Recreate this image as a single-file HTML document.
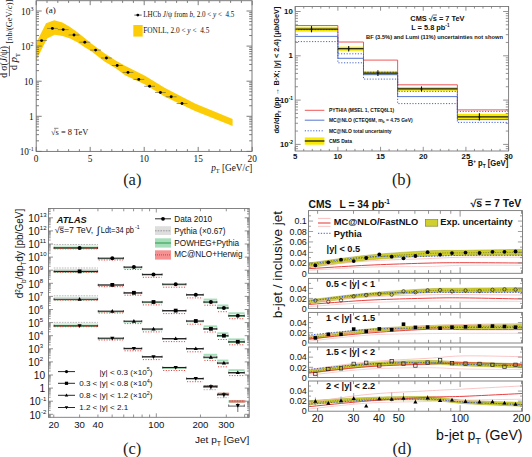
<!DOCTYPE html>
<html><head><meta charset="utf-8"><style>
html,body{margin:0;padding:0;background:#fff;width:532px;height:457px;overflow:hidden}
svg{display:block}

</style></head><body>
<svg width="532" height="457" viewBox="0 0 532 457">
<rect width="532" height="457" fill="#fff"/>
<polygon points="36.40,42.50 46.00,23.30 54.20,20.30 62.40,22.60 70.10,27.10 77.80,32.60 92.00,43.90 104.10,52.90 116.10,60.70 125.00,65.70 145.00,75.70 165.00,88.00 195.00,103.50 232.60,119.10 232.60,125.90 195.00,111.10 165.00,96.70 145.00,84.50 125.00,75.20 116.10,68.60 104.10,61.30 92.00,51.70 84.00,46.80 77.80,42.40 70.10,38.60 62.40,35.90 54.80,34.80 47.10,38.60 36.40,60.00" fill="#fccd06" />
<line x1="36.20" y1="40.60" x2="47.00" y2="40.60" stroke="#555" stroke-width="0.6" />
<circle cx="41.60" cy="40.60" r="1.45" fill="#000" stroke="none" stroke-width="1"/>
<line x1="47.00" y1="28.40" x2="57.80" y2="28.40" stroke="#555" stroke-width="0.6" />
<circle cx="52.40" cy="28.40" r="1.45" fill="#000" stroke="none" stroke-width="1"/>
<line x1="57.80" y1="29.60" x2="68.60" y2="29.60" stroke="#555" stroke-width="0.6" />
<circle cx="63.20" cy="29.60" r="1.45" fill="#000" stroke="none" stroke-width="1"/>
<line x1="68.60" y1="35.00" x2="79.40" y2="35.00" stroke="#555" stroke-width="0.6" />
<circle cx="74.00" cy="35.00" r="1.45" fill="#000" stroke="none" stroke-width="1"/>
<line x1="79.40" y1="42.20" x2="90.20" y2="42.20" stroke="#555" stroke-width="0.6" />
<circle cx="84.80" cy="42.20" r="1.45" fill="#000" stroke="none" stroke-width="1"/>
<line x1="90.20" y1="50.10" x2="101.00" y2="50.10" stroke="#555" stroke-width="0.6" />
<circle cx="95.60" cy="50.10" r="1.45" fill="#000" stroke="none" stroke-width="1"/>
<line x1="101.00" y1="58.00" x2="111.80" y2="58.00" stroke="#555" stroke-width="0.6" />
<circle cx="106.40" cy="58.00" r="1.45" fill="#000" stroke="none" stroke-width="1"/>
<line x1="111.80" y1="65.50" x2="122.60" y2="65.50" stroke="#555" stroke-width="0.6" />
<circle cx="117.20" cy="65.50" r="1.45" fill="#000" stroke="none" stroke-width="1"/>
<line x1="122.60" y1="72.40" x2="133.40" y2="72.40" stroke="#555" stroke-width="0.6" />
<circle cx="128.00" cy="72.40" r="1.45" fill="#000" stroke="none" stroke-width="1"/>
<line x1="133.40" y1="79.40" x2="144.20" y2="79.40" stroke="#555" stroke-width="0.6" />
<circle cx="138.80" cy="79.40" r="1.45" fill="#000" stroke="none" stroke-width="1"/>
<line x1="144.20" y1="86.30" x2="155.00" y2="86.30" stroke="#555" stroke-width="0.6" />
<circle cx="149.60" cy="86.30" r="1.45" fill="#000" stroke="none" stroke-width="1"/>
<line x1="155.00" y1="92.50" x2="165.80" y2="92.50" stroke="#555" stroke-width="0.6" />
<circle cx="160.40" cy="92.50" r="1.45" fill="#000" stroke="none" stroke-width="1"/>
<line x1="165.80" y1="96.80" x2="176.60" y2="96.80" stroke="#555" stroke-width="0.6" />
<circle cx="171.20" cy="96.80" r="1.45" fill="#000" stroke="none" stroke-width="1"/>
<line x1="176.60" y1="103.50" x2="187.40" y2="103.50" stroke="#555" stroke-width="0.6" />
<circle cx="182.00" cy="103.50" r="1.45" fill="#000" stroke="none" stroke-width="1"/>
<rect x="36.20" y="0.70" width="215.80" height="150.70" fill="none" stroke="#6e6e6e" stroke-width="0.9" />
<line x1="36.20" y1="151.40" x2="36.20" y2="146.90" stroke="#6e6e6e" stroke-width="0.9" />
<line x1="36.20" y1="0.70" x2="36.20" y2="5.20" stroke="#6e6e6e" stroke-width="0.9" />
<line x1="47.00" y1="151.40" x2="47.00" y2="149.20" stroke="#6e6e6e" stroke-width="0.9" />
<line x1="47.00" y1="0.70" x2="47.00" y2="2.90" stroke="#6e6e6e" stroke-width="0.9" />
<line x1="57.80" y1="151.40" x2="57.80" y2="149.20" stroke="#6e6e6e" stroke-width="0.9" />
<line x1="57.80" y1="0.70" x2="57.80" y2="2.90" stroke="#6e6e6e" stroke-width="0.9" />
<line x1="68.60" y1="151.40" x2="68.60" y2="149.20" stroke="#6e6e6e" stroke-width="0.9" />
<line x1="68.60" y1="0.70" x2="68.60" y2="2.90" stroke="#6e6e6e" stroke-width="0.9" />
<line x1="79.40" y1="151.40" x2="79.40" y2="149.20" stroke="#6e6e6e" stroke-width="0.9" />
<line x1="79.40" y1="0.70" x2="79.40" y2="2.90" stroke="#6e6e6e" stroke-width="0.9" />
<line x1="90.20" y1="151.40" x2="90.20" y2="146.90" stroke="#6e6e6e" stroke-width="0.9" />
<line x1="90.20" y1="0.70" x2="90.20" y2="5.20" stroke="#6e6e6e" stroke-width="0.9" />
<line x1="101.00" y1="151.40" x2="101.00" y2="149.20" stroke="#6e6e6e" stroke-width="0.9" />
<line x1="101.00" y1="0.70" x2="101.00" y2="2.90" stroke="#6e6e6e" stroke-width="0.9" />
<line x1="111.80" y1="151.40" x2="111.80" y2="149.20" stroke="#6e6e6e" stroke-width="0.9" />
<line x1="111.80" y1="0.70" x2="111.80" y2="2.90" stroke="#6e6e6e" stroke-width="0.9" />
<line x1="122.60" y1="151.40" x2="122.60" y2="149.20" stroke="#6e6e6e" stroke-width="0.9" />
<line x1="122.60" y1="0.70" x2="122.60" y2="2.90" stroke="#6e6e6e" stroke-width="0.9" />
<line x1="133.40" y1="151.40" x2="133.40" y2="149.20" stroke="#6e6e6e" stroke-width="0.9" />
<line x1="133.40" y1="0.70" x2="133.40" y2="2.90" stroke="#6e6e6e" stroke-width="0.9" />
<line x1="144.20" y1="151.40" x2="144.20" y2="146.90" stroke="#6e6e6e" stroke-width="0.9" />
<line x1="144.20" y1="0.70" x2="144.20" y2="5.20" stroke="#6e6e6e" stroke-width="0.9" />
<line x1="155.00" y1="151.40" x2="155.00" y2="149.20" stroke="#6e6e6e" stroke-width="0.9" />
<line x1="155.00" y1="0.70" x2="155.00" y2="2.90" stroke="#6e6e6e" stroke-width="0.9" />
<line x1="165.80" y1="151.40" x2="165.80" y2="149.20" stroke="#6e6e6e" stroke-width="0.9" />
<line x1="165.80" y1="0.70" x2="165.80" y2="2.90" stroke="#6e6e6e" stroke-width="0.9" />
<line x1="176.60" y1="151.40" x2="176.60" y2="149.20" stroke="#6e6e6e" stroke-width="0.9" />
<line x1="176.60" y1="0.70" x2="176.60" y2="2.90" stroke="#6e6e6e" stroke-width="0.9" />
<line x1="187.40" y1="151.40" x2="187.40" y2="149.20" stroke="#6e6e6e" stroke-width="0.9" />
<line x1="187.40" y1="0.70" x2="187.40" y2="2.90" stroke="#6e6e6e" stroke-width="0.9" />
<line x1="198.20" y1="151.40" x2="198.20" y2="146.90" stroke="#6e6e6e" stroke-width="0.9" />
<line x1="198.20" y1="0.70" x2="198.20" y2="5.20" stroke="#6e6e6e" stroke-width="0.9" />
<line x1="209.00" y1="151.40" x2="209.00" y2="149.20" stroke="#6e6e6e" stroke-width="0.9" />
<line x1="209.00" y1="0.70" x2="209.00" y2="2.90" stroke="#6e6e6e" stroke-width="0.9" />
<line x1="219.80" y1="151.40" x2="219.80" y2="149.20" stroke="#6e6e6e" stroke-width="0.9" />
<line x1="219.80" y1="0.70" x2="219.80" y2="2.90" stroke="#6e6e6e" stroke-width="0.9" />
<line x1="230.60" y1="151.40" x2="230.60" y2="149.20" stroke="#6e6e6e" stroke-width="0.9" />
<line x1="230.60" y1="0.70" x2="230.60" y2="2.90" stroke="#6e6e6e" stroke-width="0.9" />
<line x1="241.40" y1="151.40" x2="241.40" y2="149.20" stroke="#6e6e6e" stroke-width="0.9" />
<line x1="241.40" y1="0.70" x2="241.40" y2="2.90" stroke="#6e6e6e" stroke-width="0.9" />
<line x1="252.20" y1="151.40" x2="252.20" y2="146.90" stroke="#6e6e6e" stroke-width="0.9" />
<line x1="252.20" y1="0.70" x2="252.20" y2="5.20" stroke="#6e6e6e" stroke-width="0.9" />
<line x1="36.20" y1="151.40" x2="41.70" y2="151.40" stroke="#6e6e6e" stroke-width="0.9" />
<line x1="252.00" y1="151.40" x2="246.50" y2="151.40" stroke="#6e6e6e" stroke-width="0.9" />
<line x1="36.20" y1="140.83" x2="39.00" y2="140.83" stroke="#6e6e6e" stroke-width="0.9" />
<line x1="252.00" y1="140.83" x2="249.20" y2="140.83" stroke="#6e6e6e" stroke-width="0.9" />
<line x1="36.20" y1="134.65" x2="39.00" y2="134.65" stroke="#6e6e6e" stroke-width="0.9" />
<line x1="252.00" y1="134.65" x2="249.20" y2="134.65" stroke="#6e6e6e" stroke-width="0.9" />
<line x1="36.20" y1="130.27" x2="39.00" y2="130.27" stroke="#6e6e6e" stroke-width="0.9" />
<line x1="252.00" y1="130.27" x2="249.20" y2="130.27" stroke="#6e6e6e" stroke-width="0.9" />
<line x1="36.20" y1="126.87" x2="39.00" y2="126.87" stroke="#6e6e6e" stroke-width="0.9" />
<line x1="252.00" y1="126.87" x2="249.20" y2="126.87" stroke="#6e6e6e" stroke-width="0.9" />
<line x1="36.20" y1="124.09" x2="39.00" y2="124.09" stroke="#6e6e6e" stroke-width="0.9" />
<line x1="252.00" y1="124.09" x2="249.20" y2="124.09" stroke="#6e6e6e" stroke-width="0.9" />
<line x1="36.20" y1="121.74" x2="39.00" y2="121.74" stroke="#6e6e6e" stroke-width="0.9" />
<line x1="252.00" y1="121.74" x2="249.20" y2="121.74" stroke="#6e6e6e" stroke-width="0.9" />
<line x1="36.20" y1="119.70" x2="39.00" y2="119.70" stroke="#6e6e6e" stroke-width="0.9" />
<line x1="252.00" y1="119.70" x2="249.20" y2="119.70" stroke="#6e6e6e" stroke-width="0.9" />
<line x1="36.20" y1="117.91" x2="39.00" y2="117.91" stroke="#6e6e6e" stroke-width="0.9" />
<line x1="252.00" y1="117.91" x2="249.20" y2="117.91" stroke="#6e6e6e" stroke-width="0.9" />
<line x1="36.20" y1="116.30" x2="41.70" y2="116.30" stroke="#6e6e6e" stroke-width="0.9" />
<line x1="252.00" y1="116.30" x2="246.50" y2="116.30" stroke="#6e6e6e" stroke-width="0.9" />
<line x1="36.20" y1="105.73" x2="39.00" y2="105.73" stroke="#6e6e6e" stroke-width="0.9" />
<line x1="252.00" y1="105.73" x2="249.20" y2="105.73" stroke="#6e6e6e" stroke-width="0.9" />
<line x1="36.20" y1="99.55" x2="39.00" y2="99.55" stroke="#6e6e6e" stroke-width="0.9" />
<line x1="252.00" y1="99.55" x2="249.20" y2="99.55" stroke="#6e6e6e" stroke-width="0.9" />
<line x1="36.20" y1="95.17" x2="39.00" y2="95.17" stroke="#6e6e6e" stroke-width="0.9" />
<line x1="252.00" y1="95.17" x2="249.20" y2="95.17" stroke="#6e6e6e" stroke-width="0.9" />
<line x1="36.20" y1="91.77" x2="39.00" y2="91.77" stroke="#6e6e6e" stroke-width="0.9" />
<line x1="252.00" y1="91.77" x2="249.20" y2="91.77" stroke="#6e6e6e" stroke-width="0.9" />
<line x1="36.20" y1="88.99" x2="39.00" y2="88.99" stroke="#6e6e6e" stroke-width="0.9" />
<line x1="252.00" y1="88.99" x2="249.20" y2="88.99" stroke="#6e6e6e" stroke-width="0.9" />
<line x1="36.20" y1="86.64" x2="39.00" y2="86.64" stroke="#6e6e6e" stroke-width="0.9" />
<line x1="252.00" y1="86.64" x2="249.20" y2="86.64" stroke="#6e6e6e" stroke-width="0.9" />
<line x1="36.20" y1="84.60" x2="39.00" y2="84.60" stroke="#6e6e6e" stroke-width="0.9" />
<line x1="252.00" y1="84.60" x2="249.20" y2="84.60" stroke="#6e6e6e" stroke-width="0.9" />
<line x1="36.20" y1="82.81" x2="39.00" y2="82.81" stroke="#6e6e6e" stroke-width="0.9" />
<line x1="252.00" y1="82.81" x2="249.20" y2="82.81" stroke="#6e6e6e" stroke-width="0.9" />
<line x1="36.20" y1="81.20" x2="41.70" y2="81.20" stroke="#6e6e6e" stroke-width="0.9" />
<line x1="252.00" y1="81.20" x2="246.50" y2="81.20" stroke="#6e6e6e" stroke-width="0.9" />
<line x1="36.20" y1="70.63" x2="39.00" y2="70.63" stroke="#6e6e6e" stroke-width="0.9" />
<line x1="252.00" y1="70.63" x2="249.20" y2="70.63" stroke="#6e6e6e" stroke-width="0.9" />
<line x1="36.20" y1="64.45" x2="39.00" y2="64.45" stroke="#6e6e6e" stroke-width="0.9" />
<line x1="252.00" y1="64.45" x2="249.20" y2="64.45" stroke="#6e6e6e" stroke-width="0.9" />
<line x1="36.20" y1="60.07" x2="39.00" y2="60.07" stroke="#6e6e6e" stroke-width="0.9" />
<line x1="252.00" y1="60.07" x2="249.20" y2="60.07" stroke="#6e6e6e" stroke-width="0.9" />
<line x1="36.20" y1="56.67" x2="39.00" y2="56.67" stroke="#6e6e6e" stroke-width="0.9" />
<line x1="252.00" y1="56.67" x2="249.20" y2="56.67" stroke="#6e6e6e" stroke-width="0.9" />
<line x1="36.20" y1="53.89" x2="39.00" y2="53.89" stroke="#6e6e6e" stroke-width="0.9" />
<line x1="252.00" y1="53.89" x2="249.20" y2="53.89" stroke="#6e6e6e" stroke-width="0.9" />
<line x1="36.20" y1="51.54" x2="39.00" y2="51.54" stroke="#6e6e6e" stroke-width="0.9" />
<line x1="252.00" y1="51.54" x2="249.20" y2="51.54" stroke="#6e6e6e" stroke-width="0.9" />
<line x1="36.20" y1="49.50" x2="39.00" y2="49.50" stroke="#6e6e6e" stroke-width="0.9" />
<line x1="252.00" y1="49.50" x2="249.20" y2="49.50" stroke="#6e6e6e" stroke-width="0.9" />
<line x1="36.20" y1="47.71" x2="39.00" y2="47.71" stroke="#6e6e6e" stroke-width="0.9" />
<line x1="252.00" y1="47.71" x2="249.20" y2="47.71" stroke="#6e6e6e" stroke-width="0.9" />
<line x1="36.20" y1="46.10" x2="41.70" y2="46.10" stroke="#6e6e6e" stroke-width="0.9" />
<line x1="252.00" y1="46.10" x2="246.50" y2="46.10" stroke="#6e6e6e" stroke-width="0.9" />
<line x1="36.20" y1="35.53" x2="39.00" y2="35.53" stroke="#6e6e6e" stroke-width="0.9" />
<line x1="252.00" y1="35.53" x2="249.20" y2="35.53" stroke="#6e6e6e" stroke-width="0.9" />
<line x1="36.20" y1="29.35" x2="39.00" y2="29.35" stroke="#6e6e6e" stroke-width="0.9" />
<line x1="252.00" y1="29.35" x2="249.20" y2="29.35" stroke="#6e6e6e" stroke-width="0.9" />
<line x1="36.20" y1="24.97" x2="39.00" y2="24.97" stroke="#6e6e6e" stroke-width="0.9" />
<line x1="252.00" y1="24.97" x2="249.20" y2="24.97" stroke="#6e6e6e" stroke-width="0.9" />
<line x1="36.20" y1="21.57" x2="39.00" y2="21.57" stroke="#6e6e6e" stroke-width="0.9" />
<line x1="252.00" y1="21.57" x2="249.20" y2="21.57" stroke="#6e6e6e" stroke-width="0.9" />
<line x1="36.20" y1="18.79" x2="39.00" y2="18.79" stroke="#6e6e6e" stroke-width="0.9" />
<line x1="252.00" y1="18.79" x2="249.20" y2="18.79" stroke="#6e6e6e" stroke-width="0.9" />
<line x1="36.20" y1="16.44" x2="39.00" y2="16.44" stroke="#6e6e6e" stroke-width="0.9" />
<line x1="252.00" y1="16.44" x2="249.20" y2="16.44" stroke="#6e6e6e" stroke-width="0.9" />
<line x1="36.20" y1="14.40" x2="39.00" y2="14.40" stroke="#6e6e6e" stroke-width="0.9" />
<line x1="252.00" y1="14.40" x2="249.20" y2="14.40" stroke="#6e6e6e" stroke-width="0.9" />
<line x1="36.20" y1="12.61" x2="39.00" y2="12.61" stroke="#6e6e6e" stroke-width="0.9" />
<line x1="252.00" y1="12.61" x2="249.20" y2="12.61" stroke="#6e6e6e" stroke-width="0.9" />
<line x1="36.20" y1="11.00" x2="41.70" y2="11.00" stroke="#6e6e6e" stroke-width="0.9" />
<line x1="252.00" y1="11.00" x2="246.50" y2="11.00" stroke="#6e6e6e" stroke-width="0.9" />
<text x="36.20" y="162.00" font-family='"Liberation Serif", serif' font-size="9.3" text-anchor="middle" font-weight="normal" font-style="normal" fill="#111" >0</text>
<text x="90.20" y="162.00" font-family='"Liberation Serif", serif' font-size="9.3" text-anchor="middle" font-weight="normal" font-style="normal" fill="#111" >5</text>
<text x="144.20" y="162.00" font-family='"Liberation Serif", serif' font-size="9.3" text-anchor="middle" font-weight="normal" font-style="normal" fill="#111" >10</text>
<text x="198.20" y="162.00" font-family='"Liberation Serif", serif' font-size="9.3" text-anchor="middle" font-weight="normal" font-style="normal" fill="#111" >15</text>
<text x="252.20" y="162.00" font-family='"Liberation Serif", serif' font-size="9.3" text-anchor="middle" font-weight="normal" font-style="normal" fill="#111" >20</text>
<text x="30.40" y="15.00" font-family='"Liberation Serif", serif' font-size="9.3" text-anchor="end" font-weight="normal" font-style="normal" fill="#111" >10</text>
<text x="30.60" y="11.00" font-family='"Liberation Serif", serif' font-size="6" text-anchor="start" font-weight="normal" font-style="normal" fill="#111" >3</text>
<text x="30.40" y="50.10" font-family='"Liberation Serif", serif' font-size="9.3" text-anchor="end" font-weight="normal" font-style="normal" fill="#111" >10</text>
<text x="30.60" y="46.10" font-family='"Liberation Serif", serif' font-size="6" text-anchor="start" font-weight="normal" font-style="normal" fill="#111" >2</text>
<text x="33.20" y="85.20" font-family='"Liberation Serif", serif' font-size="9.3" text-anchor="end" font-weight="normal" font-style="normal" fill="#111" >10</text>
<text x="33.60" y="120.10" font-family='"Liberation Serif", serif' font-size="9.3" text-anchor="end" font-weight="normal" font-style="normal" fill="#111" >1</text>
<text x="29.00" y="155.00" font-family='"Liberation Serif", serif' font-size="9.3" text-anchor="end" font-weight="normal" font-style="normal" fill="#111" >10</text>
<text x="28.80" y="151.10" font-family='"Liberation Serif", serif' font-size="6" text-anchor="start" font-weight="normal" font-style="normal" fill="#111" >-1</text>
<text x="252.4" y="170.5" font-family='"Liberation Serif", serif' font-size="9.3" text-anchor="end" fill="#111"><tspan font-style="italic">p</tspan><tspan font-size="6.2" dy="2.2">T</tspan><tspan dy="-2.2"> [GeV/</tspan><tspan font-style="italic">c</tspan>]</text>
<g transform="translate(6.8,62.0) rotate(-90)"><text x="0" y="0" font-family='"Liberation Serif", serif' font-size="9.6" text-anchor="middle" fill="#111">d σ(<tspan font-style="italic">J</tspan>/ψ)</text></g>
<line x1="9.40" y1="45.80" x2="9.40" y2="76.20" stroke="#222" stroke-width="0.7" />
<g transform="translate(17.3,61.6) rotate(-90)"><text x="0" y="0" font-family='"Liberation Serif", serif' font-size="9.8" text-anchor="middle" fill="#111">d <tspan font-style="italic" font-size="11.0">p</tspan><tspan font-size="6.3" dy="2.6">T</tspan></text></g>
<g transform="translate(12.0,43.5) rotate(-90)"><text x="0" y="0" font-family='"Liberation Serif", serif' font-size="8.4" text-anchor="start" fill="#111">[nb/(GeV/<tspan font-style="italic">c</tspan>)]</text></g>
<text x="45.80" y="13.40" font-family='"Liberation Serif", serif' font-size="9.0" text-anchor="start" font-weight="normal" font-style="normal" fill="#111" >(a)</text>
<line x1="134.30" y1="15.10" x2="141.70" y2="15.10" stroke="#222" stroke-width="0.7" />
<circle cx="137.80" cy="15.10" r="1.40" fill="#000" stroke="none" stroke-width="1"/>
<text x="143.3" y="17.4" textLength="91" lengthAdjust="spacingAndGlyphs" font-family='"Liberation Serif", serif' font-size="7.3" fill="#111">LHCb <tspan font-style="italic">J</tspan>/ψ from <tspan font-style="italic">b</tspan>, 2.0 &lt; <tspan font-style="italic">y</tspan> &lt;&#160; 4.5</text>
<rect x="133.30" y="25.00" width="9.40" height="11.60" fill="#fccd06" stroke="none" stroke-width="1" />
<text x="143.3" y="33.0" font-family='"Liberation Serif", serif' font-size="7.3" fill="#111">FONLL, 2.0 &lt; <tspan font-style="italic">y</tspan> &lt;&#160; 4.5</text>
<text x="51.00" y="134.60" font-family='"Liberation Serif", serif' font-size="7.9" text-anchor="start" font-weight="normal" font-style="normal" fill="#111"  textLength="37.2" lengthAdjust="spacingAndGlyphs">√s = 8 TeV</text>
<line x1="54.00" y1="128.30" x2="58.40" y2="128.30" stroke="#111" stroke-width="0.5" />
<text x="132.30" y="185.00" font-family='"Liberation Serif", serif' font-size="16.5" text-anchor="middle" font-weight="normal" font-style="normal" fill="#222" >(a)</text>
<rect x="295.20" y="26.70" width="42.68" height="5.00" fill="#f7ea00" stroke="none" stroke-width="1" />
<rect x="337.88" y="46.60" width="25.61" height="4.20" fill="#f7ea00" stroke="none" stroke-width="1" />
<rect x="363.49" y="70.90" width="34.14" height="4.40" fill="#f7ea00" stroke="none" stroke-width="1" />
<rect x="397.63" y="87.00" width="59.75" height="3.80" fill="#f7ea00" stroke="none" stroke-width="1" />
<rect x="457.38" y="113.80" width="51.22" height="6.20" fill="#f7ea00" stroke="none" stroke-width="1" />
<polyline points="295.20,25.50 337.88,25.50 337.88,42.00 363.49,42.00 363.49,60.10 397.63,60.10 397.63,84.80 457.38,84.80 457.38,109.90 508.60,109.90" fill="none" stroke="#ee4444" stroke-width="0.9" />
<polyline points="295.20,36.40 337.88,36.40 337.88,58.30 363.49,58.30 363.49,74.60 397.63,74.60 397.63,96.60 457.38,96.60 457.38,119.60 508.60,119.60" fill="none" stroke="#4466cc" stroke-width="0.9" />
<polyline points="295.20,29.60 337.88,29.60 337.88,53.80 363.49,53.80 363.49,72.20 397.63,72.20 397.63,91.40 457.38,91.40 457.38,111.40 508.60,111.40" fill="none" stroke="#3355cc" stroke-width="0.9" stroke-dasharray="1.2,1.6"/>
<polyline points="295.20,41.60 337.88,41.60 337.88,62.80 363.49,62.80 363.49,79.10 397.63,79.10 397.63,103.60 457.38,103.60 457.38,122.40 508.60,122.40" fill="none" stroke="#3355cc" stroke-width="0.9" stroke-dasharray="1.2,1.6"/>
<line x1="295.20" y1="29.20" x2="337.88" y2="29.20" stroke="#1a1a1a" stroke-width="1.25" />
<line x1="311.50" y1="26.10" x2="311.50" y2="32.30" stroke="#111" stroke-width="1.1" />
<circle cx="311.50" cy="29.20" r="0.90" fill="#111" stroke="none" stroke-width="1"/>
<line x1="337.88" y1="48.70" x2="363.49" y2="48.70" stroke="#1a1a1a" stroke-width="1.25" />
<line x1="348.70" y1="46.00" x2="348.70" y2="51.40" stroke="#111" stroke-width="1.1" />
<circle cx="348.70" cy="48.70" r="0.90" fill="#111" stroke="none" stroke-width="1"/>
<line x1="363.49" y1="73.10" x2="397.63" y2="73.10" stroke="#1a1a1a" stroke-width="1.25" />
<line x1="377.90" y1="70.30" x2="377.90" y2="75.90" stroke="#111" stroke-width="1.1" />
<circle cx="377.90" cy="73.10" r="0.90" fill="#111" stroke="none" stroke-width="1"/>
<line x1="397.63" y1="88.90" x2="457.38" y2="88.90" stroke="#1a1a1a" stroke-width="1.25" />
<line x1="421.50" y1="86.40" x2="421.50" y2="91.40" stroke="#111" stroke-width="1.1" />
<circle cx="421.50" cy="88.90" r="0.90" fill="#111" stroke="none" stroke-width="1"/>
<line x1="457.38" y1="116.90" x2="508.60" y2="116.90" stroke="#1a1a1a" stroke-width="1.25" />
<line x1="479.40" y1="113.20" x2="479.40" y2="120.60" stroke="#111" stroke-width="1.1" />
<circle cx="479.40" cy="116.90" r="0.90" fill="#111" stroke="none" stroke-width="1"/>
<rect x="295.20" y="6.50" width="213.40" height="144.50" fill="none" stroke="#777" stroke-width="0.9" />
<line x1="295.20" y1="151.00" x2="295.20" y2="146.80" stroke="#777" stroke-width="0.8" />
<line x1="295.20" y1="6.50" x2="295.20" y2="10.70" stroke="#777" stroke-width="0.8" />
<line x1="303.74" y1="151.00" x2="303.74" y2="148.90" stroke="#777" stroke-width="0.8" />
<line x1="303.74" y1="6.50" x2="303.74" y2="8.60" stroke="#777" stroke-width="0.8" />
<line x1="312.27" y1="151.00" x2="312.27" y2="148.90" stroke="#777" stroke-width="0.8" />
<line x1="312.27" y1="6.50" x2="312.27" y2="8.60" stroke="#777" stroke-width="0.8" />
<line x1="320.81" y1="151.00" x2="320.81" y2="148.90" stroke="#777" stroke-width="0.8" />
<line x1="320.81" y1="6.50" x2="320.81" y2="8.60" stroke="#777" stroke-width="0.8" />
<line x1="329.34" y1="151.00" x2="329.34" y2="148.90" stroke="#777" stroke-width="0.8" />
<line x1="329.34" y1="6.50" x2="329.34" y2="8.60" stroke="#777" stroke-width="0.8" />
<line x1="337.88" y1="151.00" x2="337.88" y2="146.80" stroke="#777" stroke-width="0.8" />
<line x1="337.88" y1="6.50" x2="337.88" y2="10.70" stroke="#777" stroke-width="0.8" />
<line x1="346.42" y1="151.00" x2="346.42" y2="148.90" stroke="#777" stroke-width="0.8" />
<line x1="346.42" y1="6.50" x2="346.42" y2="8.60" stroke="#777" stroke-width="0.8" />
<line x1="354.95" y1="151.00" x2="354.95" y2="148.90" stroke="#777" stroke-width="0.8" />
<line x1="354.95" y1="6.50" x2="354.95" y2="8.60" stroke="#777" stroke-width="0.8" />
<line x1="363.49" y1="151.00" x2="363.49" y2="148.90" stroke="#777" stroke-width="0.8" />
<line x1="363.49" y1="6.50" x2="363.49" y2="8.60" stroke="#777" stroke-width="0.8" />
<line x1="372.02" y1="151.00" x2="372.02" y2="148.90" stroke="#777" stroke-width="0.8" />
<line x1="372.02" y1="6.50" x2="372.02" y2="8.60" stroke="#777" stroke-width="0.8" />
<line x1="380.56" y1="151.00" x2="380.56" y2="146.80" stroke="#777" stroke-width="0.8" />
<line x1="380.56" y1="6.50" x2="380.56" y2="10.70" stroke="#777" stroke-width="0.8" />
<line x1="389.10" y1="151.00" x2="389.10" y2="148.90" stroke="#777" stroke-width="0.8" />
<line x1="389.10" y1="6.50" x2="389.10" y2="8.60" stroke="#777" stroke-width="0.8" />
<line x1="397.63" y1="151.00" x2="397.63" y2="148.90" stroke="#777" stroke-width="0.8" />
<line x1="397.63" y1="6.50" x2="397.63" y2="8.60" stroke="#777" stroke-width="0.8" />
<line x1="406.17" y1="151.00" x2="406.17" y2="148.90" stroke="#777" stroke-width="0.8" />
<line x1="406.17" y1="6.50" x2="406.17" y2="8.60" stroke="#777" stroke-width="0.8" />
<line x1="414.70" y1="151.00" x2="414.70" y2="148.90" stroke="#777" stroke-width="0.8" />
<line x1="414.70" y1="6.50" x2="414.70" y2="8.60" stroke="#777" stroke-width="0.8" />
<line x1="423.24" y1="151.00" x2="423.24" y2="146.80" stroke="#777" stroke-width="0.8" />
<line x1="423.24" y1="6.50" x2="423.24" y2="10.70" stroke="#777" stroke-width="0.8" />
<line x1="431.78" y1="151.00" x2="431.78" y2="148.90" stroke="#777" stroke-width="0.8" />
<line x1="431.78" y1="6.50" x2="431.78" y2="8.60" stroke="#777" stroke-width="0.8" />
<line x1="440.31" y1="151.00" x2="440.31" y2="148.90" stroke="#777" stroke-width="0.8" />
<line x1="440.31" y1="6.50" x2="440.31" y2="8.60" stroke="#777" stroke-width="0.8" />
<line x1="448.85" y1="151.00" x2="448.85" y2="148.90" stroke="#777" stroke-width="0.8" />
<line x1="448.85" y1="6.50" x2="448.85" y2="8.60" stroke="#777" stroke-width="0.8" />
<line x1="457.38" y1="151.00" x2="457.38" y2="148.90" stroke="#777" stroke-width="0.8" />
<line x1="457.38" y1="6.50" x2="457.38" y2="8.60" stroke="#777" stroke-width="0.8" />
<line x1="465.92" y1="151.00" x2="465.92" y2="146.80" stroke="#777" stroke-width="0.8" />
<line x1="465.92" y1="6.50" x2="465.92" y2="10.70" stroke="#777" stroke-width="0.8" />
<line x1="474.46" y1="151.00" x2="474.46" y2="148.90" stroke="#777" stroke-width="0.8" />
<line x1="474.46" y1="6.50" x2="474.46" y2="8.60" stroke="#777" stroke-width="0.8" />
<line x1="482.99" y1="151.00" x2="482.99" y2="148.90" stroke="#777" stroke-width="0.8" />
<line x1="482.99" y1="6.50" x2="482.99" y2="8.60" stroke="#777" stroke-width="0.8" />
<line x1="491.53" y1="151.00" x2="491.53" y2="148.90" stroke="#777" stroke-width="0.8" />
<line x1="491.53" y1="6.50" x2="491.53" y2="8.60" stroke="#777" stroke-width="0.8" />
<line x1="500.06" y1="151.00" x2="500.06" y2="148.90" stroke="#777" stroke-width="0.8" />
<line x1="500.06" y1="6.50" x2="500.06" y2="8.60" stroke="#777" stroke-width="0.8" />
<line x1="508.60" y1="151.00" x2="508.60" y2="146.80" stroke="#777" stroke-width="0.8" />
<line x1="508.60" y1="6.50" x2="508.60" y2="10.70" stroke="#777" stroke-width="0.8" />
<line x1="295.20" y1="148.69" x2="298.00" y2="148.69" stroke="#777" stroke-width="0.8" />
<line x1="508.60" y1="148.69" x2="505.80" y2="148.69" stroke="#777" stroke-width="0.8" />
<line x1="295.20" y1="146.43" x2="298.00" y2="146.43" stroke="#777" stroke-width="0.8" />
<line x1="508.60" y1="146.43" x2="505.80" y2="146.43" stroke="#777" stroke-width="0.8" />
<line x1="295.20" y1="144.40" x2="300.70" y2="144.40" stroke="#777" stroke-width="0.8" />
<line x1="508.60" y1="144.40" x2="503.10" y2="144.40" stroke="#777" stroke-width="0.8" />
<line x1="295.20" y1="131.06" x2="298.00" y2="131.06" stroke="#777" stroke-width="0.8" />
<line x1="508.60" y1="131.06" x2="505.80" y2="131.06" stroke="#777" stroke-width="0.8" />
<line x1="295.20" y1="123.26" x2="298.00" y2="123.26" stroke="#777" stroke-width="0.8" />
<line x1="508.60" y1="123.26" x2="505.80" y2="123.26" stroke="#777" stroke-width="0.8" />
<line x1="295.20" y1="117.73" x2="298.00" y2="117.73" stroke="#777" stroke-width="0.8" />
<line x1="508.60" y1="117.73" x2="505.80" y2="117.73" stroke="#777" stroke-width="0.8" />
<line x1="295.20" y1="113.44" x2="298.00" y2="113.44" stroke="#777" stroke-width="0.8" />
<line x1="508.60" y1="113.44" x2="505.80" y2="113.44" stroke="#777" stroke-width="0.8" />
<line x1="295.20" y1="109.93" x2="298.00" y2="109.93" stroke="#777" stroke-width="0.8" />
<line x1="508.60" y1="109.93" x2="505.80" y2="109.93" stroke="#777" stroke-width="0.8" />
<line x1="295.20" y1="106.96" x2="298.00" y2="106.96" stroke="#777" stroke-width="0.8" />
<line x1="508.60" y1="106.96" x2="505.80" y2="106.96" stroke="#777" stroke-width="0.8" />
<line x1="295.20" y1="104.39" x2="298.00" y2="104.39" stroke="#777" stroke-width="0.8" />
<line x1="508.60" y1="104.39" x2="505.80" y2="104.39" stroke="#777" stroke-width="0.8" />
<line x1="295.20" y1="102.13" x2="298.00" y2="102.13" stroke="#777" stroke-width="0.8" />
<line x1="508.60" y1="102.13" x2="505.80" y2="102.13" stroke="#777" stroke-width="0.8" />
<line x1="295.20" y1="100.10" x2="300.70" y2="100.10" stroke="#777" stroke-width="0.8" />
<line x1="508.60" y1="100.10" x2="503.10" y2="100.10" stroke="#777" stroke-width="0.8" />
<line x1="295.20" y1="86.76" x2="298.00" y2="86.76" stroke="#777" stroke-width="0.8" />
<line x1="508.60" y1="86.76" x2="505.80" y2="86.76" stroke="#777" stroke-width="0.8" />
<line x1="295.20" y1="78.96" x2="298.00" y2="78.96" stroke="#777" stroke-width="0.8" />
<line x1="508.60" y1="78.96" x2="505.80" y2="78.96" stroke="#777" stroke-width="0.8" />
<line x1="295.20" y1="73.43" x2="298.00" y2="73.43" stroke="#777" stroke-width="0.8" />
<line x1="508.60" y1="73.43" x2="505.80" y2="73.43" stroke="#777" stroke-width="0.8" />
<line x1="295.20" y1="69.14" x2="298.00" y2="69.14" stroke="#777" stroke-width="0.8" />
<line x1="508.60" y1="69.14" x2="505.80" y2="69.14" stroke="#777" stroke-width="0.8" />
<line x1="295.20" y1="65.63" x2="298.00" y2="65.63" stroke="#777" stroke-width="0.8" />
<line x1="508.60" y1="65.63" x2="505.80" y2="65.63" stroke="#777" stroke-width="0.8" />
<line x1="295.20" y1="62.66" x2="298.00" y2="62.66" stroke="#777" stroke-width="0.8" />
<line x1="508.60" y1="62.66" x2="505.80" y2="62.66" stroke="#777" stroke-width="0.8" />
<line x1="295.20" y1="60.09" x2="298.00" y2="60.09" stroke="#777" stroke-width="0.8" />
<line x1="508.60" y1="60.09" x2="505.80" y2="60.09" stroke="#777" stroke-width="0.8" />
<line x1="295.20" y1="57.83" x2="298.00" y2="57.83" stroke="#777" stroke-width="0.8" />
<line x1="508.60" y1="57.83" x2="505.80" y2="57.83" stroke="#777" stroke-width="0.8" />
<line x1="295.20" y1="55.80" x2="300.70" y2="55.80" stroke="#777" stroke-width="0.8" />
<line x1="508.60" y1="55.80" x2="503.10" y2="55.80" stroke="#777" stroke-width="0.8" />
<line x1="295.20" y1="42.46" x2="298.00" y2="42.46" stroke="#777" stroke-width="0.8" />
<line x1="508.60" y1="42.46" x2="505.80" y2="42.46" stroke="#777" stroke-width="0.8" />
<line x1="295.20" y1="34.66" x2="298.00" y2="34.66" stroke="#777" stroke-width="0.8" />
<line x1="508.60" y1="34.66" x2="505.80" y2="34.66" stroke="#777" stroke-width="0.8" />
<line x1="295.20" y1="29.13" x2="298.00" y2="29.13" stroke="#777" stroke-width="0.8" />
<line x1="508.60" y1="29.13" x2="505.80" y2="29.13" stroke="#777" stroke-width="0.8" />
<line x1="295.20" y1="24.84" x2="298.00" y2="24.84" stroke="#777" stroke-width="0.8" />
<line x1="508.60" y1="24.84" x2="505.80" y2="24.84" stroke="#777" stroke-width="0.8" />
<line x1="295.20" y1="21.33" x2="298.00" y2="21.33" stroke="#777" stroke-width="0.8" />
<line x1="508.60" y1="21.33" x2="505.80" y2="21.33" stroke="#777" stroke-width="0.8" />
<line x1="295.20" y1="18.36" x2="298.00" y2="18.36" stroke="#777" stroke-width="0.8" />
<line x1="508.60" y1="18.36" x2="505.80" y2="18.36" stroke="#777" stroke-width="0.8" />
<line x1="295.20" y1="15.79" x2="298.00" y2="15.79" stroke="#777" stroke-width="0.8" />
<line x1="508.60" y1="15.79" x2="505.80" y2="15.79" stroke="#777" stroke-width="0.8" />
<line x1="295.20" y1="13.53" x2="298.00" y2="13.53" stroke="#777" stroke-width="0.8" />
<line x1="508.60" y1="13.53" x2="505.80" y2="13.53" stroke="#777" stroke-width="0.8" />
<line x1="295.20" y1="11.50" x2="300.70" y2="11.50" stroke="#777" stroke-width="0.8" />
<line x1="508.60" y1="11.50" x2="503.10" y2="11.50" stroke="#777" stroke-width="0.8" />
<text x="295.20" y="158.80" font-family='"Liberation Sans", sans-serif' font-size="7.8" text-anchor="middle" font-weight="bold" font-style="normal" fill="#111" >5</text>
<text x="337.88" y="158.80" font-family='"Liberation Sans", sans-serif' font-size="7.8" text-anchor="middle" font-weight="bold" font-style="normal" fill="#111" >10</text>
<text x="380.56" y="158.80" font-family='"Liberation Sans", sans-serif' font-size="7.8" text-anchor="middle" font-weight="bold" font-style="normal" fill="#111" >15</text>
<text x="423.24" y="158.80" font-family='"Liberation Sans", sans-serif' font-size="7.8" text-anchor="middle" font-weight="bold" font-style="normal" fill="#111" >20</text>
<text x="465.92" y="158.80" font-family='"Liberation Sans", sans-serif' font-size="7.8" text-anchor="middle" font-weight="bold" font-style="normal" fill="#111" >25</text>
<text x="508.60" y="158.80" font-family='"Liberation Sans", sans-serif' font-size="7.8" text-anchor="middle" font-weight="bold" font-style="normal" fill="#111" >30</text>
<text x="292.80" y="14.10" font-family='"Liberation Sans", sans-serif' font-size="7.8" text-anchor="end" font-weight="bold" font-style="normal" fill="#111" >10</text>
<text x="292.80" y="58.40" font-family='"Liberation Sans", sans-serif' font-size="7.8" text-anchor="end" font-weight="bold" font-style="normal" fill="#111" >1</text>
<text x="288.60" y="102.70" font-family='"Liberation Sans", sans-serif' font-size="7.8" text-anchor="end" font-weight="bold" font-style="normal" fill="#111" >10</text>
<text x="288.70" y="99.50" font-family='"Liberation Sans", sans-serif' font-size="4.8" text-anchor="start" font-weight="bold" font-style="normal" fill="#111" >-1</text>
<text x="288.60" y="147.00" font-family='"Liberation Sans", sans-serif' font-size="7.8" text-anchor="end" font-weight="bold" font-style="normal" fill="#111" >10</text>
<text x="288.70" y="143.80" font-family='"Liberation Sans", sans-serif' font-size="4.8" text-anchor="start" font-weight="bold" font-style="normal" fill="#111" >-2</text>
<text x="508.2" y="165.6" textLength="40.5" lengthAdjust="spacingAndGlyphs" font-family='"Liberation Sans", sans-serif' font-size="8.2" font-weight="bold" text-anchor="end" fill="#111">B<tspan font-size="5" dy="-3">+</tspan><tspan dy="3"> p</tspan><tspan font-size="5.2" dy="2">T</tspan><tspan dy="-2"> [GeV]</tspan></text>
<g transform="translate(279.2,133.6) rotate(-90)"><text x="0" y="0" textLength="127" lengthAdjust="spacingAndGlyphs" font-family='"Liberation Sans", sans-serif' font-size="7.0" font-weight="bold" fill="#111">dσ/dp<tspan font-size="4.3" dy="1.8">T</tspan><tspan dy="-1.8"> (pp → B</tspan><tspan font-size="4.3" dy="-2.4">+</tspan><tspan dy="2.4">X; |y| &lt; 2.4) [μb/GeV]</tspan></text></g>
<text x="410.30" y="20.60" font-family='"Liberation Sans", sans-serif' font-size="7.4" text-anchor="start" font-weight="bold" font-style="normal" fill="#111" >CMS √s = 7 TeV</text>
<line x1="432.70" y1="15.00" x2="437.00" y2="15.00" stroke="#111" stroke-width="0.6" />
<text x="411.2" y="30.4" font-family='"Liberation Sans", sans-serif' font-size="7.4" font-weight="bold" fill="#111">L = 5.8 pb<tspan font-size="4.6" dy="-3">-1</tspan></text>
<text x="366.00" y="38.80" font-family='"Liberation Sans", sans-serif' font-size="5.72" text-anchor="start" font-weight="bold" font-style="normal" fill="#111" >BF (3.5%) and Lumi (11%) uncertainties not shown</text>
<line x1="304.80" y1="110.30" x2="324.40" y2="110.30" stroke="#ee4444" stroke-width="0.9" />
<text x="328.90" y="112.10" font-family='"Liberation Sans", sans-serif' font-size="4.95" text-anchor="start" font-weight="bold" font-style="normal" fill="#111" >PYTHIA (MSEL 1, CTEQ6L1)</text>
<line x1="304.80" y1="120.20" x2="324.40" y2="120.20" stroke="#4466cc" stroke-width="0.9" />
<text x="328.9" y="122.0" font-family='"Liberation Sans", sans-serif' font-size="4.95" font-weight="bold" fill="#111">MC@NLO (CTEQ6M, m<tspan font-size="3.4" dy="1.3">b</tspan><tspan dy="-1.3"> = 4.75 GeV)</tspan></text>
<line x1="304.80" y1="130.80" x2="324.40" y2="130.80" stroke="#3355cc" stroke-width="0.9" stroke-dasharray="1.2,1.6"/>
<text x="328.90" y="132.60" font-family='"Liberation Sans", sans-serif' font-size="4.95" text-anchor="start" font-weight="bold" font-style="normal" fill="#111" >MC@NLO total uncertainty</text>
<rect x="304.80" y="137.40" width="19.60" height="7.30" fill="#f7ea00" stroke="none" stroke-width="1" />
<line x1="304.80" y1="141.00" x2="324.40" y2="141.00" stroke="#1a1a1a" stroke-width="1.25" />
<text x="328.90" y="142.80" font-family='"Liberation Sans", sans-serif' font-size="4.95" text-anchor="start" font-weight="bold" font-style="normal" fill="#111" >CMS Data</text>
<text x="401.50" y="185.00" font-family='"Liberation Serif", serif' font-size="16.5" text-anchor="middle" font-weight="normal" font-style="normal" fill="#222" >(b)</text>
<line x1="53.77" y1="244.50" x2="97.93" y2="244.50" stroke="#8a8a8a" stroke-width="0.6" stroke-dasharray="1.6,1.1"/>
<rect x="53.77" y="245.50" width="44.16" height="1.40" fill="#c4eacf" stroke="none" stroke-width="1" />
<line x1="53.77" y1="248.60" x2="97.93" y2="248.60" stroke="#3aa860" stroke-width="0.7" />
<line x1="53.77" y1="247.90" x2="97.93" y2="247.90" stroke="#1e1e1e" stroke-width="1.1" />
<line x1="54.07" y1="246.80" x2="54.07" y2="249.00" stroke="#1e1e1e" stroke-width="0.6" />
<line x1="97.63" y1="246.80" x2="97.63" y2="249.00" stroke="#1e1e1e" stroke-width="0.6" />
<line x1="54.57" y1="248.80" x2="97.13" y2="248.80" stroke="#e82a2a" stroke-width="0.9" stroke-dasharray="1.1,1.5"/>
<circle cx="79.60" cy="247.90" r="2.00" fill="#000" stroke="none" stroke-width="1"/>
<line x1="97.93" y1="258.90" x2="123.76" y2="258.90" stroke="#3aa860" stroke-width="0.7" />
<line x1="97.93" y1="258.20" x2="123.76" y2="258.20" stroke="#1e1e1e" stroke-width="1.1" />
<line x1="98.23" y1="257.10" x2="98.23" y2="259.30" stroke="#1e1e1e" stroke-width="0.6" />
<line x1="123.46" y1="257.10" x2="123.46" y2="259.30" stroke="#1e1e1e" stroke-width="0.6" />
<line x1="98.73" y1="260.00" x2="122.96" y2="260.00" stroke="#e82a2a" stroke-width="0.9" stroke-dasharray="1.1,1.5"/>
<circle cx="112.30" cy="258.20" r="2.00" fill="#000" stroke="none" stroke-width="1"/>
<line x1="123.76" y1="267.80" x2="142.09" y2="267.80" stroke="#3aa860" stroke-width="0.7" />
<line x1="123.76" y1="267.10" x2="142.09" y2="267.10" stroke="#1e1e1e" stroke-width="1.1" />
<line x1="124.06" y1="266.00" x2="124.06" y2="268.20" stroke="#1e1e1e" stroke-width="0.6" />
<line x1="141.79" y1="266.00" x2="141.79" y2="268.20" stroke="#1e1e1e" stroke-width="0.6" />
<line x1="124.56" y1="269.50" x2="141.29" y2="269.50" stroke="#e82a2a" stroke-width="0.9" stroke-dasharray="1.1,1.5"/>
<circle cx="133.90" cy="267.10" r="2.00" fill="#000" stroke="none" stroke-width="1"/>
<line x1="142.09" y1="275.10" x2="162.38" y2="275.10" stroke="#3aa860" stroke-width="0.7" />
<line x1="142.09" y1="274.40" x2="162.38" y2="274.40" stroke="#1e1e1e" stroke-width="1.1" />
<line x1="142.39" y1="273.30" x2="142.39" y2="275.50" stroke="#1e1e1e" stroke-width="0.6" />
<line x1="162.08" y1="273.30" x2="162.08" y2="275.50" stroke="#1e1e1e" stroke-width="0.6" />
<line x1="142.89" y1="277.30" x2="161.58" y2="277.30" stroke="#e82a2a" stroke-width="0.9" stroke-dasharray="1.1,1.5"/>
<circle cx="153.50" cy="274.40" r="2.00" fill="#000" stroke="none" stroke-width="1"/>
<line x1="162.38" y1="284.90" x2="186.25" y2="284.90" stroke="#3aa860" stroke-width="0.7" />
<line x1="162.38" y1="284.20" x2="186.25" y2="284.20" stroke="#1e1e1e" stroke-width="1.1" />
<line x1="162.68" y1="283.10" x2="162.68" y2="285.30" stroke="#1e1e1e" stroke-width="0.6" />
<line x1="185.95" y1="283.10" x2="185.95" y2="285.30" stroke="#1e1e1e" stroke-width="0.6" />
<line x1="163.18" y1="287.20" x2="185.45" y2="287.20" stroke="#e82a2a" stroke-width="0.9" stroke-dasharray="1.1,1.5"/>
<circle cx="175.70" cy="284.20" r="2.00" fill="#000" stroke="none" stroke-width="1"/>
<line x1="186.25" y1="295.40" x2="203.58" y2="295.40" stroke="#3aa860" stroke-width="0.7" />
<line x1="186.25" y1="294.70" x2="203.58" y2="294.70" stroke="#1e1e1e" stroke-width="1.1" />
<line x1="186.55" y1="293.60" x2="186.55" y2="295.80" stroke="#1e1e1e" stroke-width="0.6" />
<line x1="203.28" y1="293.60" x2="203.28" y2="295.80" stroke="#1e1e1e" stroke-width="0.6" />
<line x1="187.05" y1="297.90" x2="202.78" y2="297.90" stroke="#e82a2a" stroke-width="0.9" stroke-dasharray="1.1,1.5"/>
<circle cx="195.80" cy="294.70" r="2.00" fill="#000" stroke="none" stroke-width="1"/>
<rect x="203.58" y="298.60" width="13.61" height="2.00" fill="url(#hg)" stroke="none" stroke-width="1" />
<line x1="203.58" y1="302.70" x2="217.18" y2="302.70" stroke="#3aa860" stroke-width="0.7" />
<line x1="203.58" y1="302.00" x2="217.18" y2="302.00" stroke="#1e1e1e" stroke-width="1.1" />
<line x1="203.88" y1="300.90" x2="203.88" y2="303.10" stroke="#1e1e1e" stroke-width="0.6" />
<line x1="216.88" y1="300.90" x2="216.88" y2="303.10" stroke="#1e1e1e" stroke-width="0.6" />
<line x1="204.38" y1="305.20" x2="216.38" y2="305.20" stroke="#e82a2a" stroke-width="0.9" stroke-dasharray="1.1,1.5"/>
<circle cx="210.90" cy="302.00" r="2.00" fill="#000" stroke="none" stroke-width="1"/>
<rect x="217.18" y="304.50" width="11.21" height="2.00" fill="url(#hg)" stroke="none" stroke-width="1" />
<line x1="217.18" y1="308.60" x2="228.39" y2="308.60" stroke="#3aa860" stroke-width="0.7" />
<line x1="217.18" y1="307.90" x2="228.39" y2="307.90" stroke="#1e1e1e" stroke-width="1.1" />
<line x1="217.48" y1="306.80" x2="217.48" y2="309.00" stroke="#1e1e1e" stroke-width="0.6" />
<line x1="228.09" y1="306.80" x2="228.09" y2="309.00" stroke="#1e1e1e" stroke-width="0.6" />
<line x1="217.98" y1="311.70" x2="227.59" y2="311.70" stroke="#e82a2a" stroke-width="0.9" stroke-dasharray="1.1,1.5"/>
<circle cx="223.90" cy="307.90" r="2.00" fill="#000" stroke="none" stroke-width="1"/>
<rect x="228.39" y="312.30" width="16.24" height="2.00" fill="url(#hg)" stroke="none" stroke-width="1" />
<line x1="228.39" y1="316.40" x2="244.63" y2="316.40" stroke="#3aa860" stroke-width="0.7" />
<line x1="228.39" y1="315.70" x2="244.63" y2="315.70" stroke="#1e1e1e" stroke-width="1.1" />
<line x1="228.69" y1="314.60" x2="228.69" y2="316.80" stroke="#1e1e1e" stroke-width="0.6" />
<line x1="244.33" y1="314.60" x2="244.33" y2="316.80" stroke="#1e1e1e" stroke-width="0.6" />
<line x1="229.19" y1="318.70" x2="243.83" y2="318.70" stroke="#e82a2a" stroke-width="0.9" stroke-dasharray="1.1,1.5"/>
<circle cx="237.80" cy="315.70" r="2.00" fill="#000" stroke="none" stroke-width="1"/>
<line x1="53.77" y1="268.00" x2="97.93" y2="268.00" stroke="#8a8a8a" stroke-width="0.6" stroke-dasharray="1.6,1.1"/>
<rect x="53.77" y="269.00" width="44.16" height="1.40" fill="#c4eacf" stroke="none" stroke-width="1" />
<line x1="53.77" y1="272.10" x2="97.93" y2="272.10" stroke="#3aa860" stroke-width="0.7" />
<line x1="53.77" y1="271.40" x2="97.93" y2="271.40" stroke="#1e1e1e" stroke-width="1.1" />
<line x1="54.07" y1="270.30" x2="54.07" y2="272.50" stroke="#1e1e1e" stroke-width="0.6" />
<line x1="97.63" y1="270.30" x2="97.63" y2="272.50" stroke="#1e1e1e" stroke-width="0.6" />
<line x1="54.57" y1="272.30" x2="97.13" y2="272.30" stroke="#e82a2a" stroke-width="0.9" stroke-dasharray="1.1,1.5"/>
<rect x="77.70" y="269.50" width="3.80" height="3.80" fill="#000" stroke="none" stroke-width="1" />
<line x1="97.93" y1="285.60" x2="123.76" y2="285.60" stroke="#3aa860" stroke-width="0.7" />
<line x1="97.93" y1="284.90" x2="123.76" y2="284.90" stroke="#1e1e1e" stroke-width="1.1" />
<line x1="98.23" y1="283.80" x2="98.23" y2="286.00" stroke="#1e1e1e" stroke-width="0.6" />
<line x1="123.46" y1="283.80" x2="123.46" y2="286.00" stroke="#1e1e1e" stroke-width="0.6" />
<line x1="98.73" y1="286.70" x2="122.96" y2="286.70" stroke="#e82a2a" stroke-width="0.9" stroke-dasharray="1.1,1.5"/>
<rect x="110.40" y="283.00" width="3.80" height="3.80" fill="#000" stroke="none" stroke-width="1" />
<line x1="123.76" y1="293.50" x2="142.09" y2="293.50" stroke="#3aa860" stroke-width="0.7" />
<line x1="123.76" y1="292.80" x2="142.09" y2="292.80" stroke="#1e1e1e" stroke-width="1.1" />
<line x1="124.06" y1="291.70" x2="124.06" y2="293.90" stroke="#1e1e1e" stroke-width="0.6" />
<line x1="141.79" y1="291.70" x2="141.79" y2="293.90" stroke="#1e1e1e" stroke-width="0.6" />
<line x1="124.56" y1="295.20" x2="141.29" y2="295.20" stroke="#e82a2a" stroke-width="0.9" stroke-dasharray="1.1,1.5"/>
<rect x="132.00" y="290.90" width="3.80" height="3.80" fill="#000" stroke="none" stroke-width="1" />
<line x1="142.09" y1="302.70" x2="162.38" y2="302.70" stroke="#3aa860" stroke-width="0.7" />
<line x1="142.09" y1="302.00" x2="162.38" y2="302.00" stroke="#1e1e1e" stroke-width="1.1" />
<line x1="142.39" y1="300.90" x2="142.39" y2="303.10" stroke="#1e1e1e" stroke-width="0.6" />
<line x1="162.08" y1="300.90" x2="162.08" y2="303.10" stroke="#1e1e1e" stroke-width="0.6" />
<line x1="142.89" y1="304.90" x2="161.58" y2="304.90" stroke="#e82a2a" stroke-width="0.9" stroke-dasharray="1.1,1.5"/>
<rect x="151.60" y="300.10" width="3.80" height="3.80" fill="#000" stroke="none" stroke-width="1" />
<line x1="162.38" y1="311.30" x2="186.25" y2="311.30" stroke="#3aa860" stroke-width="0.7" />
<line x1="162.38" y1="310.60" x2="186.25" y2="310.60" stroke="#1e1e1e" stroke-width="1.1" />
<line x1="162.68" y1="309.50" x2="162.68" y2="311.70" stroke="#1e1e1e" stroke-width="0.6" />
<line x1="185.95" y1="309.50" x2="185.95" y2="311.70" stroke="#1e1e1e" stroke-width="0.6" />
<line x1="163.18" y1="313.60" x2="185.45" y2="313.60" stroke="#e82a2a" stroke-width="0.9" stroke-dasharray="1.1,1.5"/>
<rect x="173.80" y="308.70" width="3.80" height="3.80" fill="#000" stroke="none" stroke-width="1" />
<line x1="186.25" y1="321.70" x2="203.58" y2="321.70" stroke="#3aa860" stroke-width="0.7" />
<line x1="186.25" y1="321.00" x2="203.58" y2="321.00" stroke="#1e1e1e" stroke-width="1.1" />
<line x1="186.55" y1="319.90" x2="186.55" y2="322.10" stroke="#1e1e1e" stroke-width="0.6" />
<line x1="203.28" y1="319.90" x2="203.28" y2="322.10" stroke="#1e1e1e" stroke-width="0.6" />
<line x1="187.05" y1="324.20" x2="202.78" y2="324.20" stroke="#e82a2a" stroke-width="0.9" stroke-dasharray="1.1,1.5"/>
<rect x="193.90" y="319.10" width="3.80" height="3.80" fill="#000" stroke="none" stroke-width="1" />
<rect x="203.58" y="325.40" width="13.61" height="2.00" fill="url(#hg)" stroke="none" stroke-width="1" />
<line x1="203.58" y1="329.50" x2="217.18" y2="329.50" stroke="#3aa860" stroke-width="0.7" />
<line x1="203.58" y1="328.80" x2="217.18" y2="328.80" stroke="#1e1e1e" stroke-width="1.1" />
<line x1="203.88" y1="327.70" x2="203.88" y2="329.90" stroke="#1e1e1e" stroke-width="0.6" />
<line x1="216.88" y1="327.70" x2="216.88" y2="329.90" stroke="#1e1e1e" stroke-width="0.6" />
<line x1="204.38" y1="332.00" x2="216.38" y2="332.00" stroke="#e82a2a" stroke-width="0.9" stroke-dasharray="1.1,1.5"/>
<rect x="209.00" y="326.90" width="3.80" height="3.80" fill="#000" stroke="none" stroke-width="1" />
<rect x="217.18" y="332.30" width="11.21" height="2.00" fill="url(#hg)" stroke="none" stroke-width="1" />
<line x1="217.18" y1="336.40" x2="228.39" y2="336.40" stroke="#3aa860" stroke-width="0.7" />
<line x1="217.18" y1="335.70" x2="228.39" y2="335.70" stroke="#1e1e1e" stroke-width="1.1" />
<line x1="217.48" y1="334.60" x2="217.48" y2="336.80" stroke="#1e1e1e" stroke-width="0.6" />
<line x1="228.09" y1="334.60" x2="228.09" y2="336.80" stroke="#1e1e1e" stroke-width="0.6" />
<line x1="217.98" y1="339.50" x2="227.59" y2="339.50" stroke="#e82a2a" stroke-width="0.9" stroke-dasharray="1.1,1.5"/>
<rect x="222.00" y="333.80" width="3.80" height="3.80" fill="#000" stroke="none" stroke-width="1" />
<rect x="228.39" y="338.40" width="16.24" height="2.00" fill="url(#hg)" stroke="none" stroke-width="1" />
<line x1="228.39" y1="342.50" x2="244.63" y2="342.50" stroke="#3aa860" stroke-width="0.7" />
<line x1="228.39" y1="341.80" x2="244.63" y2="341.80" stroke="#1e1e1e" stroke-width="1.1" />
<line x1="228.69" y1="340.70" x2="228.69" y2="342.90" stroke="#1e1e1e" stroke-width="0.6" />
<line x1="244.33" y1="340.70" x2="244.33" y2="342.90" stroke="#1e1e1e" stroke-width="0.6" />
<line x1="229.19" y1="344.80" x2="243.83" y2="344.80" stroke="#e82a2a" stroke-width="0.9" stroke-dasharray="1.1,1.5"/>
<rect x="235.90" y="339.90" width="3.80" height="3.80" fill="#000" stroke="none" stroke-width="1" />
<line x1="53.77" y1="295.80" x2="97.93" y2="295.80" stroke="#8a8a8a" stroke-width="0.6" stroke-dasharray="1.6,1.1"/>
<rect x="53.77" y="296.80" width="44.16" height="1.40" fill="#c4eacf" stroke="none" stroke-width="1" />
<line x1="53.77" y1="299.90" x2="97.93" y2="299.90" stroke="#3aa860" stroke-width="0.7" />
<line x1="53.77" y1="299.20" x2="97.93" y2="299.20" stroke="#1e1e1e" stroke-width="1.1" />
<line x1="54.07" y1="298.10" x2="54.07" y2="300.30" stroke="#1e1e1e" stroke-width="0.6" />
<line x1="97.63" y1="298.10" x2="97.63" y2="300.30" stroke="#1e1e1e" stroke-width="0.6" />
<line x1="54.57" y1="300.10" x2="97.13" y2="300.10" stroke="#e82a2a" stroke-width="0.9" stroke-dasharray="1.1,1.5"/>
<polygon points="79.60,297.01 81.69,300.72 77.51,300.72" fill="#000" />
<line x1="97.93" y1="311.90" x2="123.76" y2="311.90" stroke="#3aa860" stroke-width="0.7" />
<line x1="97.93" y1="311.20" x2="123.76" y2="311.20" stroke="#1e1e1e" stroke-width="1.1" />
<line x1="98.23" y1="310.10" x2="98.23" y2="312.30" stroke="#1e1e1e" stroke-width="0.6" />
<line x1="123.46" y1="310.10" x2="123.46" y2="312.30" stroke="#1e1e1e" stroke-width="0.6" />
<line x1="98.73" y1="313.00" x2="122.96" y2="313.00" stroke="#e82a2a" stroke-width="0.9" stroke-dasharray="1.1,1.5"/>
<polygon points="112.30,309.01 114.39,312.72 110.21,312.72" fill="#000" />
<line x1="123.76" y1="321.90" x2="142.09" y2="321.90" stroke="#3aa860" stroke-width="0.7" />
<line x1="123.76" y1="321.20" x2="142.09" y2="321.20" stroke="#1e1e1e" stroke-width="1.1" />
<line x1="124.06" y1="320.10" x2="124.06" y2="322.30" stroke="#1e1e1e" stroke-width="0.6" />
<line x1="141.79" y1="320.10" x2="141.79" y2="322.30" stroke="#1e1e1e" stroke-width="0.6" />
<line x1="124.56" y1="323.60" x2="141.29" y2="323.60" stroke="#e82a2a" stroke-width="0.9" stroke-dasharray="1.1,1.5"/>
<polygon points="133.90,319.01 135.99,322.72 131.81,322.72" fill="#000" />
<line x1="142.09" y1="329.70" x2="162.38" y2="329.70" stroke="#3aa860" stroke-width="0.7" />
<line x1="142.09" y1="329.00" x2="162.38" y2="329.00" stroke="#1e1e1e" stroke-width="1.1" />
<line x1="142.39" y1="327.90" x2="142.39" y2="330.10" stroke="#1e1e1e" stroke-width="0.6" />
<line x1="162.08" y1="327.90" x2="162.08" y2="330.10" stroke="#1e1e1e" stroke-width="0.6" />
<line x1="142.89" y1="331.90" x2="161.58" y2="331.90" stroke="#e82a2a" stroke-width="0.9" stroke-dasharray="1.1,1.5"/>
<polygon points="153.50,326.81 155.59,330.52 151.41,330.52" fill="#000" />
<line x1="162.38" y1="339.30" x2="186.25" y2="339.30" stroke="#3aa860" stroke-width="0.7" />
<line x1="162.38" y1="338.60" x2="186.25" y2="338.60" stroke="#1e1e1e" stroke-width="1.1" />
<line x1="162.68" y1="337.50" x2="162.68" y2="339.70" stroke="#1e1e1e" stroke-width="0.6" />
<line x1="185.95" y1="337.50" x2="185.95" y2="339.70" stroke="#1e1e1e" stroke-width="0.6" />
<line x1="163.18" y1="341.60" x2="185.45" y2="341.60" stroke="#e82a2a" stroke-width="0.9" stroke-dasharray="1.1,1.5"/>
<polygon points="175.70,336.42 177.79,340.12 173.61,340.12" fill="#000" />
<line x1="186.25" y1="349.30" x2="203.58" y2="349.30" stroke="#3aa860" stroke-width="0.7" />
<line x1="186.25" y1="348.60" x2="203.58" y2="348.60" stroke="#1e1e1e" stroke-width="1.1" />
<line x1="186.55" y1="347.50" x2="186.55" y2="349.70" stroke="#1e1e1e" stroke-width="0.6" />
<line x1="203.28" y1="347.50" x2="203.28" y2="349.70" stroke="#1e1e1e" stroke-width="0.6" />
<line x1="187.05" y1="351.80" x2="202.78" y2="351.80" stroke="#e82a2a" stroke-width="0.9" stroke-dasharray="1.1,1.5"/>
<polygon points="195.80,346.42 197.89,350.12 193.71,350.12" fill="#000" />
<rect x="203.58" y="353.80" width="13.61" height="2.00" fill="url(#hg)" stroke="none" stroke-width="1" />
<line x1="203.58" y1="357.90" x2="217.18" y2="357.90" stroke="#3aa860" stroke-width="0.7" />
<line x1="203.58" y1="357.20" x2="217.18" y2="357.20" stroke="#1e1e1e" stroke-width="1.1" />
<line x1="203.88" y1="356.10" x2="203.88" y2="358.30" stroke="#1e1e1e" stroke-width="0.6" />
<line x1="216.88" y1="356.10" x2="216.88" y2="358.30" stroke="#1e1e1e" stroke-width="0.6" />
<line x1="204.38" y1="360.40" x2="216.38" y2="360.40" stroke="#e82a2a" stroke-width="0.9" stroke-dasharray="1.1,1.5"/>
<polygon points="210.90,355.01 212.99,358.72 208.81,358.72" fill="#000" />
<rect x="217.18" y="359.60" width="11.21" height="2.00" fill="url(#hg)" stroke="none" stroke-width="1" />
<line x1="217.18" y1="363.70" x2="228.39" y2="363.70" stroke="#3aa860" stroke-width="0.7" />
<line x1="217.18" y1="363.00" x2="228.39" y2="363.00" stroke="#1e1e1e" stroke-width="1.1" />
<line x1="217.48" y1="361.90" x2="217.48" y2="364.10" stroke="#1e1e1e" stroke-width="0.6" />
<line x1="228.09" y1="361.90" x2="228.09" y2="364.10" stroke="#1e1e1e" stroke-width="0.6" />
<line x1="217.98" y1="366.80" x2="227.59" y2="366.80" stroke="#e82a2a" stroke-width="0.9" stroke-dasharray="1.1,1.5"/>
<polygon points="223.90,360.81 225.99,364.52 221.81,364.52" fill="#000" />
<rect x="228.39" y="369.20" width="16.24" height="2.00" fill="url(#hg)" stroke="none" stroke-width="1" />
<line x1="228.39" y1="373.30" x2="244.63" y2="373.30" stroke="#3aa860" stroke-width="0.7" />
<line x1="228.39" y1="372.60" x2="244.63" y2="372.60" stroke="#1e1e1e" stroke-width="1.1" />
<line x1="228.69" y1="371.50" x2="228.69" y2="373.70" stroke="#1e1e1e" stroke-width="0.6" />
<line x1="244.33" y1="371.50" x2="244.33" y2="373.70" stroke="#1e1e1e" stroke-width="0.6" />
<line x1="229.19" y1="375.60" x2="243.83" y2="375.60" stroke="#e82a2a" stroke-width="0.9" stroke-dasharray="1.1,1.5"/>
<polygon points="237.80,370.42 239.89,374.12 235.71,374.12" fill="#000" />
<line x1="53.77" y1="322.40" x2="97.93" y2="322.40" stroke="#8a8a8a" stroke-width="0.6" stroke-dasharray="1.6,1.1"/>
<rect x="53.77" y="323.40" width="44.16" height="1.40" fill="#c4eacf" stroke="none" stroke-width="1" />
<line x1="53.77" y1="326.50" x2="97.93" y2="326.50" stroke="#3aa860" stroke-width="0.7" />
<line x1="53.77" y1="325.80" x2="97.93" y2="325.80" stroke="#1e1e1e" stroke-width="1.1" />
<line x1="54.07" y1="324.70" x2="54.07" y2="326.90" stroke="#1e1e1e" stroke-width="0.6" />
<line x1="97.63" y1="324.70" x2="97.63" y2="326.90" stroke="#1e1e1e" stroke-width="0.6" />
<line x1="54.57" y1="326.70" x2="97.13" y2="326.70" stroke="#e82a2a" stroke-width="0.9" stroke-dasharray="1.1,1.5"/>
<polygon points="79.60,327.99 81.69,324.28 77.51,324.28" fill="#000" />
<line x1="97.93" y1="338.90" x2="123.76" y2="338.90" stroke="#3aa860" stroke-width="0.7" />
<line x1="97.93" y1="338.20" x2="123.76" y2="338.20" stroke="#1e1e1e" stroke-width="1.1" />
<line x1="98.23" y1="337.10" x2="98.23" y2="339.30" stroke="#1e1e1e" stroke-width="0.6" />
<line x1="123.46" y1="337.10" x2="123.46" y2="339.30" stroke="#1e1e1e" stroke-width="0.6" />
<line x1="98.73" y1="340.00" x2="122.96" y2="340.00" stroke="#e82a2a" stroke-width="0.9" stroke-dasharray="1.1,1.5"/>
<polygon points="112.30,340.38 114.39,336.68 110.21,336.68" fill="#000" />
<line x1="123.76" y1="349.10" x2="142.09" y2="349.10" stroke="#3aa860" stroke-width="0.7" />
<line x1="123.76" y1="348.40" x2="142.09" y2="348.40" stroke="#1e1e1e" stroke-width="1.1" />
<line x1="124.06" y1="347.30" x2="124.06" y2="349.50" stroke="#1e1e1e" stroke-width="0.6" />
<line x1="141.79" y1="347.30" x2="141.79" y2="349.50" stroke="#1e1e1e" stroke-width="0.6" />
<line x1="124.56" y1="350.80" x2="141.29" y2="350.80" stroke="#e82a2a" stroke-width="0.9" stroke-dasharray="1.1,1.5"/>
<polygon points="133.90,350.58 135.99,346.88 131.81,346.88" fill="#000" />
<line x1="142.09" y1="357.40" x2="162.38" y2="357.40" stroke="#3aa860" stroke-width="0.7" />
<line x1="142.09" y1="356.70" x2="162.38" y2="356.70" stroke="#1e1e1e" stroke-width="1.1" />
<line x1="142.39" y1="355.60" x2="142.39" y2="357.80" stroke="#1e1e1e" stroke-width="0.6" />
<line x1="162.08" y1="355.60" x2="162.08" y2="357.80" stroke="#1e1e1e" stroke-width="0.6" />
<line x1="142.89" y1="359.60" x2="161.58" y2="359.60" stroke="#e82a2a" stroke-width="0.9" stroke-dasharray="1.1,1.5"/>
<polygon points="153.50,358.88 155.59,355.18 151.41,355.18" fill="#000" />
<line x1="162.38" y1="368.20" x2="186.25" y2="368.20" stroke="#3aa860" stroke-width="0.7" />
<line x1="162.38" y1="367.50" x2="186.25" y2="367.50" stroke="#1e1e1e" stroke-width="1.1" />
<line x1="162.68" y1="366.40" x2="162.68" y2="368.60" stroke="#1e1e1e" stroke-width="0.6" />
<line x1="185.95" y1="366.40" x2="185.95" y2="368.60" stroke="#1e1e1e" stroke-width="0.6" />
<line x1="163.18" y1="370.50" x2="185.45" y2="370.50" stroke="#e82a2a" stroke-width="0.9" stroke-dasharray="1.1,1.5"/>
<polygon points="175.70,369.69 177.79,365.98 173.61,365.98" fill="#000" />
<line x1="186.25" y1="379.20" x2="203.58" y2="379.20" stroke="#3aa860" stroke-width="0.7" />
<line x1="186.25" y1="378.50" x2="203.58" y2="378.50" stroke="#1e1e1e" stroke-width="1.1" />
<line x1="186.55" y1="377.40" x2="186.55" y2="379.60" stroke="#1e1e1e" stroke-width="0.6" />
<line x1="203.28" y1="377.40" x2="203.28" y2="379.60" stroke="#1e1e1e" stroke-width="0.6" />
<line x1="187.05" y1="381.70" x2="202.78" y2="381.70" stroke="#e82a2a" stroke-width="0.9" stroke-dasharray="1.1,1.5"/>
<polygon points="195.80,380.69 197.89,376.98 193.71,376.98" fill="#000" />
<rect x="203.58" y="385.10" width="13.61" height="2.50" fill="url(#hg)" stroke="none" stroke-width="1" />
<rect x="203.58" y="385.10" width="13.61" height="2.50" fill="url(#hr)" stroke="none" stroke-width="1" transform="translate(0.8,0)"/>
<line x1="204.38" y1="385.90" x2="216.38" y2="385.90" stroke="#e82a2a" stroke-width="0.8" stroke-dasharray="1.1,1.5"/>
<line x1="203.58" y1="389.70" x2="217.18" y2="389.70" stroke="#8a8a8a" stroke-width="0.6" stroke-dasharray="1.6,1.1"/>
<line x1="203.58" y1="386.70" x2="217.18" y2="386.70" stroke="#1e1e1e" stroke-width="1.1" />
<line x1="203.88" y1="385.60" x2="203.88" y2="387.80" stroke="#1e1e1e" stroke-width="0.6" />
<line x1="216.88" y1="385.60" x2="216.88" y2="387.80" stroke="#1e1e1e" stroke-width="0.6" />
<line x1="210.90" y1="384.20" x2="210.90" y2="389.70" stroke="#333" stroke-width="0.7" />
<polygon points="210.90,388.88 212.99,385.18 208.81,385.18" fill="#000" />
<rect x="217.18" y="392.70" width="11.21" height="2.50" fill="url(#hg)" stroke="none" stroke-width="1" />
<rect x="217.18" y="392.70" width="11.21" height="2.50" fill="url(#hr)" stroke="none" stroke-width="1" transform="translate(0.8,0)"/>
<line x1="217.98" y1="393.50" x2="227.59" y2="393.50" stroke="#e82a2a" stroke-width="0.8" stroke-dasharray="1.1,1.5"/>
<line x1="217.18" y1="397.70" x2="228.39" y2="397.70" stroke="#8a8a8a" stroke-width="0.6" stroke-dasharray="1.6,1.1"/>
<line x1="217.18" y1="394.70" x2="228.39" y2="394.70" stroke="#1e1e1e" stroke-width="1.1" />
<line x1="217.48" y1="393.60" x2="217.48" y2="395.80" stroke="#1e1e1e" stroke-width="0.6" />
<line x1="228.09" y1="393.60" x2="228.09" y2="395.80" stroke="#1e1e1e" stroke-width="0.6" />
<line x1="223.90" y1="392.20" x2="223.90" y2="397.70" stroke="#333" stroke-width="0.7" />
<polygon points="223.90,396.88 225.99,393.18 221.81,393.18" fill="#000" />
<rect x="228.39" y="400.20" width="16.24" height="2.50" fill="url(#hg)" stroke="none" stroke-width="1" />
<rect x="228.39" y="400.20" width="16.24" height="2.50" fill="url(#hr)" stroke="none" stroke-width="1" transform="translate(0.8,0)"/>
<line x1="229.19" y1="401.00" x2="243.83" y2="401.00" stroke="#e82a2a" stroke-width="0.8" stroke-dasharray="1.1,1.5"/>
<line x1="228.39" y1="406.10" x2="244.63" y2="406.10" stroke="#333" stroke-width="0.8" />
<line x1="228.69" y1="404.40" x2="228.69" y2="406.60" stroke="#1e1e1e" stroke-width="0.6" />
<line x1="244.33" y1="404.40" x2="244.33" y2="406.60" stroke="#1e1e1e" stroke-width="0.6" />
<line x1="237.80" y1="403.00" x2="237.80" y2="412.00" stroke="#333" stroke-width="0.7" />
<polygon points="237.80,407.69 239.89,403.98 235.71,403.98" fill="#000" />
<rect x="48.50" y="208.50" width="200.70" height="208.80" fill="none" stroke="#777" stroke-width="0.9" />
<line x1="53.77" y1="417.30" x2="53.77" y2="414.50" stroke="#777" stroke-width="0.8" />
<line x1="53.77" y1="208.50" x2="53.77" y2="211.30" stroke="#777" stroke-width="0.8" />
<line x1="79.60" y1="417.30" x2="79.60" y2="414.50" stroke="#777" stroke-width="0.8" />
<line x1="79.60" y1="208.50" x2="79.60" y2="211.30" stroke="#777" stroke-width="0.8" />
<line x1="97.93" y1="417.30" x2="97.93" y2="414.50" stroke="#777" stroke-width="0.8" />
<line x1="97.93" y1="208.50" x2="97.93" y2="211.30" stroke="#777" stroke-width="0.8" />
<line x1="112.15" y1="417.30" x2="112.15" y2="414.50" stroke="#777" stroke-width="0.8" />
<line x1="112.15" y1="208.50" x2="112.15" y2="211.30" stroke="#777" stroke-width="0.8" />
<line x1="123.76" y1="417.30" x2="123.76" y2="414.50" stroke="#777" stroke-width="0.8" />
<line x1="123.76" y1="208.50" x2="123.76" y2="211.30" stroke="#777" stroke-width="0.8" />
<line x1="133.58" y1="417.30" x2="133.58" y2="414.50" stroke="#777" stroke-width="0.8" />
<line x1="133.58" y1="208.50" x2="133.58" y2="211.30" stroke="#777" stroke-width="0.8" />
<line x1="142.09" y1="417.30" x2="142.09" y2="414.50" stroke="#777" stroke-width="0.8" />
<line x1="142.09" y1="208.50" x2="142.09" y2="211.30" stroke="#777" stroke-width="0.8" />
<line x1="149.59" y1="417.30" x2="149.59" y2="414.50" stroke="#777" stroke-width="0.8" />
<line x1="149.59" y1="208.50" x2="149.59" y2="211.30" stroke="#777" stroke-width="0.8" />
<line x1="156.31" y1="417.30" x2="156.31" y2="413.30" stroke="#777" stroke-width="0.8" />
<line x1="156.31" y1="208.50" x2="156.31" y2="212.50" stroke="#777" stroke-width="0.8" />
<line x1="200.47" y1="417.30" x2="200.47" y2="414.50" stroke="#777" stroke-width="0.8" />
<line x1="200.47" y1="208.50" x2="200.47" y2="211.30" stroke="#777" stroke-width="0.8" />
<line x1="226.30" y1="417.30" x2="226.30" y2="414.50" stroke="#777" stroke-width="0.8" />
<line x1="226.30" y1="208.50" x2="226.30" y2="211.30" stroke="#777" stroke-width="0.8" />
<line x1="244.63" y1="417.30" x2="244.63" y2="414.50" stroke="#777" stroke-width="0.8" />
<line x1="244.63" y1="208.50" x2="244.63" y2="211.30" stroke="#777" stroke-width="0.8" />
<line x1="48.50" y1="417.21" x2="50.70" y2="417.21" stroke="#777" stroke-width="0.8" />
<line x1="249.20" y1="417.21" x2="247.00" y2="417.21" stroke="#777" stroke-width="0.8" />
<line x1="48.50" y1="416.33" x2="50.70" y2="416.33" stroke="#777" stroke-width="0.8" />
<line x1="249.20" y1="416.33" x2="247.00" y2="416.33" stroke="#777" stroke-width="0.8" />
<line x1="48.50" y1="415.57" x2="50.70" y2="415.57" stroke="#777" stroke-width="0.8" />
<line x1="249.20" y1="415.57" x2="247.00" y2="415.57" stroke="#777" stroke-width="0.8" />
<line x1="48.50" y1="414.90" x2="50.70" y2="414.90" stroke="#777" stroke-width="0.8" />
<line x1="249.20" y1="414.90" x2="247.00" y2="414.90" stroke="#777" stroke-width="0.8" />
<line x1="48.50" y1="414.30" x2="53.00" y2="414.30" stroke="#777" stroke-width="0.8" />
<line x1="249.20" y1="414.30" x2="244.70" y2="414.30" stroke="#777" stroke-width="0.8" />
<line x1="48.50" y1="410.36" x2="50.70" y2="410.36" stroke="#777" stroke-width="0.8" />
<line x1="249.20" y1="410.36" x2="247.00" y2="410.36" stroke="#777" stroke-width="0.8" />
<line x1="48.50" y1="408.05" x2="50.70" y2="408.05" stroke="#777" stroke-width="0.8" />
<line x1="249.20" y1="408.05" x2="247.00" y2="408.05" stroke="#777" stroke-width="0.8" />
<line x1="48.50" y1="406.41" x2="50.70" y2="406.41" stroke="#777" stroke-width="0.8" />
<line x1="249.20" y1="406.41" x2="247.00" y2="406.41" stroke="#777" stroke-width="0.8" />
<line x1="48.50" y1="405.14" x2="50.70" y2="405.14" stroke="#777" stroke-width="0.8" />
<line x1="249.20" y1="405.14" x2="247.00" y2="405.14" stroke="#777" stroke-width="0.8" />
<line x1="48.50" y1="404.11" x2="50.70" y2="404.11" stroke="#777" stroke-width="0.8" />
<line x1="249.20" y1="404.11" x2="247.00" y2="404.11" stroke="#777" stroke-width="0.8" />
<line x1="48.50" y1="403.23" x2="50.70" y2="403.23" stroke="#777" stroke-width="0.8" />
<line x1="249.20" y1="403.23" x2="247.00" y2="403.23" stroke="#777" stroke-width="0.8" />
<line x1="48.50" y1="402.47" x2="50.70" y2="402.47" stroke="#777" stroke-width="0.8" />
<line x1="249.20" y1="402.47" x2="247.00" y2="402.47" stroke="#777" stroke-width="0.8" />
<line x1="48.50" y1="401.80" x2="50.70" y2="401.80" stroke="#777" stroke-width="0.8" />
<line x1="249.20" y1="401.80" x2="247.00" y2="401.80" stroke="#777" stroke-width="0.8" />
<line x1="48.50" y1="401.20" x2="53.00" y2="401.20" stroke="#777" stroke-width="0.8" />
<line x1="249.20" y1="401.20" x2="244.70" y2="401.20" stroke="#777" stroke-width="0.8" />
<line x1="48.50" y1="397.26" x2="50.70" y2="397.26" stroke="#777" stroke-width="0.8" />
<line x1="249.20" y1="397.26" x2="247.00" y2="397.26" stroke="#777" stroke-width="0.8" />
<line x1="48.50" y1="394.95" x2="50.70" y2="394.95" stroke="#777" stroke-width="0.8" />
<line x1="249.20" y1="394.95" x2="247.00" y2="394.95" stroke="#777" stroke-width="0.8" />
<line x1="48.50" y1="393.31" x2="50.70" y2="393.31" stroke="#777" stroke-width="0.8" />
<line x1="249.20" y1="393.31" x2="247.00" y2="393.31" stroke="#777" stroke-width="0.8" />
<line x1="48.50" y1="392.04" x2="50.70" y2="392.04" stroke="#777" stroke-width="0.8" />
<line x1="249.20" y1="392.04" x2="247.00" y2="392.04" stroke="#777" stroke-width="0.8" />
<line x1="48.50" y1="391.01" x2="50.70" y2="391.01" stroke="#777" stroke-width="0.8" />
<line x1="249.20" y1="391.01" x2="247.00" y2="391.01" stroke="#777" stroke-width="0.8" />
<line x1="48.50" y1="390.13" x2="50.70" y2="390.13" stroke="#777" stroke-width="0.8" />
<line x1="249.20" y1="390.13" x2="247.00" y2="390.13" stroke="#777" stroke-width="0.8" />
<line x1="48.50" y1="389.37" x2="50.70" y2="389.37" stroke="#777" stroke-width="0.8" />
<line x1="249.20" y1="389.37" x2="247.00" y2="389.37" stroke="#777" stroke-width="0.8" />
<line x1="48.50" y1="388.70" x2="50.70" y2="388.70" stroke="#777" stroke-width="0.8" />
<line x1="249.20" y1="388.70" x2="247.00" y2="388.70" stroke="#777" stroke-width="0.8" />
<line x1="48.50" y1="388.10" x2="53.00" y2="388.10" stroke="#777" stroke-width="0.8" />
<line x1="249.20" y1="388.10" x2="244.70" y2="388.10" stroke="#777" stroke-width="0.8" />
<line x1="48.50" y1="384.16" x2="50.70" y2="384.16" stroke="#777" stroke-width="0.8" />
<line x1="249.20" y1="384.16" x2="247.00" y2="384.16" stroke="#777" stroke-width="0.8" />
<line x1="48.50" y1="381.85" x2="50.70" y2="381.85" stroke="#777" stroke-width="0.8" />
<line x1="249.20" y1="381.85" x2="247.00" y2="381.85" stroke="#777" stroke-width="0.8" />
<line x1="48.50" y1="380.21" x2="50.70" y2="380.21" stroke="#777" stroke-width="0.8" />
<line x1="249.20" y1="380.21" x2="247.00" y2="380.21" stroke="#777" stroke-width="0.8" />
<line x1="48.50" y1="378.94" x2="50.70" y2="378.94" stroke="#777" stroke-width="0.8" />
<line x1="249.20" y1="378.94" x2="247.00" y2="378.94" stroke="#777" stroke-width="0.8" />
<line x1="48.50" y1="377.91" x2="50.70" y2="377.91" stroke="#777" stroke-width="0.8" />
<line x1="249.20" y1="377.91" x2="247.00" y2="377.91" stroke="#777" stroke-width="0.8" />
<line x1="48.50" y1="377.03" x2="50.70" y2="377.03" stroke="#777" stroke-width="0.8" />
<line x1="249.20" y1="377.03" x2="247.00" y2="377.03" stroke="#777" stroke-width="0.8" />
<line x1="48.50" y1="376.27" x2="50.70" y2="376.27" stroke="#777" stroke-width="0.8" />
<line x1="249.20" y1="376.27" x2="247.00" y2="376.27" stroke="#777" stroke-width="0.8" />
<line x1="48.50" y1="375.60" x2="50.70" y2="375.60" stroke="#777" stroke-width="0.8" />
<line x1="249.20" y1="375.60" x2="247.00" y2="375.60" stroke="#777" stroke-width="0.8" />
<line x1="48.50" y1="375.00" x2="53.00" y2="375.00" stroke="#777" stroke-width="0.8" />
<line x1="249.20" y1="375.00" x2="244.70" y2="375.00" stroke="#777" stroke-width="0.8" />
<line x1="48.50" y1="371.06" x2="50.70" y2="371.06" stroke="#777" stroke-width="0.8" />
<line x1="249.20" y1="371.06" x2="247.00" y2="371.06" stroke="#777" stroke-width="0.8" />
<line x1="48.50" y1="368.75" x2="50.70" y2="368.75" stroke="#777" stroke-width="0.8" />
<line x1="249.20" y1="368.75" x2="247.00" y2="368.75" stroke="#777" stroke-width="0.8" />
<line x1="48.50" y1="367.11" x2="50.70" y2="367.11" stroke="#777" stroke-width="0.8" />
<line x1="249.20" y1="367.11" x2="247.00" y2="367.11" stroke="#777" stroke-width="0.8" />
<line x1="48.50" y1="365.84" x2="50.70" y2="365.84" stroke="#777" stroke-width="0.8" />
<line x1="249.20" y1="365.84" x2="247.00" y2="365.84" stroke="#777" stroke-width="0.8" />
<line x1="48.50" y1="364.81" x2="50.70" y2="364.81" stroke="#777" stroke-width="0.8" />
<line x1="249.20" y1="364.81" x2="247.00" y2="364.81" stroke="#777" stroke-width="0.8" />
<line x1="48.50" y1="363.93" x2="50.70" y2="363.93" stroke="#777" stroke-width="0.8" />
<line x1="249.20" y1="363.93" x2="247.00" y2="363.93" stroke="#777" stroke-width="0.8" />
<line x1="48.50" y1="363.17" x2="50.70" y2="363.17" stroke="#777" stroke-width="0.8" />
<line x1="249.20" y1="363.17" x2="247.00" y2="363.17" stroke="#777" stroke-width="0.8" />
<line x1="48.50" y1="362.50" x2="50.70" y2="362.50" stroke="#777" stroke-width="0.8" />
<line x1="249.20" y1="362.50" x2="247.00" y2="362.50" stroke="#777" stroke-width="0.8" />
<line x1="48.50" y1="361.90" x2="53.00" y2="361.90" stroke="#777" stroke-width="0.8" />
<line x1="249.20" y1="361.90" x2="244.70" y2="361.90" stroke="#777" stroke-width="0.8" />
<line x1="48.50" y1="357.96" x2="50.70" y2="357.96" stroke="#777" stroke-width="0.8" />
<line x1="249.20" y1="357.96" x2="247.00" y2="357.96" stroke="#777" stroke-width="0.8" />
<line x1="48.50" y1="355.65" x2="50.70" y2="355.65" stroke="#777" stroke-width="0.8" />
<line x1="249.20" y1="355.65" x2="247.00" y2="355.65" stroke="#777" stroke-width="0.8" />
<line x1="48.50" y1="354.01" x2="50.70" y2="354.01" stroke="#777" stroke-width="0.8" />
<line x1="249.20" y1="354.01" x2="247.00" y2="354.01" stroke="#777" stroke-width="0.8" />
<line x1="48.50" y1="352.74" x2="50.70" y2="352.74" stroke="#777" stroke-width="0.8" />
<line x1="249.20" y1="352.74" x2="247.00" y2="352.74" stroke="#777" stroke-width="0.8" />
<line x1="48.50" y1="351.71" x2="50.70" y2="351.71" stroke="#777" stroke-width="0.8" />
<line x1="249.20" y1="351.71" x2="247.00" y2="351.71" stroke="#777" stroke-width="0.8" />
<line x1="48.50" y1="350.83" x2="50.70" y2="350.83" stroke="#777" stroke-width="0.8" />
<line x1="249.20" y1="350.83" x2="247.00" y2="350.83" stroke="#777" stroke-width="0.8" />
<line x1="48.50" y1="350.07" x2="50.70" y2="350.07" stroke="#777" stroke-width="0.8" />
<line x1="249.20" y1="350.07" x2="247.00" y2="350.07" stroke="#777" stroke-width="0.8" />
<line x1="48.50" y1="349.40" x2="50.70" y2="349.40" stroke="#777" stroke-width="0.8" />
<line x1="249.20" y1="349.40" x2="247.00" y2="349.40" stroke="#777" stroke-width="0.8" />
<line x1="48.50" y1="348.80" x2="53.00" y2="348.80" stroke="#777" stroke-width="0.8" />
<line x1="249.20" y1="348.80" x2="244.70" y2="348.80" stroke="#777" stroke-width="0.8" />
<line x1="48.50" y1="344.86" x2="50.70" y2="344.86" stroke="#777" stroke-width="0.8" />
<line x1="249.20" y1="344.86" x2="247.00" y2="344.86" stroke="#777" stroke-width="0.8" />
<line x1="48.50" y1="342.55" x2="50.70" y2="342.55" stroke="#777" stroke-width="0.8" />
<line x1="249.20" y1="342.55" x2="247.00" y2="342.55" stroke="#777" stroke-width="0.8" />
<line x1="48.50" y1="340.91" x2="50.70" y2="340.91" stroke="#777" stroke-width="0.8" />
<line x1="249.20" y1="340.91" x2="247.00" y2="340.91" stroke="#777" stroke-width="0.8" />
<line x1="48.50" y1="339.64" x2="50.70" y2="339.64" stroke="#777" stroke-width="0.8" />
<line x1="249.20" y1="339.64" x2="247.00" y2="339.64" stroke="#777" stroke-width="0.8" />
<line x1="48.50" y1="338.61" x2="50.70" y2="338.61" stroke="#777" stroke-width="0.8" />
<line x1="249.20" y1="338.61" x2="247.00" y2="338.61" stroke="#777" stroke-width="0.8" />
<line x1="48.50" y1="337.73" x2="50.70" y2="337.73" stroke="#777" stroke-width="0.8" />
<line x1="249.20" y1="337.73" x2="247.00" y2="337.73" stroke="#777" stroke-width="0.8" />
<line x1="48.50" y1="336.97" x2="50.70" y2="336.97" stroke="#777" stroke-width="0.8" />
<line x1="249.20" y1="336.97" x2="247.00" y2="336.97" stroke="#777" stroke-width="0.8" />
<line x1="48.50" y1="336.30" x2="50.70" y2="336.30" stroke="#777" stroke-width="0.8" />
<line x1="249.20" y1="336.30" x2="247.00" y2="336.30" stroke="#777" stroke-width="0.8" />
<line x1="48.50" y1="335.70" x2="53.00" y2="335.70" stroke="#777" stroke-width="0.8" />
<line x1="249.20" y1="335.70" x2="244.70" y2="335.70" stroke="#777" stroke-width="0.8" />
<line x1="48.50" y1="331.76" x2="50.70" y2="331.76" stroke="#777" stroke-width="0.8" />
<line x1="249.20" y1="331.76" x2="247.00" y2="331.76" stroke="#777" stroke-width="0.8" />
<line x1="48.50" y1="329.45" x2="50.70" y2="329.45" stroke="#777" stroke-width="0.8" />
<line x1="249.20" y1="329.45" x2="247.00" y2="329.45" stroke="#777" stroke-width="0.8" />
<line x1="48.50" y1="327.81" x2="50.70" y2="327.81" stroke="#777" stroke-width="0.8" />
<line x1="249.20" y1="327.81" x2="247.00" y2="327.81" stroke="#777" stroke-width="0.8" />
<line x1="48.50" y1="326.54" x2="50.70" y2="326.54" stroke="#777" stroke-width="0.8" />
<line x1="249.20" y1="326.54" x2="247.00" y2="326.54" stroke="#777" stroke-width="0.8" />
<line x1="48.50" y1="325.51" x2="50.70" y2="325.51" stroke="#777" stroke-width="0.8" />
<line x1="249.20" y1="325.51" x2="247.00" y2="325.51" stroke="#777" stroke-width="0.8" />
<line x1="48.50" y1="324.63" x2="50.70" y2="324.63" stroke="#777" stroke-width="0.8" />
<line x1="249.20" y1="324.63" x2="247.00" y2="324.63" stroke="#777" stroke-width="0.8" />
<line x1="48.50" y1="323.87" x2="50.70" y2="323.87" stroke="#777" stroke-width="0.8" />
<line x1="249.20" y1="323.87" x2="247.00" y2="323.87" stroke="#777" stroke-width="0.8" />
<line x1="48.50" y1="323.20" x2="50.70" y2="323.20" stroke="#777" stroke-width="0.8" />
<line x1="249.20" y1="323.20" x2="247.00" y2="323.20" stroke="#777" stroke-width="0.8" />
<line x1="48.50" y1="322.60" x2="53.00" y2="322.60" stroke="#777" stroke-width="0.8" />
<line x1="249.20" y1="322.60" x2="244.70" y2="322.60" stroke="#777" stroke-width="0.8" />
<line x1="48.50" y1="318.66" x2="50.70" y2="318.66" stroke="#777" stroke-width="0.8" />
<line x1="249.20" y1="318.66" x2="247.00" y2="318.66" stroke="#777" stroke-width="0.8" />
<line x1="48.50" y1="316.35" x2="50.70" y2="316.35" stroke="#777" stroke-width="0.8" />
<line x1="249.20" y1="316.35" x2="247.00" y2="316.35" stroke="#777" stroke-width="0.8" />
<line x1="48.50" y1="314.71" x2="50.70" y2="314.71" stroke="#777" stroke-width="0.8" />
<line x1="249.20" y1="314.71" x2="247.00" y2="314.71" stroke="#777" stroke-width="0.8" />
<line x1="48.50" y1="313.44" x2="50.70" y2="313.44" stroke="#777" stroke-width="0.8" />
<line x1="249.20" y1="313.44" x2="247.00" y2="313.44" stroke="#777" stroke-width="0.8" />
<line x1="48.50" y1="312.41" x2="50.70" y2="312.41" stroke="#777" stroke-width="0.8" />
<line x1="249.20" y1="312.41" x2="247.00" y2="312.41" stroke="#777" stroke-width="0.8" />
<line x1="48.50" y1="311.53" x2="50.70" y2="311.53" stroke="#777" stroke-width="0.8" />
<line x1="249.20" y1="311.53" x2="247.00" y2="311.53" stroke="#777" stroke-width="0.8" />
<line x1="48.50" y1="310.77" x2="50.70" y2="310.77" stroke="#777" stroke-width="0.8" />
<line x1="249.20" y1="310.77" x2="247.00" y2="310.77" stroke="#777" stroke-width="0.8" />
<line x1="48.50" y1="310.10" x2="50.70" y2="310.10" stroke="#777" stroke-width="0.8" />
<line x1="249.20" y1="310.10" x2="247.00" y2="310.10" stroke="#777" stroke-width="0.8" />
<line x1="48.50" y1="309.50" x2="53.00" y2="309.50" stroke="#777" stroke-width="0.8" />
<line x1="249.20" y1="309.50" x2="244.70" y2="309.50" stroke="#777" stroke-width="0.8" />
<line x1="48.50" y1="305.56" x2="50.70" y2="305.56" stroke="#777" stroke-width="0.8" />
<line x1="249.20" y1="305.56" x2="247.00" y2="305.56" stroke="#777" stroke-width="0.8" />
<line x1="48.50" y1="303.25" x2="50.70" y2="303.25" stroke="#777" stroke-width="0.8" />
<line x1="249.20" y1="303.25" x2="247.00" y2="303.25" stroke="#777" stroke-width="0.8" />
<line x1="48.50" y1="301.61" x2="50.70" y2="301.61" stroke="#777" stroke-width="0.8" />
<line x1="249.20" y1="301.61" x2="247.00" y2="301.61" stroke="#777" stroke-width="0.8" />
<line x1="48.50" y1="300.34" x2="50.70" y2="300.34" stroke="#777" stroke-width="0.8" />
<line x1="249.20" y1="300.34" x2="247.00" y2="300.34" stroke="#777" stroke-width="0.8" />
<line x1="48.50" y1="299.31" x2="50.70" y2="299.31" stroke="#777" stroke-width="0.8" />
<line x1="249.20" y1="299.31" x2="247.00" y2="299.31" stroke="#777" stroke-width="0.8" />
<line x1="48.50" y1="298.43" x2="50.70" y2="298.43" stroke="#777" stroke-width="0.8" />
<line x1="249.20" y1="298.43" x2="247.00" y2="298.43" stroke="#777" stroke-width="0.8" />
<line x1="48.50" y1="297.67" x2="50.70" y2="297.67" stroke="#777" stroke-width="0.8" />
<line x1="249.20" y1="297.67" x2="247.00" y2="297.67" stroke="#777" stroke-width="0.8" />
<line x1="48.50" y1="297.00" x2="50.70" y2="297.00" stroke="#777" stroke-width="0.8" />
<line x1="249.20" y1="297.00" x2="247.00" y2="297.00" stroke="#777" stroke-width="0.8" />
<line x1="48.50" y1="296.40" x2="53.00" y2="296.40" stroke="#777" stroke-width="0.8" />
<line x1="249.20" y1="296.40" x2="244.70" y2="296.40" stroke="#777" stroke-width="0.8" />
<line x1="48.50" y1="292.46" x2="50.70" y2="292.46" stroke="#777" stroke-width="0.8" />
<line x1="249.20" y1="292.46" x2="247.00" y2="292.46" stroke="#777" stroke-width="0.8" />
<line x1="48.50" y1="290.15" x2="50.70" y2="290.15" stroke="#777" stroke-width="0.8" />
<line x1="249.20" y1="290.15" x2="247.00" y2="290.15" stroke="#777" stroke-width="0.8" />
<line x1="48.50" y1="288.51" x2="50.70" y2="288.51" stroke="#777" stroke-width="0.8" />
<line x1="249.20" y1="288.51" x2="247.00" y2="288.51" stroke="#777" stroke-width="0.8" />
<line x1="48.50" y1="287.24" x2="50.70" y2="287.24" stroke="#777" stroke-width="0.8" />
<line x1="249.20" y1="287.24" x2="247.00" y2="287.24" stroke="#777" stroke-width="0.8" />
<line x1="48.50" y1="286.21" x2="50.70" y2="286.21" stroke="#777" stroke-width="0.8" />
<line x1="249.20" y1="286.21" x2="247.00" y2="286.21" stroke="#777" stroke-width="0.8" />
<line x1="48.50" y1="285.33" x2="50.70" y2="285.33" stroke="#777" stroke-width="0.8" />
<line x1="249.20" y1="285.33" x2="247.00" y2="285.33" stroke="#777" stroke-width="0.8" />
<line x1="48.50" y1="284.57" x2="50.70" y2="284.57" stroke="#777" stroke-width="0.8" />
<line x1="249.20" y1="284.57" x2="247.00" y2="284.57" stroke="#777" stroke-width="0.8" />
<line x1="48.50" y1="283.90" x2="50.70" y2="283.90" stroke="#777" stroke-width="0.8" />
<line x1="249.20" y1="283.90" x2="247.00" y2="283.90" stroke="#777" stroke-width="0.8" />
<line x1="48.50" y1="283.30" x2="53.00" y2="283.30" stroke="#777" stroke-width="0.8" />
<line x1="249.20" y1="283.30" x2="244.70" y2="283.30" stroke="#777" stroke-width="0.8" />
<line x1="48.50" y1="279.36" x2="50.70" y2="279.36" stroke="#777" stroke-width="0.8" />
<line x1="249.20" y1="279.36" x2="247.00" y2="279.36" stroke="#777" stroke-width="0.8" />
<line x1="48.50" y1="277.05" x2="50.70" y2="277.05" stroke="#777" stroke-width="0.8" />
<line x1="249.20" y1="277.05" x2="247.00" y2="277.05" stroke="#777" stroke-width="0.8" />
<line x1="48.50" y1="275.41" x2="50.70" y2="275.41" stroke="#777" stroke-width="0.8" />
<line x1="249.20" y1="275.41" x2="247.00" y2="275.41" stroke="#777" stroke-width="0.8" />
<line x1="48.50" y1="274.14" x2="50.70" y2="274.14" stroke="#777" stroke-width="0.8" />
<line x1="249.20" y1="274.14" x2="247.00" y2="274.14" stroke="#777" stroke-width="0.8" />
<line x1="48.50" y1="273.11" x2="50.70" y2="273.11" stroke="#777" stroke-width="0.8" />
<line x1="249.20" y1="273.11" x2="247.00" y2="273.11" stroke="#777" stroke-width="0.8" />
<line x1="48.50" y1="272.23" x2="50.70" y2="272.23" stroke="#777" stroke-width="0.8" />
<line x1="249.20" y1="272.23" x2="247.00" y2="272.23" stroke="#777" stroke-width="0.8" />
<line x1="48.50" y1="271.47" x2="50.70" y2="271.47" stroke="#777" stroke-width="0.8" />
<line x1="249.20" y1="271.47" x2="247.00" y2="271.47" stroke="#777" stroke-width="0.8" />
<line x1="48.50" y1="270.80" x2="50.70" y2="270.80" stroke="#777" stroke-width="0.8" />
<line x1="249.20" y1="270.80" x2="247.00" y2="270.80" stroke="#777" stroke-width="0.8" />
<line x1="48.50" y1="270.20" x2="53.00" y2="270.20" stroke="#777" stroke-width="0.8" />
<line x1="249.20" y1="270.20" x2="244.70" y2="270.20" stroke="#777" stroke-width="0.8" />
<line x1="48.50" y1="266.26" x2="50.70" y2="266.26" stroke="#777" stroke-width="0.8" />
<line x1="249.20" y1="266.26" x2="247.00" y2="266.26" stroke="#777" stroke-width="0.8" />
<line x1="48.50" y1="263.95" x2="50.70" y2="263.95" stroke="#777" stroke-width="0.8" />
<line x1="249.20" y1="263.95" x2="247.00" y2="263.95" stroke="#777" stroke-width="0.8" />
<line x1="48.50" y1="262.31" x2="50.70" y2="262.31" stroke="#777" stroke-width="0.8" />
<line x1="249.20" y1="262.31" x2="247.00" y2="262.31" stroke="#777" stroke-width="0.8" />
<line x1="48.50" y1="261.04" x2="50.70" y2="261.04" stroke="#777" stroke-width="0.8" />
<line x1="249.20" y1="261.04" x2="247.00" y2="261.04" stroke="#777" stroke-width="0.8" />
<line x1="48.50" y1="260.01" x2="50.70" y2="260.01" stroke="#777" stroke-width="0.8" />
<line x1="249.20" y1="260.01" x2="247.00" y2="260.01" stroke="#777" stroke-width="0.8" />
<line x1="48.50" y1="259.13" x2="50.70" y2="259.13" stroke="#777" stroke-width="0.8" />
<line x1="249.20" y1="259.13" x2="247.00" y2="259.13" stroke="#777" stroke-width="0.8" />
<line x1="48.50" y1="258.37" x2="50.70" y2="258.37" stroke="#777" stroke-width="0.8" />
<line x1="249.20" y1="258.37" x2="247.00" y2="258.37" stroke="#777" stroke-width="0.8" />
<line x1="48.50" y1="257.70" x2="50.70" y2="257.70" stroke="#777" stroke-width="0.8" />
<line x1="249.20" y1="257.70" x2="247.00" y2="257.70" stroke="#777" stroke-width="0.8" />
<line x1="48.50" y1="257.10" x2="53.00" y2="257.10" stroke="#777" stroke-width="0.8" />
<line x1="249.20" y1="257.10" x2="244.70" y2="257.10" stroke="#777" stroke-width="0.8" />
<line x1="48.50" y1="253.16" x2="50.70" y2="253.16" stroke="#777" stroke-width="0.8" />
<line x1="249.20" y1="253.16" x2="247.00" y2="253.16" stroke="#777" stroke-width="0.8" />
<line x1="48.50" y1="250.85" x2="50.70" y2="250.85" stroke="#777" stroke-width="0.8" />
<line x1="249.20" y1="250.85" x2="247.00" y2="250.85" stroke="#777" stroke-width="0.8" />
<line x1="48.50" y1="249.21" x2="50.70" y2="249.21" stroke="#777" stroke-width="0.8" />
<line x1="249.20" y1="249.21" x2="247.00" y2="249.21" stroke="#777" stroke-width="0.8" />
<line x1="48.50" y1="247.94" x2="50.70" y2="247.94" stroke="#777" stroke-width="0.8" />
<line x1="249.20" y1="247.94" x2="247.00" y2="247.94" stroke="#777" stroke-width="0.8" />
<line x1="48.50" y1="246.91" x2="50.70" y2="246.91" stroke="#777" stroke-width="0.8" />
<line x1="249.20" y1="246.91" x2="247.00" y2="246.91" stroke="#777" stroke-width="0.8" />
<line x1="48.50" y1="246.03" x2="50.70" y2="246.03" stroke="#777" stroke-width="0.8" />
<line x1="249.20" y1="246.03" x2="247.00" y2="246.03" stroke="#777" stroke-width="0.8" />
<line x1="48.50" y1="245.27" x2="50.70" y2="245.27" stroke="#777" stroke-width="0.8" />
<line x1="249.20" y1="245.27" x2="247.00" y2="245.27" stroke="#777" stroke-width="0.8" />
<line x1="48.50" y1="244.60" x2="50.70" y2="244.60" stroke="#777" stroke-width="0.8" />
<line x1="249.20" y1="244.60" x2="247.00" y2="244.60" stroke="#777" stroke-width="0.8" />
<line x1="48.50" y1="244.00" x2="53.00" y2="244.00" stroke="#777" stroke-width="0.8" />
<line x1="249.20" y1="244.00" x2="244.70" y2="244.00" stroke="#777" stroke-width="0.8" />
<line x1="48.50" y1="240.06" x2="50.70" y2="240.06" stroke="#777" stroke-width="0.8" />
<line x1="249.20" y1="240.06" x2="247.00" y2="240.06" stroke="#777" stroke-width="0.8" />
<line x1="48.50" y1="237.75" x2="50.70" y2="237.75" stroke="#777" stroke-width="0.8" />
<line x1="249.20" y1="237.75" x2="247.00" y2="237.75" stroke="#777" stroke-width="0.8" />
<line x1="48.50" y1="236.11" x2="50.70" y2="236.11" stroke="#777" stroke-width="0.8" />
<line x1="249.20" y1="236.11" x2="247.00" y2="236.11" stroke="#777" stroke-width="0.8" />
<line x1="48.50" y1="234.84" x2="50.70" y2="234.84" stroke="#777" stroke-width="0.8" />
<line x1="249.20" y1="234.84" x2="247.00" y2="234.84" stroke="#777" stroke-width="0.8" />
<line x1="48.50" y1="233.81" x2="50.70" y2="233.81" stroke="#777" stroke-width="0.8" />
<line x1="249.20" y1="233.81" x2="247.00" y2="233.81" stroke="#777" stroke-width="0.8" />
<line x1="48.50" y1="232.93" x2="50.70" y2="232.93" stroke="#777" stroke-width="0.8" />
<line x1="249.20" y1="232.93" x2="247.00" y2="232.93" stroke="#777" stroke-width="0.8" />
<line x1="48.50" y1="232.17" x2="50.70" y2="232.17" stroke="#777" stroke-width="0.8" />
<line x1="249.20" y1="232.17" x2="247.00" y2="232.17" stroke="#777" stroke-width="0.8" />
<line x1="48.50" y1="231.50" x2="50.70" y2="231.50" stroke="#777" stroke-width="0.8" />
<line x1="249.20" y1="231.50" x2="247.00" y2="231.50" stroke="#777" stroke-width="0.8" />
<line x1="48.50" y1="230.90" x2="53.00" y2="230.90" stroke="#777" stroke-width="0.8" />
<line x1="249.20" y1="230.90" x2="244.70" y2="230.90" stroke="#777" stroke-width="0.8" />
<line x1="48.50" y1="226.96" x2="50.70" y2="226.96" stroke="#777" stroke-width="0.8" />
<line x1="249.20" y1="226.96" x2="247.00" y2="226.96" stroke="#777" stroke-width="0.8" />
<line x1="48.50" y1="224.65" x2="50.70" y2="224.65" stroke="#777" stroke-width="0.8" />
<line x1="249.20" y1="224.65" x2="247.00" y2="224.65" stroke="#777" stroke-width="0.8" />
<line x1="48.50" y1="223.01" x2="50.70" y2="223.01" stroke="#777" stroke-width="0.8" />
<line x1="249.20" y1="223.01" x2="247.00" y2="223.01" stroke="#777" stroke-width="0.8" />
<line x1="48.50" y1="221.74" x2="50.70" y2="221.74" stroke="#777" stroke-width="0.8" />
<line x1="249.20" y1="221.74" x2="247.00" y2="221.74" stroke="#777" stroke-width="0.8" />
<line x1="48.50" y1="220.71" x2="50.70" y2="220.71" stroke="#777" stroke-width="0.8" />
<line x1="249.20" y1="220.71" x2="247.00" y2="220.71" stroke="#777" stroke-width="0.8" />
<line x1="48.50" y1="219.83" x2="50.70" y2="219.83" stroke="#777" stroke-width="0.8" />
<line x1="249.20" y1="219.83" x2="247.00" y2="219.83" stroke="#777" stroke-width="0.8" />
<line x1="48.50" y1="219.07" x2="50.70" y2="219.07" stroke="#777" stroke-width="0.8" />
<line x1="249.20" y1="219.07" x2="247.00" y2="219.07" stroke="#777" stroke-width="0.8" />
<line x1="48.50" y1="218.40" x2="50.70" y2="218.40" stroke="#777" stroke-width="0.8" />
<line x1="249.20" y1="218.40" x2="247.00" y2="218.40" stroke="#777" stroke-width="0.8" />
<line x1="48.50" y1="217.80" x2="53.00" y2="217.80" stroke="#777" stroke-width="0.8" />
<line x1="249.20" y1="217.80" x2="244.70" y2="217.80" stroke="#777" stroke-width="0.8" />
<line x1="48.50" y1="213.86" x2="50.70" y2="213.86" stroke="#777" stroke-width="0.8" />
<line x1="249.20" y1="213.86" x2="247.00" y2="213.86" stroke="#777" stroke-width="0.8" />
<line x1="48.50" y1="211.55" x2="50.70" y2="211.55" stroke="#777" stroke-width="0.8" />
<line x1="249.20" y1="211.55" x2="247.00" y2="211.55" stroke="#777" stroke-width="0.8" />
<line x1="48.50" y1="209.91" x2="50.70" y2="209.91" stroke="#777" stroke-width="0.8" />
<line x1="249.20" y1="209.91" x2="247.00" y2="209.91" stroke="#777" stroke-width="0.8" />
<line x1="48.50" y1="208.64" x2="50.70" y2="208.64" stroke="#777" stroke-width="0.8" />
<line x1="249.20" y1="208.64" x2="247.00" y2="208.64" stroke="#777" stroke-width="0.8" />
<text x="53.77" y="428.20" font-family='"Liberation Sans", sans-serif' font-size="9.6" text-anchor="middle" font-weight="normal" font-style="normal" fill="#111" >20</text>
<text x="79.60" y="428.20" font-family='"Liberation Sans", sans-serif' font-size="9.6" text-anchor="middle" font-weight="normal" font-style="normal" fill="#111" >30</text>
<text x="97.93" y="428.20" font-family='"Liberation Sans", sans-serif' font-size="9.6" text-anchor="middle" font-weight="normal" font-style="normal" fill="#111" >40</text>
<text x="156.31" y="428.20" font-family='"Liberation Sans", sans-serif' font-size="9.6" text-anchor="middle" font-weight="normal" font-style="normal" fill="#111" >100</text>
<text x="200.47" y="428.20" font-family='"Liberation Sans", sans-serif' font-size="9.6" text-anchor="middle" font-weight="normal" font-style="normal" fill="#111" >200</text>
<text x="226.30" y="428.20" font-family='"Liberation Sans", sans-serif' font-size="9.6" text-anchor="middle" font-weight="normal" font-style="normal" fill="#111" >300</text>
<text x="39.60" y="222.00" font-family='"Liberation Sans", sans-serif' font-size="10.2" text-anchor="end" font-weight="normal" font-style="normal" fill="#111" >10</text>
<text x="39.80" y="217.10" font-family='"Liberation Sans", sans-serif' font-size="6.0" text-anchor="start" font-weight="normal" font-style="normal" fill="#111" >13</text>
<text x="39.60" y="235.10" font-family='"Liberation Sans", sans-serif' font-size="10.2" text-anchor="end" font-weight="normal" font-style="normal" fill="#111" >10</text>
<text x="39.80" y="230.20" font-family='"Liberation Sans", sans-serif' font-size="6.0" text-anchor="start" font-weight="normal" font-style="normal" fill="#111" >12</text>
<text x="39.60" y="248.20" font-family='"Liberation Sans", sans-serif' font-size="10.2" text-anchor="end" font-weight="normal" font-style="normal" fill="#111" >10</text>
<text x="39.80" y="243.30" font-family='"Liberation Sans", sans-serif' font-size="6.0" text-anchor="start" font-weight="normal" font-style="normal" fill="#111" >11</text>
<text x="39.60" y="261.30" font-family='"Liberation Sans", sans-serif' font-size="10.2" text-anchor="end" font-weight="normal" font-style="normal" fill="#111" >10</text>
<text x="39.80" y="256.40" font-family='"Liberation Sans", sans-serif' font-size="6.0" text-anchor="start" font-weight="normal" font-style="normal" fill="#111" >10</text>
<text x="39.60" y="274.40" font-family='"Liberation Sans", sans-serif' font-size="10.2" text-anchor="end" font-weight="normal" font-style="normal" fill="#111" >10</text>
<text x="39.80" y="269.50" font-family='"Liberation Sans", sans-serif' font-size="6.0" text-anchor="start" font-weight="normal" font-style="normal" fill="#111" >9</text>
<text x="39.60" y="287.50" font-family='"Liberation Sans", sans-serif' font-size="10.2" text-anchor="end" font-weight="normal" font-style="normal" fill="#111" >10</text>
<text x="39.80" y="282.60" font-family='"Liberation Sans", sans-serif' font-size="6.0" text-anchor="start" font-weight="normal" font-style="normal" fill="#111" >8</text>
<text x="39.60" y="300.60" font-family='"Liberation Sans", sans-serif' font-size="10.2" text-anchor="end" font-weight="normal" font-style="normal" fill="#111" >10</text>
<text x="39.80" y="295.70" font-family='"Liberation Sans", sans-serif' font-size="6.0" text-anchor="start" font-weight="normal" font-style="normal" fill="#111" >7</text>
<text x="39.60" y="313.70" font-family='"Liberation Sans", sans-serif' font-size="10.2" text-anchor="end" font-weight="normal" font-style="normal" fill="#111" >10</text>
<text x="39.80" y="308.80" font-family='"Liberation Sans", sans-serif' font-size="6.0" text-anchor="start" font-weight="normal" font-style="normal" fill="#111" >6</text>
<text x="39.60" y="326.80" font-family='"Liberation Sans", sans-serif' font-size="10.2" text-anchor="end" font-weight="normal" font-style="normal" fill="#111" >10</text>
<text x="39.80" y="321.90" font-family='"Liberation Sans", sans-serif' font-size="6.0" text-anchor="start" font-weight="normal" font-style="normal" fill="#111" >5</text>
<text x="39.60" y="339.90" font-family='"Liberation Sans", sans-serif' font-size="10.2" text-anchor="end" font-weight="normal" font-style="normal" fill="#111" >10</text>
<text x="39.80" y="335.00" font-family='"Liberation Sans", sans-serif' font-size="6.0" text-anchor="start" font-weight="normal" font-style="normal" fill="#111" >4</text>
<text x="39.60" y="353.00" font-family='"Liberation Sans", sans-serif' font-size="10.2" text-anchor="end" font-weight="normal" font-style="normal" fill="#111" >10</text>
<text x="39.80" y="348.10" font-family='"Liberation Sans", sans-serif' font-size="6.0" text-anchor="start" font-weight="normal" font-style="normal" fill="#111" >3</text>
<text x="39.60" y="366.10" font-family='"Liberation Sans", sans-serif' font-size="10.2" text-anchor="end" font-weight="normal" font-style="normal" fill="#111" >10</text>
<text x="39.80" y="361.20" font-family='"Liberation Sans", sans-serif' font-size="6.0" text-anchor="start" font-weight="normal" font-style="normal" fill="#111" >2</text>
<text x="45.20" y="379.20" font-family='"Liberation Sans", sans-serif' font-size="10.2" text-anchor="end" font-weight="normal" font-style="normal" fill="#111" >10</text>
<text x="45.20" y="392.30" font-family='"Liberation Sans", sans-serif' font-size="10.2" text-anchor="end" font-weight="normal" font-style="normal" fill="#111" >1</text>
<text x="40.80" y="405.40" font-family='"Liberation Sans", sans-serif' font-size="10.2" text-anchor="end" font-weight="normal" font-style="normal" fill="#111" >10</text>
<text x="41.00" y="400.50" font-family='"Liberation Sans", sans-serif' font-size="6.0" text-anchor="start" font-weight="normal" font-style="normal" fill="#111" >-1</text>
<text x="40.80" y="418.50" font-family='"Liberation Sans", sans-serif' font-size="10.2" text-anchor="end" font-weight="normal" font-style="normal" fill="#111" >10</text>
<text x="41.00" y="413.60" font-family='"Liberation Sans", sans-serif' font-size="6.0" text-anchor="start" font-weight="normal" font-style="normal" fill="#111" >-2</text>
<text x="249.3" y="443.0" textLength="54.3" lengthAdjust="spacingAndGlyphs" font-family='"Liberation Sans", sans-serif' font-size="9.6" text-anchor="end" fill="#111">Jet p<tspan font-size="6.6" dy="2.6">T</tspan><tspan dy="-2.6"> [GeV]</tspan></text>
<g transform="translate(23.2,298.3) rotate(-90)"><text x="0" y="0" font-family='"Liberation Sans", sans-serif' font-size="10.0" fill="#111">d<tspan font-size="6.4" dy="-3.6">2</tspan><tspan dy="3.6">σ</tspan><tspan font-size="6.4" dy="2.4">b</tspan><tspan dy="-2.4">/dp</tspan><tspan font-size="6.4" dy="2.4">T</tspan><tspan dy="-2.4">dy [pb/GeV]</tspan></text></g>
<text x="56.80" y="222.60" font-family='"Liberation Sans", sans-serif' font-size="9.2" text-anchor="start" font-weight="bold" font-style="italic" fill="#111" >ATLAS</text>
<text x="54.70" y="233.20" font-family='"Liberation Sans", sans-serif' font-size="8.2" text-anchor="start" font-weight="normal" font-style="normal" fill="#111"  textLength="38.5" lengthAdjust="spacingAndGlyphs">√s=7 TeV,</text>
<line x1="59.40" y1="227.00" x2="64.00" y2="227.00" stroke="#111" stroke-width="0.55" />
<text x="96.80" y="234.20" font-family='"Liberation Sans", sans-serif' font-size="10.5" text-anchor="start" font-weight="normal" font-style="normal" fill="#111" >∫</text>
<text x="100.80" y="233.20" font-family='"Liberation Sans", sans-serif' font-size="8.2" text-anchor="start" font-weight="normal" font-style="normal" fill="#111"  textLength="33.2" lengthAdjust="spacingAndGlyphs">Ldt=34 pb</text>
<text x="135.00" y="229.20" font-family='"Liberation Sans", sans-serif' font-size="5.2" text-anchor="start" font-weight="normal" font-style="normal" fill="#111" >-1</text>
<line x1="155.00" y1="218.80" x2="171.00" y2="218.80" stroke="#111" stroke-width="0.9" />
<circle cx="163.00" cy="218.80" r="1.90" fill="#000" stroke="none" stroke-width="1"/>
<text x="174.30" y="221.80" font-family='"Liberation Sans", sans-serif' font-size="8.2" text-anchor="start" font-weight="normal" font-style="normal" fill="#111" >Data 2010</text>
<defs><pattern id="hg" width="1.6" height="1.6" patternUnits="userSpaceOnUse"><path d="M0,0 L1.6,1.6 M1.6,0 L0,1.6" stroke="#4cbc72" stroke-width="0.4"/></pattern><pattern id="hr" width="1.6" height="1.6" patternUnits="userSpaceOnUse"><path d="M0,0 L1.6,1.6 M1.6,0 L0,1.6" stroke="#f03a3a" stroke-width="0.45"/></pattern><pattern id="hk" width="1.6" height="1.6" patternUnits="userSpaceOnUse"><path d="M0,0 L1.6,1.6 M1.6,0 L0,1.6" stroke="#bdbdbd" stroke-width="0.4"/></pattern></defs>
<rect x="155.00" y="226.20" width="16.00" height="8.80" fill="url(#hk)" stroke="none" stroke-width="1" />
<line x1="155.00" y1="230.80" x2="171.00" y2="230.80" stroke="#888" stroke-width="0.8" stroke-dasharray="1.6,1.1"/>
<text x="174.30" y="234.00" font-family='"Liberation Sans", sans-serif' font-size="8.2" text-anchor="start" font-weight="normal" font-style="normal" fill="#111" >Pythia (×0.67)</text>
<rect x="155.00" y="238.30" width="16.00" height="9.30" fill="url(#hg)" stroke="none" stroke-width="1" />
<line x1="155.00" y1="243.00" x2="171.00" y2="243.00" stroke="#2a9a4a" stroke-width="1.0" />
<text x="174.30" y="245.80" font-family='"Liberation Sans", sans-serif' font-size="8.2" text-anchor="start" font-weight="normal" font-style="normal" fill="#111" >POWHEG+Pythia</text>
<rect x="155.00" y="250.30" width="16.00" height="9.30" fill="url(#hr)" stroke="none" stroke-width="1" />
<line x1="155.00" y1="254.90" x2="171.00" y2="254.90" stroke="#e02828" stroke-width="0.9" stroke-dasharray="1,1"/>
<text x="174.30" y="257.40" font-family='"Liberation Sans", sans-serif' font-size="8.2" text-anchor="start" font-weight="normal" font-style="normal" fill="#111" >MC@NLO+Herwig</text>
<line x1="58.00" y1="371.60" x2="75.00" y2="371.60" stroke="#111" stroke-width="0.9" />
<circle cx="66.50" cy="371.60" r="1.60" fill="#000" stroke="none" stroke-width="1"/>
<text x="99.5" y="374.50" font-family='"Liberation Sans", sans-serif' font-size="8.05" fill="#111">|y| &lt; 0.3 (×10<tspan font-size="5.4" dy="-3.2">5</tspan><tspan dy="3.2">)</tspan></text>
<line x1="58.00" y1="383.30" x2="75.00" y2="383.30" stroke="#111" stroke-width="0.9" />
<rect x="64.90" y="381.70" width="3.20" height="3.20" fill="#000" stroke="none" stroke-width="1" />
<text x="79.2" y="386.20" font-family='"Liberation Sans", sans-serif' font-size="8.05" fill="#111">0.3 &lt; |y| &lt; 0.8 (×10<tspan font-size="5.4" dy="-3.2">4</tspan><tspan dy="3.2">)</tspan></text>
<line x1="58.00" y1="395.30" x2="75.00" y2="395.30" stroke="#111" stroke-width="0.9" />
<polygon points="66.50,393.46 68.26,396.58 64.74,396.58" fill="#000" />
<text x="79.2" y="398.20" font-family='"Liberation Sans", sans-serif' font-size="8.05" fill="#111">0.8 &lt; |y| &lt; 1.2 (×10<tspan font-size="5.4" dy="-3.2">2</tspan><tspan dy="3.2">)</tspan></text>
<line x1="58.00" y1="407.50" x2="75.00" y2="407.50" stroke="#111" stroke-width="0.9" />
<polygon points="66.50,409.34 68.26,406.22 64.74,406.22" fill="#000" />
<text x="79.2" y="410.40" font-family='"Liberation Sans", sans-serif' font-size="8.05" fill="#111">1.2 &lt; |y| &lt; 2.1</text>
<text x="132.20" y="454.00" font-family='"Liberation Serif", serif' font-size="16.5" text-anchor="middle" font-weight="normal" font-style="normal" fill="#222" >(c)</text>
<clipPath id="cd0"><rect x="308.5" y="210.6" width="214.0" height="62.70000000000002"/></clipPath>
<g clip-path="url(#cd0)">
<polygon points="308.50,263.05 312.07,262.56 315.63,262.06 319.20,261.55 322.77,261.04 326.33,260.54 329.90,260.03 333.47,259.53 337.03,259.04 340.60,258.55 344.17,258.07 347.73,257.60 351.30,257.15 354.87,256.69 358.43,256.27 362.00,255.85 365.57,255.46 369.13,255.09 372.70,254.73 376.27,254.40 379.83,254.08 383.40,253.78 386.97,253.48 390.53,253.21 394.10,252.94 397.67,252.68 401.23,252.43 404.80,252.19 408.37,251.96 411.93,251.73 415.50,251.52 419.07,251.30 422.63,251.10 426.20,250.90 429.77,250.73 433.33,250.59 436.90,250.48 440.47,250.41 444.03,250.37 447.60,250.36 451.17,250.36 454.73,250.37 458.30,250.37 461.87,250.36 465.43,250.32 469.00,250.25 472.57,250.19 476.13,250.12 479.70,250.06 483.27,250.00 486.83,249.94 490.40,249.88 493.97,249.82 497.53,249.76 501.10,249.70 504.67,249.64 508.23,249.58 511.80,249.53 515.37,249.47 518.93,249.41 522.50,249.35 522.50,255.15 518.93,255.16 515.37,255.17 511.80,255.18 508.23,255.19 504.67,255.20 501.10,255.21 497.53,255.22 493.97,255.23 490.40,255.24 486.83,255.25 483.27,255.26 479.70,255.28 476.13,255.29 472.57,255.31 469.00,255.32 465.43,255.34 461.87,255.38 458.30,255.44 454.73,255.48 451.17,255.51 447.60,255.54 444.03,255.59 440.47,255.67 436.90,255.78 433.33,255.93 429.77,256.11 426.20,256.28 422.63,256.44 419.07,256.61 415.50,256.79 411.93,256.97 408.37,257.16 404.80,257.36 401.23,257.56 397.67,257.78 394.10,258.00 390.53,258.23 386.97,258.47 383.40,258.73 379.83,258.99 376.27,259.28 372.70,259.58 369.13,259.90 365.57,260.25 362.00,260.63 358.43,261.04 354.87,261.45 351.30,261.89 347.73,262.33 344.17,262.79 340.60,263.26 337.03,263.74 333.47,264.22 329.90,264.70 326.33,265.20 322.77,265.69 319.20,266.19 315.63,266.68 312.07,267.17 308.50,267.65" fill="#cfcf2e" />
<polyline points="308.50,263.05 312.07,262.56 315.63,262.06 319.20,261.55 322.77,261.04 326.33,260.54 329.90,260.03 333.47,259.53 337.03,259.04 340.60,258.55 344.17,258.07 347.73,257.60 351.30,257.15 354.87,256.69 358.43,256.27 362.00,255.85 365.57,255.46 369.13,255.09 372.70,254.73 376.27,254.40 379.83,254.08 383.40,253.78 386.97,253.48 390.53,253.21 394.10,252.94 397.67,252.68 401.23,252.43 404.80,252.19 408.37,251.96 411.93,251.73 415.50,251.52 419.07,251.30 422.63,251.10 426.20,250.90 429.77,250.73 433.33,250.59 436.90,250.48 440.47,250.41 444.03,250.37 447.60,250.36 451.17,250.36 454.73,250.37 458.30,250.37 461.87,250.36 465.43,250.32 469.00,250.25 472.57,250.19 476.13,250.12 479.70,250.06 483.27,250.00 486.83,249.94 490.40,249.88 493.97,249.82 497.53,249.76 501.10,249.70 504.67,249.64 508.23,249.58 511.80,249.53 515.37,249.47 518.93,249.41 522.50,249.35" fill="none" stroke="#a0a020" stroke-width="0.5" />
<polyline points="308.50,267.65 312.07,267.17 315.63,266.68 319.20,266.19 322.77,265.69 326.33,265.20 329.90,264.70 333.47,264.22 337.03,263.74 340.60,263.26 344.17,262.79 347.73,262.33 351.30,261.89 354.87,261.45 358.43,261.04 362.00,260.63 365.57,260.25 369.13,259.90 372.70,259.58 376.27,259.28 379.83,258.99 383.40,258.73 386.97,258.47 390.53,258.23 394.10,258.00 397.67,257.78 401.23,257.56 404.80,257.36 408.37,257.16 411.93,256.97 415.50,256.79 419.07,256.61 422.63,256.44 426.20,256.28 429.77,256.11 433.33,255.93 436.90,255.78 440.47,255.67 444.03,255.59 447.60,255.54 451.17,255.51 454.73,255.48 458.30,255.44 461.87,255.38 465.43,255.34 469.00,255.32 472.57,255.31 476.13,255.29 479.70,255.28 483.27,255.26 486.83,255.25 490.40,255.24 493.97,255.23 497.53,255.22 501.10,255.21 504.67,255.20 508.23,255.19 511.80,255.18 515.37,255.17 518.93,255.16 522.50,255.15" fill="none" stroke="#a0a020" stroke-width="0.5" />
<polyline points="308.50,265.35 312.07,264.87 315.63,264.37 319.20,263.87 322.77,263.37 326.33,262.87 329.90,262.37 333.47,261.87 337.03,261.39 340.60,260.91 344.17,260.43 347.73,259.97 351.30,259.52 354.87,259.07 358.43,258.65 362.00,258.24 365.57,257.86 369.13,257.49 372.70,257.16 376.27,256.84 379.83,256.54 383.40,256.25 386.97,255.98 390.53,255.72 394.10,255.47 397.67,255.23 401.23,255.00 404.80,254.77 408.37,254.56 411.93,254.35 415.50,254.15 419.07,253.96 422.63,253.77 426.20,253.59 429.77,253.42 433.33,253.26 436.90,253.13 440.47,253.04 444.03,252.98 447.60,252.95 451.17,252.94 454.73,252.92 458.30,252.91 461.87,252.87 465.43,252.83 469.00,252.79 472.57,252.75 476.13,252.71 479.70,252.67 483.27,252.63 486.83,252.60 490.40,252.56 493.97,252.52 497.53,252.49 501.10,252.46 504.67,252.42 508.23,252.39 511.80,252.35 515.37,252.32 518.93,252.29 522.50,252.25" fill="none" stroke="#4a4a30" stroke-width="0.55" stroke-dasharray="1.2,1.2"/>
<polyline points="308.50,266.50 312.04,266.16 316.58,265.70 321.96,265.16 327.99,264.55 334.50,263.90 341.31,263.24 348.24,262.60 355.12,261.99 361.76,261.45 368.00,261.00 374.09,260.63 380.35,260.31 386.72,260.02 393.12,259.77 399.47,259.54 405.70,259.34 411.75,259.15 417.53,258.97 422.97,258.79 428.00,258.60 432.47,258.41 436.38,258.23 439.86,258.06 443.05,257.90 446.09,257.75 449.13,257.61 452.30,257.49 455.74,257.37 459.60,257.28 464.00,257.20 469.20,257.14 475.20,257.11 481.74,257.10 488.59,257.10 495.50,257.11 502.23,257.13 508.54,257.16 514.18,257.18 518.92,257.19 522.50,257.20" fill="none" stroke="#f8b8b8" stroke-width="0.8" />
<polyline points="308.50,270.30 312.04,270.10 316.58,269.82 321.96,269.49 327.99,269.13 334.50,268.74 341.31,268.35 348.24,267.97 355.12,267.62 361.76,267.33 368.00,267.10 374.09,266.94 380.35,266.82 386.72,266.75 393.12,266.70 399.47,266.68 405.70,266.66 411.75,266.64 417.53,266.62 422.97,266.57 428.00,266.50 432.47,266.40 436.38,266.28 439.86,266.15 443.05,266.01 446.09,265.86 449.13,265.72 452.30,265.59 455.74,265.47 459.60,265.37 464.00,265.30 469.20,265.25 475.20,265.22 481.74,265.21 488.59,265.21 495.50,265.23 502.23,265.24 508.54,265.26 514.18,265.28 518.92,265.29 522.50,265.30" fill="none" stroke="#f8c4c4" stroke-width="0.8" />
<polyline points="308.50,268.70 312.04,268.49 316.58,268.20 321.96,267.86 327.99,267.48 334.50,267.08 341.31,266.67 348.24,266.26 355.12,265.87 361.76,265.51 368.00,265.20 374.09,264.93 380.35,264.66 386.72,264.41 393.12,264.18 399.47,263.96 405.70,263.75 411.75,263.56 417.53,263.39 422.97,263.23 428.00,263.10 432.47,262.99 436.38,262.90 439.86,262.83 443.05,262.78 446.09,262.75 449.13,262.73 452.30,262.72 455.74,262.71 459.60,262.70 464.00,262.70 469.20,262.70 475.20,262.72 481.74,262.75 488.59,262.78 495.50,262.82 502.23,262.87 508.54,262.91 514.18,262.95 518.92,262.98 522.50,263.00" fill="none" stroke="#e84040" stroke-width="1.0" />
<polyline points="308.50,264.20 312.04,263.74 316.58,263.10 321.96,262.34 327.99,261.48 334.50,260.59 341.31,259.69 348.24,258.83 355.12,258.05 361.76,257.39 368.00,256.90 374.09,256.57 380.35,256.36 386.72,256.24 393.12,256.20 399.47,256.21 405.70,256.25 411.75,256.30 417.53,256.34 422.97,256.35 428.00,256.30 432.47,256.21 436.38,256.11 439.86,256.00 443.05,255.88 446.09,255.76 449.13,255.65 452.30,255.54 455.74,255.44 459.60,255.36 464.00,255.30 469.20,255.26 475.20,255.24 481.74,255.23 488.59,255.23 495.50,255.24 502.23,255.25 508.54,255.27 514.18,255.28 518.92,255.30 522.50,255.30" fill="none" stroke="#3f5fd0" stroke-width="1.0" stroke-dasharray="1.3,1.5"/>
<circle cx="315.40" cy="265.40" r="1.90" fill="#000" stroke="none" stroke-width="1"/>
<circle cx="328.30" cy="262.30" r="1.90" fill="#000" stroke="none" stroke-width="1"/>
<circle cx="341.00" cy="259.70" r="1.90" fill="#000" stroke="none" stroke-width="1"/>
<circle cx="353.70" cy="261.10" r="1.90" fill="#000" stroke="none" stroke-width="1"/>
<circle cx="366.20" cy="258.00" r="1.90" fill="#000" stroke="none" stroke-width="1"/>
<circle cx="379.30" cy="254.40" r="1.90" fill="#000" stroke="none" stroke-width="1"/>
<circle cx="391.70" cy="256.70" r="1.90" fill="#000" stroke="none" stroke-width="1"/>
<circle cx="403.50" cy="258.30" r="1.90" fill="#000" stroke="none" stroke-width="1"/>
<circle cx="415.40" cy="256.00" r="1.90" fill="#000" stroke="none" stroke-width="1"/>
<circle cx="427.60" cy="252.20" r="1.90" fill="#000" stroke="none" stroke-width="1"/>
<circle cx="440.10" cy="254.70" r="1.90" fill="#000" stroke="none" stroke-width="1"/>
<circle cx="452.00" cy="253.10" r="1.90" fill="#000" stroke="none" stroke-width="1"/>
<circle cx="465.50" cy="252.60" r="1.90" fill="#000" stroke="none" stroke-width="1"/>
<circle cx="479.50" cy="253.00" r="1.90" fill="#000" stroke="none" stroke-width="1"/>
<circle cx="492.50" cy="251.80" r="1.90" fill="#000" stroke="none" stroke-width="1"/>
<circle cx="504.50" cy="251.80" r="1.90" fill="#000" stroke="none" stroke-width="1"/>
<circle cx="515.50" cy="251.50" r="1.90" fill="#000" stroke="none" stroke-width="1"/>
</g>
<rect x="308.50" y="210.60" width="214.00" height="62.70" fill="none" stroke="#777" stroke-width="0.9" />
<line x1="317.60" y1="273.30" x2="317.60" y2="270.10" stroke="#777" stroke-width="0.8" />
<line x1="317.60" y1="210.60" x2="317.60" y2="213.80" stroke="#777" stroke-width="0.8" />
<line x1="353.51" y1="273.30" x2="353.51" y2="270.10" stroke="#777" stroke-width="0.8" />
<line x1="353.51" y1="210.60" x2="353.51" y2="213.80" stroke="#777" stroke-width="0.8" />
<line x1="378.98" y1="273.30" x2="378.98" y2="270.10" stroke="#777" stroke-width="0.8" />
<line x1="378.98" y1="210.60" x2="378.98" y2="213.80" stroke="#777" stroke-width="0.8" />
<line x1="398.74" y1="273.30" x2="398.74" y2="270.10" stroke="#777" stroke-width="0.8" />
<line x1="398.74" y1="210.60" x2="398.74" y2="213.80" stroke="#777" stroke-width="0.8" />
<line x1="414.89" y1="273.30" x2="414.89" y2="270.10" stroke="#777" stroke-width="0.8" />
<line x1="414.89" y1="210.60" x2="414.89" y2="213.80" stroke="#777" stroke-width="0.8" />
<line x1="428.54" y1="273.30" x2="428.54" y2="270.10" stroke="#777" stroke-width="0.8" />
<line x1="428.54" y1="210.60" x2="428.54" y2="213.80" stroke="#777" stroke-width="0.8" />
<line x1="440.36" y1="273.30" x2="440.36" y2="270.10" stroke="#777" stroke-width="0.8" />
<line x1="440.36" y1="210.60" x2="440.36" y2="213.80" stroke="#777" stroke-width="0.8" />
<line x1="450.79" y1="273.30" x2="450.79" y2="270.10" stroke="#777" stroke-width="0.8" />
<line x1="450.79" y1="210.60" x2="450.79" y2="213.80" stroke="#777" stroke-width="0.8" />
<line x1="460.12" y1="273.30" x2="460.12" y2="267.30" stroke="#777" stroke-width="0.8" />
<line x1="460.12" y1="210.60" x2="460.12" y2="216.60" stroke="#777" stroke-width="0.8" />
<line x1="521.50" y1="273.30" x2="521.50" y2="270.10" stroke="#777" stroke-width="0.8" />
<line x1="521.50" y1="210.60" x2="521.50" y2="213.80" stroke="#777" stroke-width="0.8" />
<line x1="308.50" y1="268.07" x2="311.00" y2="268.07" stroke="#777" stroke-width="0.7" />
<line x1="522.50" y1="268.07" x2="520.00" y2="268.07" stroke="#777" stroke-width="0.7" />
<line x1="308.50" y1="262.85" x2="313.10" y2="262.85" stroke="#777" stroke-width="0.7" />
<line x1="522.50" y1="262.85" x2="517.90" y2="262.85" stroke="#777" stroke-width="0.7" />
<line x1="308.50" y1="257.62" x2="311.00" y2="257.62" stroke="#777" stroke-width="0.7" />
<line x1="522.50" y1="257.62" x2="520.00" y2="257.62" stroke="#777" stroke-width="0.7" />
<line x1="308.50" y1="252.40" x2="313.10" y2="252.40" stroke="#777" stroke-width="0.7" />
<line x1="522.50" y1="252.40" x2="517.90" y2="252.40" stroke="#777" stroke-width="0.7" />
<line x1="308.50" y1="247.18" x2="311.00" y2="247.18" stroke="#777" stroke-width="0.7" />
<line x1="522.50" y1="247.18" x2="520.00" y2="247.18" stroke="#777" stroke-width="0.7" />
<line x1="308.50" y1="241.95" x2="313.10" y2="241.95" stroke="#777" stroke-width="0.7" />
<line x1="522.50" y1="241.95" x2="517.90" y2="241.95" stroke="#777" stroke-width="0.7" />
<line x1="308.50" y1="236.72" x2="311.00" y2="236.72" stroke="#777" stroke-width="0.7" />
<line x1="522.50" y1="236.72" x2="520.00" y2="236.72" stroke="#777" stroke-width="0.7" />
<line x1="308.50" y1="231.50" x2="313.10" y2="231.50" stroke="#777" stroke-width="0.7" />
<line x1="522.50" y1="231.50" x2="517.90" y2="231.50" stroke="#777" stroke-width="0.7" />
<line x1="308.50" y1="226.28" x2="311.00" y2="226.28" stroke="#777" stroke-width="0.7" />
<line x1="522.50" y1="226.28" x2="520.00" y2="226.28" stroke="#777" stroke-width="0.7" />
<line x1="308.50" y1="221.05" x2="313.10" y2="221.05" stroke="#777" stroke-width="0.7" />
<line x1="522.50" y1="221.05" x2="517.90" y2="221.05" stroke="#777" stroke-width="0.7" />
<line x1="308.50" y1="215.82" x2="311.00" y2="215.82" stroke="#777" stroke-width="0.7" />
<line x1="522.50" y1="215.82" x2="520.00" y2="215.82" stroke="#777" stroke-width="0.7" />
<text x="306.80" y="276.50" font-family='"Liberation Sans", sans-serif' font-size="8.9" text-anchor="end" font-weight="normal" font-style="normal" fill="#111" >0</text>
<text x="306.80" y="266.05" font-family='"Liberation Sans", sans-serif' font-size="8.9" text-anchor="end" font-weight="normal" font-style="normal" fill="#111" >0.02</text>
<text x="306.80" y="255.60" font-family='"Liberation Sans", sans-serif' font-size="8.9" text-anchor="end" font-weight="normal" font-style="normal" fill="#111" >0.04</text>
<text x="306.80" y="245.15" font-family='"Liberation Sans", sans-serif' font-size="8.9" text-anchor="end" font-weight="normal" font-style="normal" fill="#111" >0.06</text>
<text x="306.80" y="234.70" font-family='"Liberation Sans", sans-serif' font-size="8.9" text-anchor="end" font-weight="normal" font-style="normal" fill="#111" >0.08</text>
<text x="306.80" y="224.25" font-family='"Liberation Sans", sans-serif' font-size="8.9" text-anchor="end" font-weight="normal" font-style="normal" fill="#111" >0.1</text>
<text x="326.60" y="251.60" font-family='"Liberation Sans", sans-serif' font-size="9.2" text-anchor="start" font-weight="bold" font-style="normal" fill="#111" >|y| &lt; 0.5</text>
<clipPath id="cd1"><rect x="308.5" y="278.4" width="214.0" height="30.0"/></clipPath>
<g clip-path="url(#cd1)">
<polygon points="308.50,299.90 312.07,299.48 315.63,299.05 319.20,298.61 322.77,298.17 326.33,297.74 329.90,297.30 333.47,296.87 337.03,296.45 340.60,296.03 344.17,295.62 347.73,295.21 351.30,294.81 354.87,294.42 358.43,294.04 362.00,293.67 365.57,293.33 369.13,293.00 372.70,292.67 376.27,292.35 379.83,292.05 383.40,291.75 386.97,291.47 390.53,291.19 394.10,290.93 397.67,290.67 401.23,290.42 404.80,290.18 408.37,289.94 411.93,289.71 415.50,289.50 419.07,289.29 422.63,289.08 426.20,288.89 429.77,288.72 433.33,288.55 436.90,288.42 440.47,288.34 444.03,288.29 447.60,288.27 451.17,288.27 454.73,288.27 458.30,288.26 461.87,288.23 465.43,288.18 469.00,288.15 472.57,288.11 476.13,288.07 479.70,288.03 483.27,288.00 486.83,287.96 490.40,287.92 493.97,287.89 497.53,287.85 501.10,287.81 504.67,287.78 508.23,287.74 511.80,287.71 515.37,287.67 518.93,287.64 522.50,287.60 522.50,292.00 518.93,292.02 515.37,292.05 511.80,292.07 508.23,292.09 504.67,292.12 501.10,292.14 497.53,292.17 493.97,292.19 490.40,292.21 486.83,292.24 483.27,292.26 479.70,292.29 476.13,292.31 472.57,292.34 469.00,292.36 465.43,292.39 461.87,292.40 458.30,292.40 454.73,292.37 451.17,292.33 447.60,292.29 444.03,292.27 440.47,292.27 436.90,292.32 433.33,292.41 429.77,292.53 426.20,292.68 422.63,292.85 419.07,293.03 415.50,293.21 411.93,293.41 408.37,293.61 404.80,293.82 401.23,294.04 397.67,294.27 394.10,294.50 390.53,294.74 386.97,294.99 383.40,295.26 379.83,295.52 376.27,295.81 372.70,296.10 369.13,296.40 365.57,296.74 362.00,297.09 358.43,297.48 354.87,297.86 351.30,298.27 347.73,298.67 344.17,299.10 340.60,299.52 337.03,299.95 333.47,300.39 329.90,300.83 326.33,301.28 322.77,301.73 319.20,302.17 315.63,302.62 312.07,303.07 308.50,303.50" fill="#cfcf2e" />
<polyline points="308.50,299.90 312.07,299.48 315.63,299.05 319.20,298.61 322.77,298.17 326.33,297.74 329.90,297.30 333.47,296.87 337.03,296.45 340.60,296.03 344.17,295.62 347.73,295.21 351.30,294.81 354.87,294.42 358.43,294.04 362.00,293.67 365.57,293.33 369.13,293.00 372.70,292.67 376.27,292.35 379.83,292.05 383.40,291.75 386.97,291.47 390.53,291.19 394.10,290.93 397.67,290.67 401.23,290.42 404.80,290.18 408.37,289.94 411.93,289.71 415.50,289.50 419.07,289.29 422.63,289.08 426.20,288.89 429.77,288.72 433.33,288.55 436.90,288.42 440.47,288.34 444.03,288.29 447.60,288.27 451.17,288.27 454.73,288.27 458.30,288.26 461.87,288.23 465.43,288.18 469.00,288.15 472.57,288.11 476.13,288.07 479.70,288.03 483.27,288.00 486.83,287.96 490.40,287.92 493.97,287.89 497.53,287.85 501.10,287.81 504.67,287.78 508.23,287.74 511.80,287.71 515.37,287.67 518.93,287.64 522.50,287.60" fill="none" stroke="#a0a020" stroke-width="0.5" />
<polyline points="308.50,303.50 312.07,303.07 315.63,302.62 319.20,302.17 322.77,301.73 326.33,301.28 329.90,300.83 333.47,300.39 337.03,299.95 340.60,299.52 344.17,299.10 347.73,298.67 351.30,298.27 354.87,297.86 358.43,297.48 362.00,297.09 365.57,296.74 369.13,296.40 372.70,296.10 376.27,295.81 379.83,295.52 383.40,295.26 386.97,294.99 390.53,294.74 394.10,294.50 397.67,294.27 401.23,294.04 404.80,293.82 408.37,293.61 411.93,293.41 415.50,293.21 419.07,293.03 422.63,292.85 426.20,292.68 429.77,292.53 433.33,292.41 436.90,292.32 440.47,292.27 444.03,292.27 447.60,292.29 451.17,292.33 454.73,292.37 458.30,292.40 461.87,292.40 465.43,292.39 469.00,292.36 472.57,292.34 476.13,292.31 479.70,292.29 483.27,292.26 486.83,292.24 490.40,292.21 493.97,292.19 497.53,292.17 501.10,292.14 504.67,292.12 508.23,292.09 511.80,292.07 515.37,292.05 518.93,292.02 522.50,292.00" fill="none" stroke="#a0a020" stroke-width="0.5" />
<polyline points="308.50,301.70 312.07,301.27 315.63,300.83 319.20,300.39 322.77,299.95 326.33,299.51 329.90,299.07 333.47,298.63 337.03,298.20 340.60,297.77 344.17,297.36 347.73,296.94 351.30,296.54 354.87,296.14 358.43,295.76 362.00,295.38 365.57,295.04 369.13,294.70 372.70,294.38 376.27,294.08 379.83,293.78 383.40,293.51 386.97,293.23 390.53,292.97 394.10,292.71 397.67,292.47 401.23,292.23 404.80,292.00 408.37,291.78 411.93,291.56 415.50,291.35 419.07,291.16 422.63,290.97 426.20,290.79 429.77,290.63 433.33,290.48 436.90,290.37 440.47,290.30 444.03,290.28 447.60,290.28 451.17,290.30 454.73,290.32 458.30,290.33 461.87,290.31 465.43,290.29 469.00,290.25 472.57,290.22 476.13,290.19 479.70,290.16 483.27,290.13 486.83,290.10 490.40,290.07 493.97,290.04 497.53,290.01 501.10,289.98 504.67,289.95 508.23,289.92 511.80,289.89 515.37,289.86 518.93,289.83 522.50,289.80" fill="none" stroke="#4a4a30" stroke-width="0.55" stroke-dasharray="1.2,1.2"/>
<polyline points="308.50,302.00 312.04,301.69 316.58,301.28 321.96,300.78 327.99,300.23 334.50,299.64 341.31,299.04 348.24,298.45 355.12,297.90 361.76,297.41 368.00,297.00 374.09,296.66 380.35,296.35 386.72,296.07 393.12,295.82 399.47,295.60 405.70,295.40 411.75,295.22 417.53,295.07 422.97,294.93 428.00,294.80 432.47,294.70 436.38,294.62 439.86,294.57 443.05,294.55 446.09,294.54 449.13,294.54 452.30,294.55 455.74,294.57 459.60,294.59 464.00,294.60 469.20,294.62 475.20,294.65 481.74,294.69 488.59,294.74 495.50,294.79 502.23,294.84 508.54,294.89 514.18,294.94 518.92,294.97 522.50,295.00" fill="none" stroke="#f8b8b8" stroke-width="0.8" />
<polyline points="308.50,306.60 312.04,306.35 316.58,306.02 321.96,305.62 327.99,305.17 334.50,304.69 341.31,304.21 348.24,303.74 355.12,303.30 361.76,302.92 368.00,302.60 374.09,302.34 380.35,302.11 386.72,301.91 393.12,301.74 399.47,301.59 405.70,301.46 411.75,301.35 417.53,301.25 422.97,301.17 428.00,301.10 432.47,301.05 436.38,301.03 439.86,301.04 443.05,301.07 446.09,301.11 449.13,301.15 452.30,301.20 455.74,301.25 459.60,301.28 464.00,301.30 469.20,301.31 475.20,301.31 481.74,301.31 488.59,301.31 495.50,301.31 502.23,301.31 508.54,301.31 514.18,301.30 518.92,301.30 522.50,301.30" fill="none" stroke="#f8c4c4" stroke-width="0.8" />
<polyline points="308.50,304.50 312.04,304.23 316.58,303.88 321.96,303.45 327.99,302.98 334.50,302.48 341.31,301.96 348.24,301.46 355.12,300.98 361.76,300.56 368.00,300.20 374.09,299.90 380.35,299.63 386.72,299.38 393.12,299.15 399.47,298.95 405.70,298.77 411.75,298.60 417.53,298.45 422.97,298.32 428.00,298.20 432.47,298.09 436.38,298.01 439.86,297.94 443.05,297.89 446.09,297.86 449.13,297.84 452.30,297.83 455.74,297.84 459.60,297.87 464.00,297.90 469.20,297.96 475.20,298.05 481.74,298.16 488.59,298.29 495.50,298.43 502.23,298.57 508.54,298.71 514.18,298.83 518.92,298.93 522.50,299.00" fill="none" stroke="#e84040" stroke-width="1.0" />
<polyline points="308.50,301.10 312.04,300.64 316.58,300.01 321.96,299.26 327.99,298.42 334.50,297.53 341.31,296.64 348.24,295.78 355.12,294.99 361.76,294.32 368.00,293.80 374.09,293.42 380.35,293.14 386.72,292.93 393.12,292.79 399.47,292.70 405.70,292.65 411.75,292.61 417.53,292.59 422.97,292.55 428.00,292.50 432.47,292.44 436.38,292.40 439.86,292.38 443.05,292.37 446.09,292.37 449.13,292.38 452.30,292.38 455.74,292.39 459.60,292.40 464.00,292.40 469.20,292.40 475.20,292.39 481.74,292.39 488.59,292.39 495.50,292.39 502.23,292.40 508.54,292.40 514.18,292.40 518.92,292.40 522.50,292.40" fill="none" stroke="#3f5fd0" stroke-width="1.0" stroke-dasharray="1.3,1.5"/>
<circle cx="315.40" cy="300.50" r="1.70" fill="none" stroke="#222" stroke-width="0.7"/>
<circle cx="328.30" cy="301.70" r="1.70" fill="none" stroke="#222" stroke-width="0.7"/>
<circle cx="341.00" cy="300.30" r="1.70" fill="none" stroke="#222" stroke-width="0.7"/>
<circle cx="353.70" cy="296.30" r="1.70" fill="none" stroke="#222" stroke-width="0.7"/>
<circle cx="366.20" cy="295.10" r="1.70" fill="none" stroke="#222" stroke-width="0.7"/>
<circle cx="379.30" cy="293.90" r="1.70" fill="none" stroke="#222" stroke-width="0.7"/>
<circle cx="391.70" cy="294.60" r="1.70" fill="none" stroke="#222" stroke-width="0.7"/>
<circle cx="403.50" cy="291.30" r="1.70" fill="none" stroke="#222" stroke-width="0.7"/>
<circle cx="415.40" cy="292.20" r="1.70" fill="none" stroke="#222" stroke-width="0.7"/>
<circle cx="427.60" cy="290.30" r="1.70" fill="none" stroke="#222" stroke-width="0.7"/>
<circle cx="440.10" cy="290.10" r="1.70" fill="none" stroke="#222" stroke-width="0.7"/>
<circle cx="452.00" cy="291.40" r="1.70" fill="none" stroke="#222" stroke-width="0.7"/>
<circle cx="465.50" cy="290.50" r="1.70" fill="none" stroke="#222" stroke-width="0.7"/>
<circle cx="479.50" cy="291.00" r="1.70" fill="none" stroke="#222" stroke-width="0.7"/>
<circle cx="492.50" cy="289.80" r="1.70" fill="none" stroke="#222" stroke-width="0.7"/>
<circle cx="504.50" cy="289.30" r="1.70" fill="none" stroke="#222" stroke-width="0.7"/>
<circle cx="515.50" cy="289.60" r="1.70" fill="none" stroke="#222" stroke-width="0.7"/>
</g>
<rect x="308.50" y="278.40" width="214.00" height="30.00" fill="none" stroke="#777" stroke-width="0.9" />
<line x1="317.60" y1="308.40" x2="317.60" y2="305.20" stroke="#777" stroke-width="0.8" />
<line x1="317.60" y1="278.40" x2="317.60" y2="281.60" stroke="#777" stroke-width="0.8" />
<line x1="353.51" y1="308.40" x2="353.51" y2="305.20" stroke="#777" stroke-width="0.8" />
<line x1="353.51" y1="278.40" x2="353.51" y2="281.60" stroke="#777" stroke-width="0.8" />
<line x1="378.98" y1="308.40" x2="378.98" y2="305.20" stroke="#777" stroke-width="0.8" />
<line x1="378.98" y1="278.40" x2="378.98" y2="281.60" stroke="#777" stroke-width="0.8" />
<line x1="398.74" y1="308.40" x2="398.74" y2="305.20" stroke="#777" stroke-width="0.8" />
<line x1="398.74" y1="278.40" x2="398.74" y2="281.60" stroke="#777" stroke-width="0.8" />
<line x1="414.89" y1="308.40" x2="414.89" y2="305.20" stroke="#777" stroke-width="0.8" />
<line x1="414.89" y1="278.40" x2="414.89" y2="281.60" stroke="#777" stroke-width="0.8" />
<line x1="428.54" y1="308.40" x2="428.54" y2="305.20" stroke="#777" stroke-width="0.8" />
<line x1="428.54" y1="278.40" x2="428.54" y2="281.60" stroke="#777" stroke-width="0.8" />
<line x1="440.36" y1="308.40" x2="440.36" y2="305.20" stroke="#777" stroke-width="0.8" />
<line x1="440.36" y1="278.40" x2="440.36" y2="281.60" stroke="#777" stroke-width="0.8" />
<line x1="450.79" y1="308.40" x2="450.79" y2="305.20" stroke="#777" stroke-width="0.8" />
<line x1="450.79" y1="278.40" x2="450.79" y2="281.60" stroke="#777" stroke-width="0.8" />
<line x1="460.12" y1="308.40" x2="460.12" y2="302.40" stroke="#777" stroke-width="0.8" />
<line x1="460.12" y1="278.40" x2="460.12" y2="284.40" stroke="#777" stroke-width="0.8" />
<line x1="521.50" y1="308.40" x2="521.50" y2="305.20" stroke="#777" stroke-width="0.8" />
<line x1="521.50" y1="278.40" x2="521.50" y2="281.60" stroke="#777" stroke-width="0.8" />
<line x1="308.50" y1="303.40" x2="311.00" y2="303.40" stroke="#777" stroke-width="0.7" />
<line x1="522.50" y1="303.40" x2="520.00" y2="303.40" stroke="#777" stroke-width="0.7" />
<line x1="308.50" y1="298.40" x2="313.10" y2="298.40" stroke="#777" stroke-width="0.7" />
<line x1="522.50" y1="298.40" x2="517.90" y2="298.40" stroke="#777" stroke-width="0.7" />
<line x1="308.50" y1="293.40" x2="311.00" y2="293.40" stroke="#777" stroke-width="0.7" />
<line x1="522.50" y1="293.40" x2="520.00" y2="293.40" stroke="#777" stroke-width="0.7" />
<line x1="308.50" y1="288.40" x2="313.10" y2="288.40" stroke="#777" stroke-width="0.7" />
<line x1="522.50" y1="288.40" x2="517.90" y2="288.40" stroke="#777" stroke-width="0.7" />
<line x1="308.50" y1="283.40" x2="311.00" y2="283.40" stroke="#777" stroke-width="0.7" />
<line x1="522.50" y1="283.40" x2="520.00" y2="283.40" stroke="#777" stroke-width="0.7" />
<text x="306.80" y="311.60" font-family='"Liberation Sans", sans-serif' font-size="8.9" text-anchor="end" font-weight="normal" font-style="normal" fill="#111" >0</text>
<text x="306.80" y="301.60" font-family='"Liberation Sans", sans-serif' font-size="8.9" text-anchor="end" font-weight="normal" font-style="normal" fill="#111" >0.02</text>
<text x="306.80" y="291.60" font-family='"Liberation Sans", sans-serif' font-size="8.9" text-anchor="end" font-weight="normal" font-style="normal" fill="#111" >0.04</text>
<text x="326.00" y="287.30" font-family='"Liberation Sans", sans-serif' font-size="9.2" text-anchor="start" font-weight="bold" font-style="normal" fill="#111" >0.5 &lt; |y| &lt; 1</text>
<clipPath id="cd2"><rect x="308.5" y="312.4" width="214.0" height="30.600000000000023"/></clipPath>
<g clip-path="url(#cd2)">
<polygon points="308.50,336.10 312.07,335.66 315.63,335.19 319.20,334.73 322.77,334.26 326.33,333.80 329.90,333.34 333.47,332.88 337.03,332.43 340.60,331.99 344.17,331.56 347.73,331.13 351.30,330.72 354.87,330.31 358.43,329.93 362.00,329.56 365.57,329.23 369.13,328.90 372.70,328.61 376.27,328.33 379.83,328.06 383.40,327.82 386.97,327.58 390.53,327.37 394.10,327.16 397.67,326.97 401.23,326.78 404.80,326.60 408.37,326.43 411.93,326.27 415.50,326.11 419.07,325.96 422.63,325.81 426.20,325.67 429.77,325.52 433.33,325.37 436.90,325.24 440.47,325.14 444.03,325.08 447.60,325.04 451.17,325.01 454.73,324.99 458.30,324.97 461.87,324.93 465.43,324.89 469.00,324.86 472.57,324.84 476.13,324.82 479.70,324.80 483.27,324.78 486.83,324.76 490.40,324.75 493.97,324.73 497.53,324.71 501.10,324.70 504.67,324.68 508.23,324.66 511.80,324.65 515.37,324.63 518.93,324.62 522.50,324.60 522.50,328.60 518.93,328.60 515.37,328.61 511.80,328.61 508.23,328.62 504.67,328.62 501.10,328.62 497.53,328.63 493.97,328.63 490.40,328.64 486.83,328.64 483.27,328.65 479.70,328.65 476.13,328.66 472.57,328.67 469.00,328.68 465.43,328.69 461.87,328.69 458.30,328.67 454.73,328.64 451.17,328.60 447.60,328.56 444.03,328.54 440.47,328.55 436.90,328.59 433.33,328.66 429.77,328.75 426.20,328.87 422.63,329.01 419.07,329.16 415.50,329.31 411.93,329.47 408.37,329.63 404.80,329.80 401.23,329.98 397.67,330.17 394.10,330.36 390.53,330.57 386.97,330.78 383.40,331.02 379.83,331.26 376.27,331.53 372.70,331.81 369.13,332.10 365.57,332.44 362.00,332.80 358.43,333.20 354.87,333.60 351.30,334.03 347.73,334.46 344.17,334.92 340.60,335.37 337.03,335.84 333.47,336.31 329.90,336.80 326.33,337.28 322.77,337.77 319.20,338.26 315.63,338.75 312.07,339.23 308.50,339.70" fill="#cfcf2e" />
<polyline points="308.50,336.10 312.07,335.66 315.63,335.19 319.20,334.73 322.77,334.26 326.33,333.80 329.90,333.34 333.47,332.88 337.03,332.43 340.60,331.99 344.17,331.56 347.73,331.13 351.30,330.72 354.87,330.31 358.43,329.93 362.00,329.56 365.57,329.23 369.13,328.90 372.70,328.61 376.27,328.33 379.83,328.06 383.40,327.82 386.97,327.58 390.53,327.37 394.10,327.16 397.67,326.97 401.23,326.78 404.80,326.60 408.37,326.43 411.93,326.27 415.50,326.11 419.07,325.96 422.63,325.81 426.20,325.67 429.77,325.52 433.33,325.37 436.90,325.24 440.47,325.14 444.03,325.08 447.60,325.04 451.17,325.01 454.73,324.99 458.30,324.97 461.87,324.93 465.43,324.89 469.00,324.86 472.57,324.84 476.13,324.82 479.70,324.80 483.27,324.78 486.83,324.76 490.40,324.75 493.97,324.73 497.53,324.71 501.10,324.70 504.67,324.68 508.23,324.66 511.80,324.65 515.37,324.63 518.93,324.62 522.50,324.60" fill="none" stroke="#a0a020" stroke-width="0.5" />
<polyline points="308.50,339.70 312.07,339.23 315.63,338.75 319.20,338.26 322.77,337.77 326.33,337.28 329.90,336.80 333.47,336.31 337.03,335.84 340.60,335.37 344.17,334.92 347.73,334.46 351.30,334.03 354.87,333.60 358.43,333.20 362.00,332.80 365.57,332.44 369.13,332.10 372.70,331.81 376.27,331.53 379.83,331.26 383.40,331.02 386.97,330.78 390.53,330.57 394.10,330.36 397.67,330.17 401.23,329.98 404.80,329.80 408.37,329.63 411.93,329.47 415.50,329.31 419.07,329.16 422.63,329.01 426.20,328.87 429.77,328.75 433.33,328.66 436.90,328.59 440.47,328.55 444.03,328.54 447.60,328.56 451.17,328.60 454.73,328.64 458.30,328.67 461.87,328.69 465.43,328.69 469.00,328.68 472.57,328.67 476.13,328.66 479.70,328.65 483.27,328.65 486.83,328.64 490.40,328.64 493.97,328.63 497.53,328.63 501.10,328.62 504.67,328.62 508.23,328.62 511.80,328.61 515.37,328.61 518.93,328.60 522.50,328.60" fill="none" stroke="#a0a020" stroke-width="0.5" />
<polyline points="308.50,337.90 312.07,337.44 315.63,336.97 319.20,336.49 322.77,336.02 326.33,335.54 329.90,335.07 333.47,334.60 337.03,334.14 340.60,333.68 344.17,333.24 347.73,332.80 351.30,332.37 354.87,331.96 358.43,331.57 362.00,331.18 365.57,330.84 369.13,330.50 372.70,330.21 376.27,329.93 379.83,329.66 383.40,329.42 386.97,329.18 390.53,328.97 394.10,328.76 397.67,328.57 401.23,328.38 404.80,328.20 408.37,328.03 411.93,327.87 415.50,327.71 419.07,327.56 422.63,327.41 426.20,327.27 429.77,327.14 433.33,327.01 436.90,326.91 440.47,326.85 444.03,326.81 447.60,326.80 451.17,326.81 454.73,326.82 458.30,326.82 461.87,326.81 465.43,326.79 469.00,326.77 472.57,326.76 476.13,326.74 479.70,326.73 483.27,326.71 486.83,326.70 490.40,326.69 493.97,326.68 497.53,326.67 501.10,326.66 504.67,326.65 508.23,326.64 511.80,326.63 515.37,326.62 518.93,326.61 522.50,326.60" fill="none" stroke="#4a4a30" stroke-width="0.55" stroke-dasharray="1.2,1.2"/>
<polyline points="308.50,336.50 312.04,336.14 316.58,335.66 321.96,335.09 327.99,334.46 334.50,333.78 341.31,333.08 348.24,332.38 355.12,331.70 361.76,331.07 368.00,330.50 374.09,329.98 380.35,329.46 386.72,328.95 393.12,328.45 399.47,327.97 405.70,327.51 411.75,327.08 417.53,326.68 422.97,326.32 428.00,326.00 432.47,325.73 436.38,325.50 439.86,325.31 443.05,325.16 446.09,325.03 449.13,324.92 452.30,324.82 455.74,324.72 459.60,324.62 464.00,324.50 469.20,324.38 475.20,324.25 481.74,324.13 488.59,324.02 495.50,323.91 502.23,323.80 508.54,323.71 514.18,323.63 518.92,323.56 522.50,323.50" fill="none" stroke="#f8b8b8" stroke-width="0.8" />
<polyline points="308.50,341.20 312.04,340.82 316.58,340.30 321.96,339.67 327.99,338.98 334.50,338.24 341.31,337.50 348.24,336.78 355.12,336.12 361.76,335.55 368.00,335.10 374.09,334.76 380.35,334.49 386.72,334.27 393.12,334.11 399.47,333.99 405.70,333.89 411.75,333.82 417.53,333.75 422.97,333.68 428.00,333.60 432.47,333.52 436.38,333.46 439.86,333.41 443.05,333.38 446.09,333.36 449.13,333.34 452.30,333.33 455.74,333.32 459.60,333.31 464.00,333.30 469.20,333.29 475.20,333.28 481.74,333.28 488.59,333.28 495.50,333.28 502.23,333.29 508.54,333.29 514.18,333.30 518.92,333.30 522.50,333.30" fill="none" stroke="#f8c4c4" stroke-width="0.8" />
<polyline points="308.50,339.00 312.04,338.64 316.58,338.16 321.96,337.60 327.99,336.96 334.50,336.29 341.31,335.59 348.24,334.90 355.12,334.24 361.76,333.63 368.00,333.10 374.09,332.62 380.35,332.14 386.72,331.68 393.12,331.23 399.47,330.81 405.70,330.42 411.75,330.07 417.53,329.76 422.97,329.50 428.00,329.30 432.47,329.17 436.38,329.10 439.86,329.10 443.05,329.14 446.09,329.21 449.13,329.30 452.30,329.40 455.74,329.49 459.60,329.56 464.00,329.60 469.20,329.61 475.20,329.62 481.74,329.62 488.59,329.62 495.50,329.62 502.23,329.61 508.54,329.61 514.18,329.60 518.92,329.60 522.50,329.60" fill="none" stroke="#e84040" stroke-width="1.0" />
<polyline points="308.50,335.10 312.04,334.75 316.58,334.28 321.96,333.71 327.99,333.08 334.50,332.41 341.31,331.74 348.24,331.08 355.12,330.47 361.76,329.93 368.00,329.50 374.09,329.16 380.35,328.87 386.72,328.63 393.12,328.43 399.47,328.26 405.70,328.12 411.75,328.00 417.53,327.90 422.97,327.80 428.00,327.70 432.47,327.61 436.38,327.55 439.86,327.51 443.05,327.49 446.09,327.48 449.13,327.48 452.30,327.49 455.74,327.50 459.60,327.50 464.00,327.50 469.20,327.50 475.20,327.50 481.74,327.51 488.59,327.52 495.50,327.54 502.23,327.55 508.54,327.57 514.18,327.58 518.92,327.59 522.50,327.60" fill="none" stroke="#3f5fd0" stroke-width="1.0" stroke-dasharray="1.3,1.5"/>
<rect x="313.60" y="336.10" width="3.60" height="3.60" fill="#000" stroke="none" stroke-width="1" />
<rect x="326.50" y="332.50" width="3.60" height="3.60" fill="#000" stroke="none" stroke-width="1" />
<rect x="339.20" y="332.50" width="3.60" height="3.60" fill="#000" stroke="none" stroke-width="1" />
<rect x="351.90" y="327.30" width="3.60" height="3.60" fill="#000" stroke="none" stroke-width="1" />
<rect x="364.40" y="329.60" width="3.60" height="3.60" fill="#000" stroke="none" stroke-width="1" />
<rect x="377.50" y="327.10" width="3.60" height="3.60" fill="#000" stroke="none" stroke-width="1" />
<rect x="389.90" y="327.90" width="3.60" height="3.60" fill="#000" stroke="none" stroke-width="1" />
<rect x="401.70" y="322.40" width="3.60" height="3.60" fill="#000" stroke="none" stroke-width="1" />
<rect x="413.60" y="325.60" width="3.60" height="3.60" fill="#000" stroke="none" stroke-width="1" />
<rect x="425.80" y="325.30" width="3.60" height="3.60" fill="#000" stroke="none" stroke-width="1" />
<rect x="438.30" y="326.40" width="3.60" height="3.60" fill="#000" stroke="none" stroke-width="1" />
<rect x="450.20" y="325.40" width="3.60" height="3.60" fill="#000" stroke="none" stroke-width="1" />
<rect x="463.70" y="325.00" width="3.60" height="3.60" fill="#000" stroke="none" stroke-width="1" />
<rect x="477.70" y="324.30" width="3.60" height="3.60" fill="#000" stroke="none" stroke-width="1" />
<rect x="490.70" y="324.30" width="3.60" height="3.60" fill="#000" stroke="none" stroke-width="1" />
<rect x="502.70" y="324.70" width="3.60" height="3.60" fill="#000" stroke="none" stroke-width="1" />
<rect x="513.70" y="325.40" width="3.60" height="3.60" fill="#000" stroke="none" stroke-width="1" />
</g>
<rect x="308.50" y="312.40" width="214.00" height="30.60" fill="none" stroke="#777" stroke-width="0.9" />
<line x1="317.60" y1="343.00" x2="317.60" y2="339.80" stroke="#777" stroke-width="0.8" />
<line x1="317.60" y1="312.40" x2="317.60" y2="315.60" stroke="#777" stroke-width="0.8" />
<line x1="353.51" y1="343.00" x2="353.51" y2="339.80" stroke="#777" stroke-width="0.8" />
<line x1="353.51" y1="312.40" x2="353.51" y2="315.60" stroke="#777" stroke-width="0.8" />
<line x1="378.98" y1="343.00" x2="378.98" y2="339.80" stroke="#777" stroke-width="0.8" />
<line x1="378.98" y1="312.40" x2="378.98" y2="315.60" stroke="#777" stroke-width="0.8" />
<line x1="398.74" y1="343.00" x2="398.74" y2="339.80" stroke="#777" stroke-width="0.8" />
<line x1="398.74" y1="312.40" x2="398.74" y2="315.60" stroke="#777" stroke-width="0.8" />
<line x1="414.89" y1="343.00" x2="414.89" y2="339.80" stroke="#777" stroke-width="0.8" />
<line x1="414.89" y1="312.40" x2="414.89" y2="315.60" stroke="#777" stroke-width="0.8" />
<line x1="428.54" y1="343.00" x2="428.54" y2="339.80" stroke="#777" stroke-width="0.8" />
<line x1="428.54" y1="312.40" x2="428.54" y2="315.60" stroke="#777" stroke-width="0.8" />
<line x1="440.36" y1="343.00" x2="440.36" y2="339.80" stroke="#777" stroke-width="0.8" />
<line x1="440.36" y1="312.40" x2="440.36" y2="315.60" stroke="#777" stroke-width="0.8" />
<line x1="450.79" y1="343.00" x2="450.79" y2="339.80" stroke="#777" stroke-width="0.8" />
<line x1="450.79" y1="312.40" x2="450.79" y2="315.60" stroke="#777" stroke-width="0.8" />
<line x1="460.12" y1="343.00" x2="460.12" y2="337.00" stroke="#777" stroke-width="0.8" />
<line x1="460.12" y1="312.40" x2="460.12" y2="318.40" stroke="#777" stroke-width="0.8" />
<line x1="521.50" y1="343.00" x2="521.50" y2="339.80" stroke="#777" stroke-width="0.8" />
<line x1="521.50" y1="312.40" x2="521.50" y2="315.60" stroke="#777" stroke-width="0.8" />
<line x1="308.50" y1="337.90" x2="311.00" y2="337.90" stroke="#777" stroke-width="0.7" />
<line x1="522.50" y1="337.90" x2="520.00" y2="337.90" stroke="#777" stroke-width="0.7" />
<line x1="308.50" y1="332.80" x2="313.10" y2="332.80" stroke="#777" stroke-width="0.7" />
<line x1="522.50" y1="332.80" x2="517.90" y2="332.80" stroke="#777" stroke-width="0.7" />
<line x1="308.50" y1="327.70" x2="311.00" y2="327.70" stroke="#777" stroke-width="0.7" />
<line x1="522.50" y1="327.70" x2="520.00" y2="327.70" stroke="#777" stroke-width="0.7" />
<line x1="308.50" y1="322.60" x2="313.10" y2="322.60" stroke="#777" stroke-width="0.7" />
<line x1="522.50" y1="322.60" x2="517.90" y2="322.60" stroke="#777" stroke-width="0.7" />
<line x1="308.50" y1="317.50" x2="311.00" y2="317.50" stroke="#777" stroke-width="0.7" />
<line x1="522.50" y1="317.50" x2="520.00" y2="317.50" stroke="#777" stroke-width="0.7" />
<text x="306.80" y="346.20" font-family='"Liberation Sans", sans-serif' font-size="8.9" text-anchor="end" font-weight="normal" font-style="normal" fill="#111" >0</text>
<text x="306.80" y="336.00" font-family='"Liberation Sans", sans-serif' font-size="8.9" text-anchor="end" font-weight="normal" font-style="normal" fill="#111" >0.02</text>
<text x="306.80" y="325.80" font-family='"Liberation Sans", sans-serif' font-size="8.9" text-anchor="end" font-weight="normal" font-style="normal" fill="#111" >0.04</text>
<text x="326.00" y="321.10" font-family='"Liberation Sans", sans-serif' font-size="9.2" text-anchor="start" font-weight="bold" font-style="normal" fill="#111" >1 &lt; |y| &lt; 1.5</text>
<clipPath id="cd3"><rect x="308.5" y="347.0" width="214.0" height="30.5"/></clipPath>
<g clip-path="url(#cd3)">
<polygon points="308.50,370.10 312.07,369.65 315.63,369.17 319.20,368.69 322.77,368.21 326.33,367.74 329.90,367.26 333.47,366.79 337.03,366.33 340.60,365.88 344.17,365.44 347.73,365.00 351.30,364.59 354.87,364.18 358.43,363.81 362.00,363.44 365.57,363.12 369.13,362.82 372.70,362.55 376.27,362.31 379.83,362.09 383.40,361.89 386.97,361.69 390.53,361.53 394.10,361.37 397.67,361.22 401.23,361.09 404.80,360.97 408.37,360.86 411.93,360.77 415.50,360.69 419.07,360.62 422.63,360.56 426.20,360.52 429.77,360.50 433.33,360.50 436.90,360.57 440.47,360.70 444.03,360.90 447.60,361.15 451.17,361.40 454.73,361.64 458.30,361.85 461.87,362.01 465.43,362.15 469.00,362.26 472.57,362.37 476.13,362.47 479.70,362.57 483.27,362.67 486.83,362.77 490.40,362.86 493.97,362.96 497.53,363.05 501.10,363.14 504.67,363.24 508.23,363.33 511.80,363.42 515.37,363.51 518.93,363.61 522.50,363.70 522.50,367.90 518.93,367.78 515.37,367.66 511.80,367.55 508.23,367.43 504.67,367.31 501.10,367.20 497.53,367.08 493.97,366.96 490.40,366.84 486.83,366.72 483.27,366.60 479.70,366.48 476.13,366.35 472.57,366.22 469.00,366.09 465.43,365.96 461.87,365.80 458.30,365.62 454.73,365.39 451.17,365.13 447.60,364.86 444.03,364.59 440.47,364.37 436.90,364.22 433.33,364.13 429.77,364.11 426.20,364.12 422.63,364.16 419.07,364.22 415.50,364.29 411.93,364.37 408.37,364.46 404.80,364.57 401.23,364.69 397.67,364.82 394.10,364.97 390.53,365.13 386.97,365.29 383.40,365.49 379.83,365.69 376.27,365.91 372.70,366.15 369.13,366.42 365.57,366.71 362.00,367.02 358.43,367.38 354.87,367.74 351.30,368.13 347.73,368.53 344.17,368.96 340.60,369.39 337.03,369.83 333.47,370.28 329.90,370.73 326.33,371.20 322.77,371.66 319.20,372.13 315.63,372.60 312.07,373.06 308.50,373.50" fill="#cfcf2e" />
<polyline points="308.50,370.10 312.07,369.65 315.63,369.17 319.20,368.69 322.77,368.21 326.33,367.74 329.90,367.26 333.47,366.79 337.03,366.33 340.60,365.88 344.17,365.44 347.73,365.00 351.30,364.59 354.87,364.18 358.43,363.81 362.00,363.44 365.57,363.12 369.13,362.82 372.70,362.55 376.27,362.31 379.83,362.09 383.40,361.89 386.97,361.69 390.53,361.53 394.10,361.37 397.67,361.22 401.23,361.09 404.80,360.97 408.37,360.86 411.93,360.77 415.50,360.69 419.07,360.62 422.63,360.56 426.20,360.52 429.77,360.50 433.33,360.50 436.90,360.57 440.47,360.70 444.03,360.90 447.60,361.15 451.17,361.40 454.73,361.64 458.30,361.85 461.87,362.01 465.43,362.15 469.00,362.26 472.57,362.37 476.13,362.47 479.70,362.57 483.27,362.67 486.83,362.77 490.40,362.86 493.97,362.96 497.53,363.05 501.10,363.14 504.67,363.24 508.23,363.33 511.80,363.42 515.37,363.51 518.93,363.61 522.50,363.70" fill="none" stroke="#a0a020" stroke-width="0.5" />
<polyline points="308.50,373.50 312.07,373.06 315.63,372.60 319.20,372.13 322.77,371.66 326.33,371.20 329.90,370.73 333.47,370.28 337.03,369.83 340.60,369.39 344.17,368.96 347.73,368.53 351.30,368.13 354.87,367.74 358.43,367.38 362.00,367.02 365.57,366.71 369.13,366.42 372.70,366.15 376.27,365.91 379.83,365.69 383.40,365.49 386.97,365.29 390.53,365.13 394.10,364.97 397.67,364.82 401.23,364.69 404.80,364.57 408.37,364.46 411.93,364.37 415.50,364.29 419.07,364.22 422.63,364.16 426.20,364.12 429.77,364.11 433.33,364.13 436.90,364.22 440.47,364.37 444.03,364.59 447.60,364.86 451.17,365.13 454.73,365.39 458.30,365.62 461.87,365.80 465.43,365.96 469.00,366.09 472.57,366.22 476.13,366.35 479.70,366.48 483.27,366.60 486.83,366.72 490.40,366.84 493.97,366.96 497.53,367.08 501.10,367.20 504.67,367.31 508.23,367.43 511.80,367.55 515.37,367.66 518.93,367.78 522.50,367.90" fill="none" stroke="#a0a020" stroke-width="0.5" />
<polyline points="308.50,371.80 312.07,371.35 315.63,370.88 319.20,370.41 322.77,369.94 326.33,369.47 329.90,369.00 333.47,368.53 337.03,368.08 340.60,367.63 344.17,367.20 347.73,366.77 351.30,366.36 354.87,365.96 358.43,365.59 362.00,365.23 365.57,364.92 369.13,364.62 372.70,364.35 376.27,364.11 379.83,363.89 383.40,363.69 386.97,363.49 390.53,363.33 394.10,363.17 397.67,363.02 401.23,362.89 404.80,362.77 408.37,362.66 411.93,362.57 415.50,362.49 419.07,362.42 422.63,362.36 426.20,362.32 429.77,362.30 433.33,362.32 436.90,362.40 440.47,362.54 444.03,362.75 447.60,363.00 451.17,363.27 454.73,363.52 458.30,363.73 461.87,363.91 465.43,364.05 469.00,364.18 472.57,364.30 476.13,364.41 479.70,364.52 483.27,364.64 486.83,364.75 490.40,364.85 493.97,364.96 497.53,365.07 501.10,365.17 504.67,365.28 508.23,365.38 511.80,365.48 515.37,365.59 518.93,365.69 522.50,365.80" fill="none" stroke="#4a4a30" stroke-width="0.55" stroke-dasharray="1.2,1.2"/>
<polyline points="308.50,369.50 312.04,369.03 316.58,368.40 321.96,367.65 327.99,366.82 334.50,365.93 341.31,365.02 348.24,364.13 355.12,363.29 361.76,362.53 368.00,361.90 374.09,361.37 380.35,360.90 386.72,360.49 393.12,360.11 399.47,359.77 405.70,359.46 411.75,359.17 417.53,358.88 422.97,358.59 428.00,358.30 432.47,358.00 436.38,357.69 439.86,357.39 443.05,357.10 446.09,356.82 449.13,356.57 452.30,356.35 455.74,356.16 459.60,356.01 464.00,355.90 469.20,355.85 475.20,355.87 481.74,355.93 488.59,356.03 495.50,356.15 502.23,356.28 508.54,356.42 514.18,356.54 518.92,356.64 522.50,356.70" fill="none" stroke="#f8b8b8" stroke-width="0.8" />
<polyline points="308.50,375.20 312.04,374.82 316.58,374.30 321.96,373.67 327.99,372.97 334.50,372.24 341.31,371.49 348.24,370.78 355.12,370.12 361.76,369.55 368.00,369.10 374.09,368.76 380.35,368.48 386.72,368.25 393.12,368.07 399.47,367.94 405.70,367.84 411.75,367.77 417.53,367.73 422.97,367.71 428.00,367.70 432.47,367.72 436.38,367.80 439.86,367.92 443.05,368.06 446.09,368.23 449.13,368.41 452.30,368.58 455.74,368.75 459.60,368.89 464.00,369.00 469.20,369.08 475.20,369.16 481.74,369.22 488.59,369.28 495.50,369.33 502.23,369.37 508.54,369.41 514.18,369.44 518.92,369.47 522.50,369.50" fill="none" stroke="#f8c4c4" stroke-width="0.8" />
<polyline points="308.50,372.90 312.04,372.51 316.58,372.00 321.96,371.38 327.99,370.69 334.50,369.96 341.31,369.22 348.24,368.49 355.12,367.81 361.76,367.20 368.00,366.70 374.09,366.29 380.35,365.93 386.72,365.61 393.12,365.34 399.47,365.09 405.70,364.87 411.75,364.67 417.53,364.48 422.97,364.29 428.00,364.10 432.47,363.90 436.38,363.71 439.86,363.52 443.05,363.35 446.09,363.19 449.13,363.05 452.30,362.94 455.74,362.85 459.60,362.81 464.00,362.80 469.20,362.85 475.20,362.96 481.74,363.12 488.59,363.31 495.50,363.52 502.23,363.74 508.54,363.95 514.18,364.14 518.92,364.29 522.50,364.40" fill="none" stroke="#e84040" stroke-width="1.0" />
<polyline points="308.50,369.50 312.04,369.15 316.58,368.67 321.96,368.09 327.99,367.45 334.50,366.78 341.31,366.09 348.24,365.43 355.12,364.83 361.76,364.31 368.00,363.90 374.09,363.59 380.35,363.33 386.72,363.13 393.12,362.97 399.47,362.85 405.70,362.77 411.75,362.72 417.53,362.69 422.97,362.69 428.00,362.70 432.47,362.75 436.38,362.84 439.86,362.97 443.05,363.13 446.09,363.32 449.13,363.52 452.30,363.72 455.74,363.93 459.60,364.12 464.00,364.30 469.20,364.47 475.20,364.66 481.74,364.86 488.59,365.05 495.50,365.25 502.23,365.44 508.54,365.61 514.18,365.77 518.92,365.90 522.50,366.00" fill="none" stroke="#3f5fd0" stroke-width="1.0" stroke-dasharray="1.3,1.5"/>
<rect x="313.70" y="372.30" width="3.40" height="3.40" fill="none" stroke="#222" stroke-width="0.7" />
<rect x="326.60" y="367.30" width="3.40" height="3.40" fill="none" stroke="#222" stroke-width="0.7" />
<rect x="339.30" y="366.70" width="3.40" height="3.40" fill="none" stroke="#222" stroke-width="0.7" />
<rect x="352.00" y="362.20" width="3.40" height="3.40" fill="none" stroke="#222" stroke-width="0.7" />
<rect x="364.50" y="361.10" width="3.40" height="3.40" fill="none" stroke="#222" stroke-width="0.7" />
<rect x="377.60" y="363.80" width="3.40" height="3.40" fill="none" stroke="#222" stroke-width="0.7" />
<rect x="390.00" y="359.50" width="3.40" height="3.40" fill="none" stroke="#222" stroke-width="0.7" />
<rect x="401.80" y="361.90" width="3.40" height="3.40" fill="none" stroke="#222" stroke-width="0.7" />
<rect x="413.70" y="363.80" width="3.40" height="3.40" fill="none" stroke="#222" stroke-width="0.7" />
<rect x="425.90" y="360.90" width="3.40" height="3.40" fill="none" stroke="#222" stroke-width="0.7" />
<rect x="438.40" y="358.60" width="3.40" height="3.40" fill="none" stroke="#222" stroke-width="0.7" />
<rect x="450.30" y="361.50" width="3.40" height="3.40" fill="none" stroke="#222" stroke-width="0.7" />
<rect x="463.80" y="361.90" width="3.40" height="3.40" fill="none" stroke="#222" stroke-width="0.7" />
<rect x="477.80" y="362.20" width="3.40" height="3.40" fill="none" stroke="#222" stroke-width="0.7" />
<rect x="490.80" y="363.10" width="3.40" height="3.40" fill="none" stroke="#222" stroke-width="0.7" />
<rect x="502.80" y="365.00" width="3.40" height="3.40" fill="none" stroke="#222" stroke-width="0.7" />
<rect x="513.80" y="363.10" width="3.40" height="3.40" fill="none" stroke="#222" stroke-width="0.7" />
</g>
<rect x="308.50" y="347.00" width="214.00" height="30.50" fill="none" stroke="#777" stroke-width="0.9" />
<line x1="317.60" y1="377.50" x2="317.60" y2="374.30" stroke="#777" stroke-width="0.8" />
<line x1="317.60" y1="347.00" x2="317.60" y2="350.20" stroke="#777" stroke-width="0.8" />
<line x1="353.51" y1="377.50" x2="353.51" y2="374.30" stroke="#777" stroke-width="0.8" />
<line x1="353.51" y1="347.00" x2="353.51" y2="350.20" stroke="#777" stroke-width="0.8" />
<line x1="378.98" y1="377.50" x2="378.98" y2="374.30" stroke="#777" stroke-width="0.8" />
<line x1="378.98" y1="347.00" x2="378.98" y2="350.20" stroke="#777" stroke-width="0.8" />
<line x1="398.74" y1="377.50" x2="398.74" y2="374.30" stroke="#777" stroke-width="0.8" />
<line x1="398.74" y1="347.00" x2="398.74" y2="350.20" stroke="#777" stroke-width="0.8" />
<line x1="414.89" y1="377.50" x2="414.89" y2="374.30" stroke="#777" stroke-width="0.8" />
<line x1="414.89" y1="347.00" x2="414.89" y2="350.20" stroke="#777" stroke-width="0.8" />
<line x1="428.54" y1="377.50" x2="428.54" y2="374.30" stroke="#777" stroke-width="0.8" />
<line x1="428.54" y1="347.00" x2="428.54" y2="350.20" stroke="#777" stroke-width="0.8" />
<line x1="440.36" y1="377.50" x2="440.36" y2="374.30" stroke="#777" stroke-width="0.8" />
<line x1="440.36" y1="347.00" x2="440.36" y2="350.20" stroke="#777" stroke-width="0.8" />
<line x1="450.79" y1="377.50" x2="450.79" y2="374.30" stroke="#777" stroke-width="0.8" />
<line x1="450.79" y1="347.00" x2="450.79" y2="350.20" stroke="#777" stroke-width="0.8" />
<line x1="460.12" y1="377.50" x2="460.12" y2="371.50" stroke="#777" stroke-width="0.8" />
<line x1="460.12" y1="347.00" x2="460.12" y2="353.00" stroke="#777" stroke-width="0.8" />
<line x1="521.50" y1="377.50" x2="521.50" y2="374.30" stroke="#777" stroke-width="0.8" />
<line x1="521.50" y1="347.00" x2="521.50" y2="350.20" stroke="#777" stroke-width="0.8" />
<line x1="308.50" y1="372.42" x2="311.00" y2="372.42" stroke="#777" stroke-width="0.7" />
<line x1="522.50" y1="372.42" x2="520.00" y2="372.42" stroke="#777" stroke-width="0.7" />
<line x1="308.50" y1="367.33" x2="313.10" y2="367.33" stroke="#777" stroke-width="0.7" />
<line x1="522.50" y1="367.33" x2="517.90" y2="367.33" stroke="#777" stroke-width="0.7" />
<line x1="308.50" y1="362.25" x2="311.00" y2="362.25" stroke="#777" stroke-width="0.7" />
<line x1="522.50" y1="362.25" x2="520.00" y2="362.25" stroke="#777" stroke-width="0.7" />
<line x1="308.50" y1="357.17" x2="313.10" y2="357.17" stroke="#777" stroke-width="0.7" />
<line x1="522.50" y1="357.17" x2="517.90" y2="357.17" stroke="#777" stroke-width="0.7" />
<line x1="308.50" y1="352.08" x2="311.00" y2="352.08" stroke="#777" stroke-width="0.7" />
<line x1="522.50" y1="352.08" x2="520.00" y2="352.08" stroke="#777" stroke-width="0.7" />
<text x="306.80" y="380.70" font-family='"Liberation Sans", sans-serif' font-size="8.9" text-anchor="end" font-weight="normal" font-style="normal" fill="#111" >0</text>
<text x="306.80" y="370.53" font-family='"Liberation Sans", sans-serif' font-size="8.9" text-anchor="end" font-weight="normal" font-style="normal" fill="#111" >0.02</text>
<text x="306.80" y="360.37" font-family='"Liberation Sans", sans-serif' font-size="8.9" text-anchor="end" font-weight="normal" font-style="normal" fill="#111" >0.04</text>
<text x="326.00" y="355.40" font-family='"Liberation Sans", sans-serif' font-size="9.2" text-anchor="start" font-weight="bold" font-style="normal" fill="#111" >1.5 &lt; |y| &lt; 2</text>
<clipPath id="cd4"><rect x="308.5" y="381.0" width="214.0" height="30.19999999999999"/></clipPath>
<g clip-path="url(#cd4)">
<polygon points="308.50,400.70 312.07,400.49 315.63,400.27 319.20,400.05 322.77,399.83 326.33,399.60 329.90,399.39 333.47,399.17 337.03,398.96 340.60,398.75 344.17,398.55 347.73,398.36 351.30,398.18 354.87,398.00 358.43,397.85 362.00,397.70 365.57,397.58 369.13,397.46 372.70,397.32 376.27,397.19 379.83,397.07 383.40,396.97 386.97,396.86 390.53,396.78 394.10,396.70 397.67,396.63 401.23,396.57 404.80,396.52 408.37,396.49 411.93,396.46 415.50,396.46 419.07,396.47 422.63,396.50 426.20,396.57 429.77,396.68 433.33,396.86 436.90,397.13 440.47,397.49 444.03,397.93 447.60,398.42 451.17,398.91 454.73,399.35 458.30,399.73 461.87,400.04 465.43,400.28 469.00,400.47 472.57,400.64 476.13,400.81 479.70,400.96 483.27,401.10 486.83,401.24 490.40,401.37 493.97,401.50 497.53,401.63 501.10,401.76 504.67,401.88 508.23,402.00 511.80,402.12 515.37,402.25 518.93,402.37 522.50,402.50 522.50,406.30 518.93,406.14 515.37,406.00 511.80,405.85 508.23,405.70 504.67,405.56 501.10,405.41 497.53,405.26 493.97,405.11 490.40,404.95 486.83,404.80 483.27,404.63 479.70,404.46 476.13,404.29 472.57,404.10 469.00,403.91 465.43,403.69 461.87,403.45 458.30,403.16 454.73,402.81 451.17,402.38 447.60,401.91 444.03,401.44 440.47,401.02 436.90,400.68 433.33,400.43 429.77,400.27 426.20,400.15 422.63,400.05 419.07,399.98 415.50,399.94 411.93,399.90 408.37,399.89 404.80,399.89 401.23,399.90 397.67,399.92 394.10,399.96 390.53,400.00 386.97,400.05 383.40,400.12 379.83,400.19 376.27,400.27 372.70,400.37 369.13,400.47 365.57,400.62 362.00,400.80 358.43,401.01 354.87,401.23 351.30,401.46 347.73,401.70 344.17,401.95 340.60,402.21 337.03,402.48 333.47,402.75 329.90,403.03 326.33,403.31 322.77,403.59 319.20,403.87 315.63,404.15 312.07,404.43 308.50,404.70" fill="#cfcf2e" />
<polyline points="308.50,400.70 312.07,400.49 315.63,400.27 319.20,400.05 322.77,399.83 326.33,399.60 329.90,399.39 333.47,399.17 337.03,398.96 340.60,398.75 344.17,398.55 347.73,398.36 351.30,398.18 354.87,398.00 358.43,397.85 362.00,397.70 365.57,397.58 369.13,397.46 372.70,397.32 376.27,397.19 379.83,397.07 383.40,396.97 386.97,396.86 390.53,396.78 394.10,396.70 397.67,396.63 401.23,396.57 404.80,396.52 408.37,396.49 411.93,396.46 415.50,396.46 419.07,396.47 422.63,396.50 426.20,396.57 429.77,396.68 433.33,396.86 436.90,397.13 440.47,397.49 444.03,397.93 447.60,398.42 451.17,398.91 454.73,399.35 458.30,399.73 461.87,400.04 465.43,400.28 469.00,400.47 472.57,400.64 476.13,400.81 479.70,400.96 483.27,401.10 486.83,401.24 490.40,401.37 493.97,401.50 497.53,401.63 501.10,401.76 504.67,401.88 508.23,402.00 511.80,402.12 515.37,402.25 518.93,402.37 522.50,402.50" fill="none" stroke="#a0a020" stroke-width="0.5" />
<polyline points="308.50,404.70 312.07,404.43 315.63,404.15 319.20,403.87 322.77,403.59 326.33,403.31 329.90,403.03 333.47,402.75 337.03,402.48 340.60,402.21 344.17,401.95 347.73,401.70 351.30,401.46 354.87,401.23 358.43,401.01 362.00,400.80 365.57,400.62 369.13,400.47 372.70,400.37 376.27,400.27 379.83,400.19 383.40,400.12 386.97,400.05 390.53,400.00 394.10,399.96 397.67,399.92 401.23,399.90 404.80,399.89 408.37,399.89 411.93,399.90 415.50,399.94 419.07,399.98 422.63,400.05 426.20,400.15 429.77,400.27 433.33,400.43 436.90,400.68 440.47,401.02 444.03,401.44 447.60,401.91 451.17,402.38 454.73,402.81 458.30,403.16 461.87,403.45 465.43,403.69 469.00,403.91 472.57,404.10 476.13,404.29 479.70,404.46 483.27,404.63 486.83,404.80 490.40,404.95 493.97,405.11 497.53,405.26 501.10,405.41 504.67,405.56 508.23,405.70 511.80,405.85 515.37,406.00 518.93,406.14 522.50,406.30" fill="none" stroke="#a0a020" stroke-width="0.5" />
<polyline points="308.50,402.70 312.07,402.46 315.63,402.21 319.20,401.96 322.77,401.71 326.33,401.45 329.90,401.21 333.47,400.96 337.03,400.72 340.60,400.48 344.17,400.25 347.73,400.03 351.30,399.82 354.87,399.62 358.43,399.43 362.00,399.25 365.57,399.10 369.13,398.96 372.70,398.84 376.27,398.73 379.83,398.63 383.40,398.54 386.97,398.46 390.53,398.39 394.10,398.33 397.67,398.28 401.23,398.23 404.80,398.20 408.37,398.19 411.93,398.18 415.50,398.20 419.07,398.23 422.63,398.28 426.20,398.36 429.77,398.47 433.33,398.65 436.90,398.90 440.47,399.25 444.03,399.68 447.60,400.16 451.17,400.64 454.73,401.08 458.30,401.45 461.87,401.74 465.43,401.98 469.00,402.19 472.57,402.37 476.13,402.55 479.70,402.71 483.27,402.87 486.83,403.02 490.40,403.16 493.97,403.31 497.53,403.45 501.10,403.58 504.67,403.72 508.23,403.85 511.80,403.99 515.37,404.12 518.93,404.26 522.50,404.40" fill="none" stroke="#4a4a30" stroke-width="0.55" stroke-dasharray="1.2,1.2"/>
<polyline points="308.50,402.50 312.04,402.00 316.58,401.33 321.96,400.52 327.99,399.63 334.50,398.68 341.31,397.70 348.24,396.75 355.12,395.86 361.76,395.06 368.00,394.40 374.09,393.85 380.35,393.36 386.72,392.93 393.12,392.55 399.47,392.21 405.70,391.89 411.75,391.61 417.53,391.33 422.97,391.07 428.00,390.80 432.47,390.55 436.38,390.35 439.86,390.17 443.05,390.01 446.09,389.87 449.13,389.73 452.30,389.58 455.74,389.41 459.60,389.22 464.00,389.00 469.20,388.73 475.20,388.41 481.74,388.07 488.59,387.70 495.50,387.34 502.23,386.98 508.54,386.64 514.18,386.34 518.92,386.09 522.50,385.90" fill="none" stroke="#f8b8b8" stroke-width="0.8" />
<polyline points="308.50,409.00 312.04,408.63 316.58,408.13 321.96,407.53 327.99,406.86 334.50,406.15 341.31,405.43 348.24,404.74 355.12,404.10 361.76,403.54 368.00,403.10 374.09,402.76 380.35,402.50 386.72,402.29 393.12,402.14 399.47,402.01 405.70,401.91 411.75,401.82 417.53,401.73 422.97,401.63 428.00,401.50 432.47,401.36 436.38,401.22 439.86,401.08 443.05,400.94 446.09,400.81 449.13,400.68 452.30,400.56 455.74,400.44 459.60,400.32 464.00,400.20 469.20,400.08 475.20,399.96 481.74,399.85 488.59,399.73 495.50,399.62 502.23,399.51 508.54,399.42 514.18,399.33 518.92,399.26 522.50,399.20" fill="none" stroke="#f8c4c4" stroke-width="0.8" />
<polyline points="308.50,406.70 312.04,406.35 316.58,405.89 321.96,405.35 327.99,404.73 334.50,404.08 341.31,403.41 348.24,402.74 355.12,402.10 361.76,401.51 368.00,401.00 374.09,400.54 380.35,400.09 386.72,399.66 393.12,399.25 399.47,398.86 405.70,398.49 411.75,398.15 417.53,397.84 422.97,397.55 428.00,397.30 432.47,397.10 436.38,396.96 439.86,396.86 443.05,396.79 446.09,396.74 449.13,396.70 452.30,396.65 455.74,396.57 459.60,396.46 464.00,396.30 469.20,396.08 475.20,395.81 481.74,395.50 488.59,395.18 495.50,394.84 502.23,394.50 508.54,394.19 514.18,393.91 518.92,393.67 522.50,393.50" fill="none" stroke="#e84040" stroke-width="1.0" />
<polyline points="308.50,404.10 312.04,403.85 316.58,403.52 321.96,403.13 327.99,402.68 334.50,402.21 341.31,401.74 348.24,401.28 355.12,400.86 361.76,400.49 368.00,400.20 374.09,399.96 380.35,399.75 386.72,399.56 393.12,399.40 399.47,399.27 405.70,399.17 411.75,399.11 417.53,399.10 422.97,399.12 428.00,399.20 432.47,399.34 436.38,399.55 439.86,399.82 443.05,400.14 446.09,400.49 449.13,400.85 452.30,401.22 455.74,401.57 459.60,401.91 464.00,402.20 469.20,402.48 475.20,402.76 481.74,403.04 488.59,403.32 495.50,403.59 502.23,403.84 508.54,404.08 514.18,404.28 518.92,404.46 522.50,404.60" fill="none" stroke="#3f5fd0" stroke-width="1.0" stroke-dasharray="1.3,1.5"/>
<line x1="315.40" y1="397.50" x2="315.40" y2="405.50" stroke="#7d90d0" stroke-width="0.8" />
<line x1="341.00" y1="396.50" x2="341.00" y2="404.00" stroke="#7d90d0" stroke-width="0.8" />
<line x1="353.70" y1="393.00" x2="353.70" y2="403.50" stroke="#7d90d0" stroke-width="0.8" />
<line x1="391.70" y1="392.50" x2="391.70" y2="401.50" stroke="#7d90d0" stroke-width="0.8" />
<line x1="403.50" y1="393.00" x2="403.50" y2="401.50" stroke="#7d90d0" stroke-width="0.8" />
<line x1="427.60" y1="395.00" x2="427.60" y2="401.00" stroke="#7d90d0" stroke-width="0.8" />
<polygon points="315.40,399.00 317.50,402.80 313.30,402.80" fill="#000" />
<polygon points="328.30,401.00 330.40,404.80 326.20,404.80" fill="#000" />
<polygon points="341.00,398.40 343.10,402.20 338.90,402.20" fill="#000" />
<polygon points="353.70,396.20 355.80,400.00 351.60,400.00" fill="#000" />
<polygon points="366.20,403.70 368.30,407.50 364.10,407.50" fill="#000" />
<polygon points="379.30,396.40 381.40,400.20 377.20,400.20" fill="#000" />
<polygon points="391.70,396.90 393.80,400.70 389.60,400.70" fill="#000" />
<polygon points="403.50,396.00 405.60,399.80 401.40,399.80" fill="#000" />
<polygon points="415.40,399.80 417.50,403.60 413.30,403.60" fill="#000" />
<polygon points="427.60,395.70 429.70,399.50 425.50,399.50" fill="#000" />
<polygon points="440.10,398.30 442.20,402.10 438.00,402.10" fill="#000" />
<polygon points="452.00,397.80 454.10,401.60 449.90,401.60" fill="#000" />
<polygon points="465.50,399.10 467.60,402.90 463.40,402.90" fill="#000" />
<polygon points="479.50,399.60 481.60,403.40 477.40,403.40" fill="#000" />
<polygon points="492.50,399.40 494.60,403.20 490.40,403.20" fill="#000" />
<polygon points="504.50,400.70 506.60,404.50 502.40,404.50" fill="#000" />
<polygon points="515.50,401.90 517.60,405.70 513.40,405.70" fill="#000" />
</g>
<rect x="308.50" y="381.00" width="214.00" height="30.20" fill="none" stroke="#777" stroke-width="0.9" />
<line x1="317.60" y1="411.20" x2="317.60" y2="408.00" stroke="#777" stroke-width="0.8" />
<line x1="317.60" y1="381.00" x2="317.60" y2="384.20" stroke="#777" stroke-width="0.8" />
<line x1="353.51" y1="411.20" x2="353.51" y2="408.00" stroke="#777" stroke-width="0.8" />
<line x1="353.51" y1="381.00" x2="353.51" y2="384.20" stroke="#777" stroke-width="0.8" />
<line x1="378.98" y1="411.20" x2="378.98" y2="408.00" stroke="#777" stroke-width="0.8" />
<line x1="378.98" y1="381.00" x2="378.98" y2="384.20" stroke="#777" stroke-width="0.8" />
<line x1="398.74" y1="411.20" x2="398.74" y2="408.00" stroke="#777" stroke-width="0.8" />
<line x1="398.74" y1="381.00" x2="398.74" y2="384.20" stroke="#777" stroke-width="0.8" />
<line x1="414.89" y1="411.20" x2="414.89" y2="408.00" stroke="#777" stroke-width="0.8" />
<line x1="414.89" y1="381.00" x2="414.89" y2="384.20" stroke="#777" stroke-width="0.8" />
<line x1="428.54" y1="411.20" x2="428.54" y2="408.00" stroke="#777" stroke-width="0.8" />
<line x1="428.54" y1="381.00" x2="428.54" y2="384.20" stroke="#777" stroke-width="0.8" />
<line x1="440.36" y1="411.20" x2="440.36" y2="408.00" stroke="#777" stroke-width="0.8" />
<line x1="440.36" y1="381.00" x2="440.36" y2="384.20" stroke="#777" stroke-width="0.8" />
<line x1="450.79" y1="411.20" x2="450.79" y2="408.00" stroke="#777" stroke-width="0.8" />
<line x1="450.79" y1="381.00" x2="450.79" y2="384.20" stroke="#777" stroke-width="0.8" />
<line x1="460.12" y1="411.20" x2="460.12" y2="405.20" stroke="#777" stroke-width="0.8" />
<line x1="460.12" y1="381.00" x2="460.12" y2="387.00" stroke="#777" stroke-width="0.8" />
<line x1="521.50" y1="411.20" x2="521.50" y2="408.00" stroke="#777" stroke-width="0.8" />
<line x1="521.50" y1="381.00" x2="521.50" y2="384.20" stroke="#777" stroke-width="0.8" />
<line x1="308.50" y1="406.17" x2="311.00" y2="406.17" stroke="#777" stroke-width="0.7" />
<line x1="522.50" y1="406.17" x2="520.00" y2="406.17" stroke="#777" stroke-width="0.7" />
<line x1="308.50" y1="401.13" x2="313.10" y2="401.13" stroke="#777" stroke-width="0.7" />
<line x1="522.50" y1="401.13" x2="517.90" y2="401.13" stroke="#777" stroke-width="0.7" />
<line x1="308.50" y1="396.10" x2="311.00" y2="396.10" stroke="#777" stroke-width="0.7" />
<line x1="522.50" y1="396.10" x2="520.00" y2="396.10" stroke="#777" stroke-width="0.7" />
<line x1="308.50" y1="391.07" x2="313.10" y2="391.07" stroke="#777" stroke-width="0.7" />
<line x1="522.50" y1="391.07" x2="517.90" y2="391.07" stroke="#777" stroke-width="0.7" />
<line x1="308.50" y1="386.03" x2="311.00" y2="386.03" stroke="#777" stroke-width="0.7" />
<line x1="522.50" y1="386.03" x2="520.00" y2="386.03" stroke="#777" stroke-width="0.7" />
<text x="306.80" y="414.40" font-family='"Liberation Sans", sans-serif' font-size="8.9" text-anchor="end" font-weight="normal" font-style="normal" fill="#111" >0</text>
<text x="306.80" y="404.33" font-family='"Liberation Sans", sans-serif' font-size="8.9" text-anchor="end" font-weight="normal" font-style="normal" fill="#111" >0.02</text>
<text x="306.80" y="394.27" font-family='"Liberation Sans", sans-serif' font-size="8.9" text-anchor="end" font-weight="normal" font-style="normal" fill="#111" >0.04</text>
<text x="326.00" y="389.20" font-family='"Liberation Sans", sans-serif' font-size="9.2" text-anchor="start" font-weight="bold" font-style="normal" fill="#111" >2 &lt; |y| &lt; 2.2</text>
<text x="317.60" y="421.80" font-family='"Liberation Sans", sans-serif' font-size="10.6" text-anchor="middle" font-weight="normal" font-style="normal" fill="#111" >20</text>
<text x="353.51" y="421.80" font-family='"Liberation Sans", sans-serif' font-size="10.6" text-anchor="middle" font-weight="normal" font-style="normal" fill="#111" >30</text>
<text x="378.98" y="421.80" font-family='"Liberation Sans", sans-serif' font-size="10.6" text-anchor="middle" font-weight="normal" font-style="normal" fill="#111" >40</text>
<text x="398.74" y="421.80" font-family='"Liberation Sans", sans-serif' font-size="10.6" text-anchor="middle" font-weight="normal" font-style="normal" fill="#111" >50</text>
<text x="460.12" y="421.80" font-family='"Liberation Sans", sans-serif' font-size="10.6" text-anchor="middle" font-weight="normal" font-style="normal" fill="#111" >100</text>
<text x="521.50" y="421.80" font-family='"Liberation Sans", sans-serif' font-size="10.6" text-anchor="middle" font-weight="normal" font-style="normal" fill="#111" >200</text>
<text x="522.6" y="440.3" textLength="86.5" lengthAdjust="spacingAndGlyphs" font-family='"Liberation Sans", sans-serif' font-size="13.8" text-anchor="end" fill="#111">b-jet p<tspan font-size="9" dy="3.6">T</tspan><tspan dy="-3.6"> (GeV)</tspan></text>
<g transform="translate(282.4,211.0) rotate(-90)"><text x="0" y="0" font-family='"Liberation Sans", sans-serif' font-size="13.5" text-anchor="end" fill="#111">b-jet / inclusive jet</text></g>
<text x="308.60" y="207.70" font-family='"Liberation Sans", sans-serif' font-size="10.3" text-anchor="start" font-weight="bold" font-style="normal" fill="#111" >CMS</text>
<text x="339.5" y="207.7" font-family='"Liberation Sans", sans-serif' font-size="10.3" font-weight="bold" fill="#111">L = 34 pb<tspan font-size="6.4" dy="-4">-1</tspan></text>
<text x="521.30" y="206.80" font-family='"Liberation Sans", sans-serif' font-size="10.0" text-anchor="end" font-weight="bold" font-style="normal" fill="#111"  textLength="50.8" lengthAdjust="spacingAndGlyphs">√s = 7 TeV</text>
<line x1="476.10" y1="199.20" x2="482.20" y2="199.20" stroke="#111" stroke-width="0.7" />
<line x1="318.00" y1="218.40" x2="330.50" y2="218.40" stroke="#f8b8b8" stroke-width="0.9" />
<line x1="318.00" y1="223.00" x2="330.50" y2="223.00" stroke="#e84040" stroke-width="1.1" />
<line x1="318.00" y1="226.30" x2="330.50" y2="226.30" stroke="#f8b8b8" stroke-width="0.9" />
<text x="333.80" y="225.40" font-family='"Liberation Sans", sans-serif' font-size="9.3" text-anchor="start" font-weight="bold" font-style="normal" fill="#111" >MC@NLO/FastNLO</text>
<line x1="318.00" y1="233.30" x2="330.50" y2="233.30" stroke="#3f5fd0" stroke-width="1.0" stroke-dasharray="1.3,1.5"/>
<text x="333.80" y="236.70" font-family='"Liberation Sans", sans-serif' font-size="9.3" text-anchor="start" font-weight="bold" font-style="normal" fill="#111" >Pythia</text>
<rect x="425.30" y="219.60" width="12.50" height="6.60" fill="#cfcf2e" stroke="#7a7a1a" stroke-width="0.6" />
<text x="440.30" y="225.10" font-family='"Liberation Sans", sans-serif' font-size="9.3" text-anchor="start" font-weight="bold" font-style="normal" fill="#111" >Exp. uncertainty</text>
<text x="402.00" y="454.00" font-family='"Liberation Serif", serif' font-size="16.5" text-anchor="middle" font-weight="normal" font-style="normal" fill="#222" >(d)</text>
</svg>
</body></html>
